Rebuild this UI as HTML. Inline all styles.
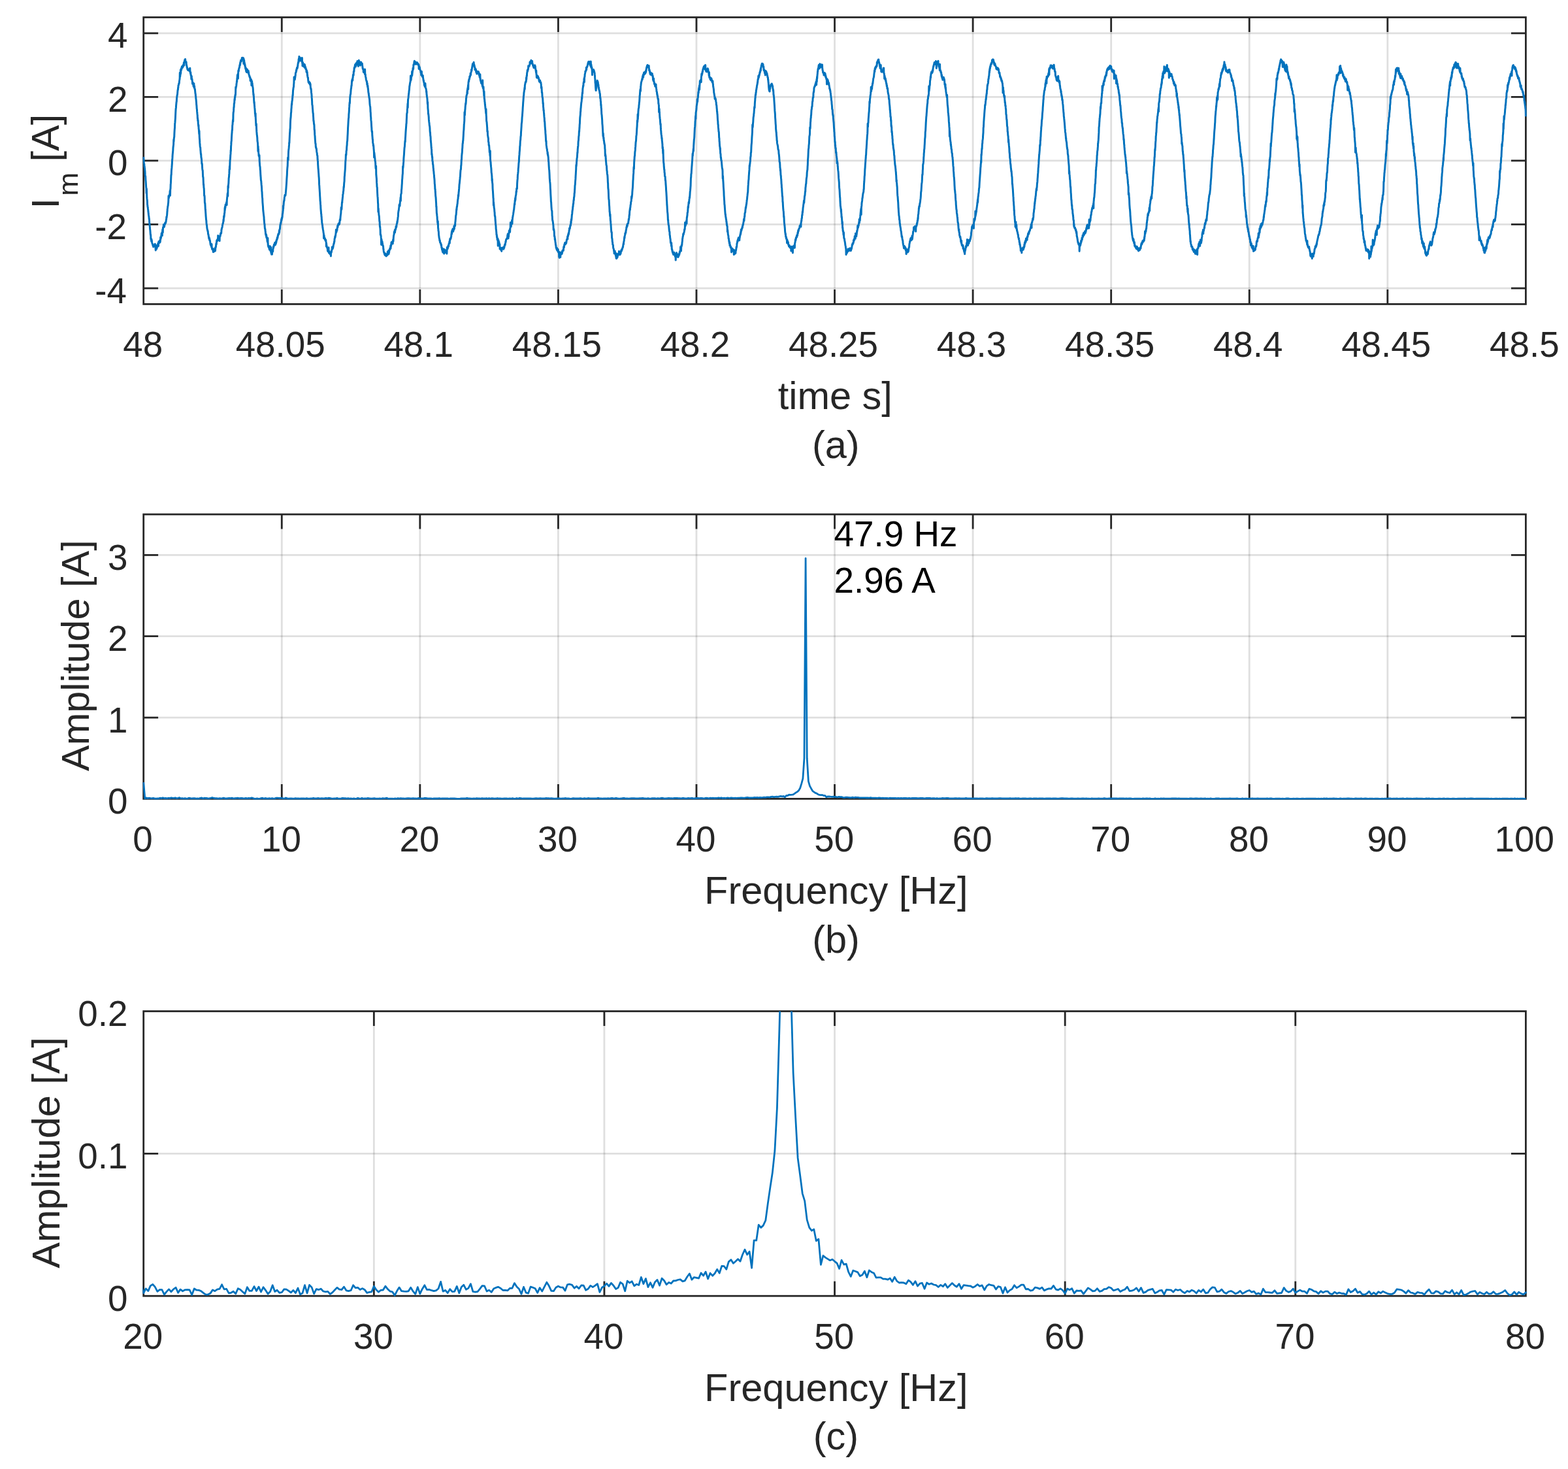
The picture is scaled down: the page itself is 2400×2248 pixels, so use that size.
<!DOCTYPE html>
<html lang="en"><head><meta charset="utf-8"><title>Motor current: time signal and spectrum</title>
<style>html,body{margin:0;padding:0;background:#fff}svg{display:block}text{font-family:"Liberation Sans",sans-serif}</style></head>
<body>
<svg width="2400" height="2248" viewBox="0 0 2400 2248">
<rect width="2400" height="2248" fill="#fff"/>
<defs>
<clipPath id="clip-a"><rect x="218.31" y="26.50" width="2118.48" height="440.29"/></clipPath>
<clipPath id="clip-b"><rect x="218.31" y="787.10" width="2118.48" height="436.69"/></clipPath>
<clipPath id="clip-c"><rect x="218.31" y="1547.50" width="2118.48" height="437.09"/></clipPath>
</defs>
<g id="axes-a">
<path d="M431.27 26.50V465.40M642.84 26.50V465.40M854.41 26.50V465.40M1065.98 26.50V465.40M1277.55 26.50V465.40M1489.12 26.50V465.40M1700.69 26.50V465.40M1912.26 26.50V465.40M2123.83 26.50V465.40" stroke="#262626" stroke-opacity="0.15" stroke-width="2.78" fill="none"/>
<path d="M219.70 441.02H2335.40M219.70 343.48H2335.40M219.70 245.95H2335.40M219.70 148.42H2335.40M219.70 50.88H2335.40" stroke="#262626" stroke-opacity="0.15" stroke-width="2.78" fill="none"/>
<path d="M431.27 465.40v-22.40M431.27 26.50v22.40M642.84 465.40v-22.40M642.84 26.50v22.40M854.41 465.40v-22.40M854.41 26.50v22.40M1065.98 465.40v-22.40M1065.98 26.50v22.40M1277.55 465.40v-22.40M1277.55 26.50v22.40M1489.12 465.40v-22.40M1489.12 26.50v22.40M1700.69 465.40v-22.40M1700.69 26.50v22.40M1912.26 465.40v-22.40M1912.26 26.50v22.40M2123.83 465.40v-22.40M2123.83 26.50v22.40M219.70 441.02h22.40M2335.40 441.02h-22.40M219.70 343.48h22.40M2335.40 343.48h-22.40M219.70 245.95h22.40M2335.40 245.95h-22.40M219.70 148.42h22.40M2335.40 148.42h-22.40M219.70 50.88h22.40M2335.40 50.88h-22.40" stroke="#262626" stroke-width="2.78" fill="none"/>
<rect x="219.70" y="26.50" width="2115.70" height="438.90" stroke="#262626" stroke-width="2.78" fill="none"/>
<polyline clip-path="url(#clip-a)" points="219.7,240.1 219.9,243.0 220.1,246.5 220.3,248.7 220.5,250.0 220.8,251.4 221.0,255.5 221.2,254.5 221.4,257.2 221.6,258.1 221.8,261.1 222.0,262.3 222.2,267.4 222.5,270.1 222.7,270.0 222.9,275.3 223.1,277.1 223.3,279.9 223.5,283.6 223.7,286.8 223.9,287.9 224.1,295.7 224.4,288.8 224.6,296.1 224.8,301.6 225.0,304.4 225.2,306.1 225.4,307.4 225.6,313.3 225.8,314.1 226.0,316.6 226.3,317.7 226.5,320.0 226.7,321.0 226.9,323.9 227.1,324.9 227.3,327.3 227.5,329.0 227.7,330.2 228.0,332.2 228.2,335.5 228.4,334.5 228.6,338.8 228.8,342.5 229.0,341.9 229.2,346.5 229.4,347.5 229.6,350.6 229.9,352.8 230.1,355.4 230.3,358.6 230.5,359.9 230.7,359.4 230.9,365.9 231.1,364.6 231.3,365.4 231.5,368.2 231.8,369.5 232.0,366.2 232.2,370.1 232.4,368.0 232.6,370.7 232.8,372.1 233.0,372.5 233.2,373.1 233.5,373.1 233.7,374.6 233.9,375.5 234.1,375.9 234.3,374.9 234.5,375.7 234.7,377.8 234.9,377.3 235.1,376.0 235.4,376.9 235.6,376.5 235.8,377.0 236.0,376.1 236.2,375.3 236.4,374.8 236.6,376.2 236.8,374.0 237.0,376.8 237.3,373.3 237.5,376.1 237.7,376.8 237.9,378.1 238.1,381.0 238.3,383.0 238.5,377.5 238.7,375.4 239.0,379.2 239.2,375.4 239.4,378.0 239.6,376.9 239.8,380.8 240.0,377.7 240.2,378.1 240.4,376.7 240.6,377.2 240.9,378.2 241.1,375.3 241.3,374.9 241.5,374.3 241.7,373.1 241.9,372.3 242.1,372.9 242.3,373.9 242.5,376.5 242.8,369.8 243.0,370.3 243.2,370.8 243.4,371.3 243.6,370.8 243.8,370.8 244.0,371.1 244.2,371.5 244.5,368.0 244.7,369.9 244.9,370.4 245.1,370.5 245.3,369.1 245.5,366.6 245.7,363.0 245.9,365.9 246.1,364.6 246.4,364.1 246.6,364.0 246.8,360.3 247.0,360.6 247.2,357.2 247.4,360.1 247.6,358.4 247.8,356.2 248.1,356.4 248.3,360.6 248.5,354.8 248.7,352.4 248.9,351.0 249.1,350.6 249.3,355.7 249.5,348.0 249.7,348.3 250.0,348.3 250.2,348.2 250.4,343.8 250.6,346.2 250.8,346.8 251.0,345.9 251.2,346.4 251.4,347.2 251.6,346.3 251.9,343.8 252.1,343.7 252.3,341.9 252.5,343.2 252.7,341.7 252.9,340.6 253.1,340.5 253.3,341.8 253.6,340.7 253.8,339.6 254.0,340.0 254.2,337.3 254.4,335.6 254.6,336.2 254.8,332.0 255.0,333.2 255.2,331.5 255.5,329.7 255.7,328.3 255.9,324.9 256.1,323.3 256.3,319.3 256.5,318.5 256.7,316.6 256.9,315.5 257.1,315.0 257.4,311.6 257.6,310.7 257.8,307.1 258.0,299.8 258.2,303.4 258.4,303.1 258.6,301.7 258.8,301.2 259.1,300.2 259.3,298.6 259.5,297.4 259.7,298.4 259.9,296.0 260.1,292.3 260.3,293.9 260.5,299.3 260.7,290.3 261.0,288.5 261.2,282.4 261.4,280.4 261.6,276.7 261.8,271.4 262.0,267.2 262.2,267.8 262.4,262.2 262.6,259.5 262.9,256.7 263.1,253.6 263.3,251.2 263.5,246.3 263.7,244.5 263.9,241.9 264.1,237.9 264.3,235.4 264.6,233.0 264.8,230.3 265.0,225.9 265.2,224.6 265.4,222.7 265.6,221.1 265.8,213.9 266.0,216.6 266.2,212.8 266.5,210.0 266.7,209.9 266.9,204.4 267.1,200.5 267.3,197.7 267.5,195.5 267.7,189.2 267.9,187.9 268.1,184.8 268.4,181.1 268.6,176.3 268.8,171.6 269.0,168.1 269.2,166.0 269.4,164.7 269.6,161.4 269.8,159.1 270.1,155.9 270.3,155.6 270.5,151.4 270.7,148.9 270.9,148.0 271.1,145.6 271.3,145.6 271.5,144.6 271.7,142.1 272.0,138.5 272.2,137.2 272.4,137.4 272.6,134.0 272.8,134.3 273.0,130.7 273.2,130.6 273.4,130.4 273.7,127.8 273.9,128.5 274.1,127.6 274.3,127.0 274.5,123.8 274.7,122.8 274.9,121.4 275.1,120.4 275.3,111.3 275.6,117.5 275.8,116.5 276.0,112.9 276.2,114.0 276.4,106.8 276.6,112.6 276.8,110.1 277.0,107.6 277.2,107.3 277.5,104.5 277.7,107.0 277.9,103.9 278.1,104.7 278.3,101.9 278.5,103.1 278.7,101.5 278.9,103.2 279.2,103.9 279.4,103.3 279.6,102.5 279.8,102.8 280.0,100.0 280.2,99.5 280.4,100.4 280.6,101.4 280.8,99.7 281.1,99.5 281.3,96.0 281.5,96.2 281.7,100.3 281.9,95.0 282.1,96.0 282.3,93.9 282.5,93.8 282.7,91.7 283.0,91.8 283.2,92.8 283.4,92.4 283.6,90.4 283.8,93.7 284.0,94.1 284.2,93.9 284.4,95.1 284.7,95.6 284.9,95.4 285.1,94.9 285.3,100.0 285.5,99.0 285.7,100.1 285.9,101.3 286.1,102.6 286.3,103.8 286.6,103.3 286.8,105.9 287.0,106.2 287.2,106.6 287.4,106.8 287.6,107.4 287.8,106.1 288.0,107.2 288.2,106.9 288.5,106.9 288.7,107.8 288.9,107.4 289.1,107.4 289.3,105.8 289.5,106.7 289.7,107.2 289.9,106.0 290.2,106.1 290.4,109.4 290.6,106.1 290.8,104.2 291.0,109.8 291.2,109.4 291.4,111.4 291.6,113.1 291.8,110.7 292.1,115.5 292.3,115.2 292.5,115.0 292.7,118.1 292.9,121.2 293.1,118.0 293.3,116.4 293.5,121.1 293.7,121.0 294.0,121.0 294.2,122.6 294.4,125.0 294.6,128.3 294.8,125.4 295.0,126.1 295.2,126.3 295.4,127.4 295.7,129.0 295.9,129.9 296.1,132.1 296.3,131.6 296.5,131.7 296.7,132.9 296.9,127.7 297.1,134.3 297.3,132.0 297.6,131.8 297.8,135.3 298.0,135.2 298.2,137.0 298.4,136.4 298.6,138.8 298.8,140.8 299.0,142.8 299.3,144.1 299.5,147.3 299.7,147.3 299.9,151.1 300.1,152.0 300.3,155.0 300.5,156.4 300.7,160.3 300.9,161.6 301.2,166.4 301.4,167.1 301.6,170.4 301.8,172.3 302.0,174.7 302.2,175.9 302.4,181.5 302.6,180.8 302.8,185.0 303.1,183.9 303.3,189.6 303.5,190.4 303.7,193.1 303.9,191.3 304.1,196.9 304.3,197.6 304.5,200.9 304.8,205.2 305.0,200.2 305.2,208.3 305.4,212.3 305.6,214.0 305.8,218.4 306.0,220.7 306.2,223.7 306.4,225.3 306.7,225.7 306.9,229.6 307.1,231.8 307.3,234.6 307.5,236.5 307.7,235.5 307.9,240.2 308.1,241.6 308.3,242.4 308.6,244.7 308.8,250.0 309.0,251.0 309.2,250.1 309.4,252.1 309.6,256.8 309.8,258.9 310.0,260.4 310.3,261.7 310.5,267.4 310.7,270.9 310.9,270.7 311.1,272.9 311.3,278.0 311.5,283.1 311.7,281.8 311.9,286.8 312.2,288.2 312.4,292.5 312.6,299.6 312.8,298.9 313.0,299.6 313.2,302.5 313.4,309.6 313.6,311.0 313.8,310.7 314.1,316.2 314.3,320.3 314.5,321.7 314.7,324.8 314.9,327.6 315.1,330.8 315.3,333.3 315.5,336.0 315.8,337.5 316.0,341.2 316.2,342.8 316.4,344.7 316.6,344.9 316.8,347.7 317.0,349.8 317.2,350.3 317.4,351.7 317.7,352.0 317.9,353.7 318.1,353.3 318.3,354.9 318.5,357.5 318.7,358.9 318.9,358.4 319.1,359.6 319.3,361.2 319.6,363.6 319.8,364.9 320.0,363.2 320.2,363.6 320.4,364.3 320.6,367.5 320.8,365.6 321.0,368.1 321.3,367.8 321.5,368.5 321.7,370.7 321.9,371.3 322.1,373.9 322.3,373.4 322.5,375.3 322.7,373.6 322.9,375.0 323.2,374.9 323.4,376.3 323.6,378.2 323.8,377.7 324.0,373.6 324.2,378.4 324.4,379.3 324.6,381.3 324.9,380.7 325.1,381.2 325.3,382.0 325.5,381.1 325.7,380.5 325.9,383.2 326.1,383.4 326.3,385.7 326.5,383.2 326.8,383.5 327.0,385.5 327.2,382.6 327.4,382.2 327.6,383.8 327.8,383.4 328.0,384.0 328.2,381.9 328.4,384.4 328.7,382.7 328.9,379.7 329.1,381.6 329.3,380.5 329.5,383.9 329.7,381.1 329.9,379.0 330.1,377.6 330.4,378.2 330.6,375.5 330.8,373.2 331.0,372.2 331.2,374.0 331.4,372.2 331.6,369.1 331.8,367.9 332.0,367.7 332.3,367.1 332.5,368.6 332.7,368.7 332.9,367.0 333.1,366.8 333.3,365.1 333.5,366.3 333.7,360.6 333.9,365.6 334.2,366.6 334.4,367.4 334.6,364.7 334.8,363.7 335.0,363.7 335.2,363.5 335.4,363.5 335.6,361.6 335.9,362.2 336.1,368.8 336.3,362.8 336.5,362.0 336.7,360.7 336.9,361.7 337.1,361.5 337.3,360.0 337.5,357.8 337.8,358.4 338.0,356.4 338.2,357.5 338.4,356.8 338.6,357.0 338.8,354.9 339.0,351.3 339.2,351.4 339.4,349.8 339.7,348.7 339.9,348.5 340.1,347.7 340.3,346.3 340.5,344.6 340.7,343.8 340.9,342.7 341.1,342.0 341.4,341.9 341.6,340.1 341.8,339.6 342.0,336.1 342.2,338.5 342.4,335.1 342.6,330.8 342.8,332.6 343.0,332.1 343.3,329.3 343.5,326.3 343.7,326.3 343.9,323.8 344.1,318.0 344.3,321.7 344.5,316.1 344.7,318.5 344.9,318.0 345.2,312.9 345.4,314.9 345.6,314.0 345.8,312.8 346.0,312.7 346.2,313.6 346.4,310.3 346.6,310.1 346.9,308.8 347.1,313.7 347.3,306.1 347.5,304.5 347.7,301.9 347.9,301.6 348.1,297.9 348.3,295.9 348.5,295.3 348.8,300.0 349.0,284.8 349.2,286.1 349.4,287.6 349.6,282.3 349.8,281.0 350.0,276.7 350.2,272.3 350.5,271.0 350.7,267.2 350.9,265.4 351.1,259.2 351.3,257.4 351.5,254.2 351.7,259.2 351.9,250.8 352.1,245.2 352.4,243.6 352.6,240.6 352.8,236.7 353.0,235.4 353.2,229.8 353.4,231.2 353.6,223.7 353.8,221.9 354.0,217.3 354.3,215.6 354.5,210.5 354.7,207.2 354.9,204.4 355.1,201.8 355.3,198.5 355.5,199.4 355.7,192.2 356.0,190.5 356.2,187.2 356.4,184.8 356.6,183.3 356.8,186.0 357.0,175.4 357.2,171.8 357.4,171.5 357.6,169.2 357.9,163.8 358.1,164.1 358.3,158.4 358.5,158.6 358.7,157.7 358.9,153.7 359.1,151.2 359.3,153.2 359.5,148.2 359.8,148.8 360.0,145.3 360.2,145.9 360.4,145.7 360.6,141.4 360.8,133.2 361.0,135.4 361.2,133.6 361.5,132.6 361.7,131.4 361.9,129.6 362.1,127.4 362.3,126.2 362.5,123.8 362.7,124.9 362.9,120.2 363.1,119.1 363.4,114.8 363.6,115.7 363.8,115.9 364.0,113.5 364.2,114.4 364.4,120.3 364.6,112.9 364.8,108.0 365.0,108.0 365.3,109.1 365.5,106.9 365.7,104.8 365.9,104.4 366.1,103.6 366.3,104.1 366.5,102.9 366.7,101.1 367.0,99.3 367.2,100.4 367.4,99.8 367.6,96.2 367.8,97.8 368.0,94.7 368.2,95.1 368.4,93.7 368.6,92.2 368.9,92.9 369.1,92.4 369.3,94.1 369.5,93.5 369.7,91.6 369.9,90.3 370.1,90.1 370.3,88.6 370.5,90.5 370.8,90.3 371.0,89.0 371.2,89.8 371.4,89.7 371.6,90.6 371.8,88.2 372.0,90.6 372.2,88.9 372.5,91.5 372.7,88.9 372.9,97.6 373.1,90.4 373.3,93.9 373.5,93.3 373.7,92.2 373.9,95.4 374.1,95.3 374.4,97.0 374.6,100.3 374.8,98.3 375.0,99.2 375.2,102.1 375.4,101.2 375.6,103.9 375.8,105.2 376.1,105.0 376.3,106.7 376.5,104.0 376.7,109.2 376.9,106.9 377.1,106.9 377.3,110.5 377.5,110.1 377.7,107.2 378.0,108.2 378.2,107.0 378.4,106.0 378.6,107.8 378.8,108.8 379.0,110.9 379.2,107.8 379.4,109.5 379.6,108.5 379.9,109.1 380.1,111.6 380.3,108.6 380.5,110.0 380.7,111.1 380.9,114.2 381.1,114.1 381.3,115.0 381.6,115.6 381.8,117.2 382.0,116.1 382.2,117.1 382.4,117.7 382.6,119.4 382.8,117.9 383.0,119.8 383.2,123.8 383.5,121.8 383.7,121.6 383.9,120.8 384.1,122.5 384.3,122.7 384.5,123.4 384.7,122.1 384.9,130.8 385.1,124.2 385.4,125.0 385.6,124.2 385.8,126.4 386.0,128.9 386.2,127.5 386.4,130.6 386.6,131.1 386.8,133.0 387.1,134.1 387.3,136.3 387.5,140.3 387.7,141.9 387.9,145.3 388.1,143.9 388.3,147.6 388.5,148.9 388.7,153.3 389.0,157.8 389.2,156.0 389.4,160.1 389.6,162.4 389.8,164.9 390.0,166.6 390.2,169.1 390.4,174.1 390.6,173.6 390.9,178.1 391.1,173.4 391.3,180.6 391.5,184.0 391.7,188.0 391.9,192.3 392.1,192.4 392.3,189.4 392.6,197.6 392.8,201.4 393.0,203.4 393.2,206.4 393.4,207.2 393.6,209.0 393.8,211.2 394.0,215.7 394.2,216.9 394.5,218.8 394.7,222.4 394.9,231.5 395.1,223.8 395.3,228.2 395.5,229.6 395.7,233.2 395.9,234.6 396.1,238.6 396.4,238.5 396.6,239.1 396.8,240.1 397.0,237.6 397.2,246.1 397.4,249.2 397.6,252.3 397.8,254.3 398.1,255.8 398.3,260.0 398.5,260.6 398.7,265.4 398.9,269.0 399.1,270.8 399.3,274.3 399.5,276.7 399.7,276.5 400.0,280.7 400.2,283.0 400.4,284.7 400.6,287.5 400.8,292.5 401.0,293.4 401.2,297.6 401.4,301.2 401.7,303.9 401.9,309.3 402.1,311.7 402.3,314.2 402.5,316.4 402.7,320.6 402.9,323.1 403.1,324.4 403.3,326.3 403.6,329.3 403.8,330.8 404.0,332.1 404.2,336.8 404.4,338.1 404.6,340.9 404.8,343.2 405.0,342.8 405.2,347.1 405.5,350.0 405.7,350.2 405.9,350.3 406.1,353.9 406.3,354.0 406.5,357.3 406.7,358.5 406.9,359.8 407.2,360.1 407.4,358.6 407.6,362.8 407.8,360.1 408.0,363.9 408.2,363.7 408.4,363.3 408.6,364.5 408.8,365.9 409.1,369.3 409.3,368.0 409.5,370.7 409.7,367.6 409.9,364.3 410.1,372.7 410.3,375.4 410.5,375.7 410.7,377.5 411.0,375.7 411.2,377.8 411.4,377.4 411.6,379.3 411.8,379.5 412.0,377.8 412.2,380.8 412.4,382.0 412.7,379.8 412.9,382.0 413.1,381.6 413.3,380.5 413.5,376.7 413.7,381.5 413.9,383.9 414.1,382.0 414.3,382.8 414.6,378.2 414.8,386.0 415.0,387.3 415.2,386.7 415.4,386.0 415.6,389.3 415.8,386.7 416.0,389.3 416.2,388.5 416.5,389.3 416.7,384.2 416.9,386.0 417.1,385.0 417.3,385.2 417.5,382.2 417.7,384.9 417.9,381.4 418.2,377.8 418.4,379.8 418.6,378.4 418.8,376.7 419.0,377.7 419.2,376.0 419.4,374.3 419.6,374.6 419.8,373.9 420.1,374.4 420.3,373.3 420.5,373.2 420.7,371.3 420.9,371.9 421.1,372.7 421.3,375.0 421.5,371.1 421.7,370.8 422.0,372.4 422.2,373.3 422.4,371.9 422.6,369.1 422.8,371.0 423.0,369.8 423.2,368.4 423.4,366.6 423.7,367.4 423.9,366.8 424.1,366.6 424.3,363.3 424.5,363.2 424.7,363.7 424.9,364.3 425.1,362.7 425.3,360.2 425.6,360.9 425.8,358.3 426.0,358.5 426.2,358.2 426.4,357.5 426.6,357.3 426.8,358.4 427.0,357.1 427.3,353.1 427.5,356.2 427.7,354.2 427.9,351.2 428.1,351.3 428.3,350.7 428.5,350.0 428.7,346.5 428.9,344.7 429.2,343.0 429.4,343.4 429.6,341.0 429.8,342.3 430.0,339.9 430.2,340.0 430.4,338.1 430.6,336.5 430.8,335.3 431.1,337.0 431.3,333.5 431.5,334.7 431.7,334.4 431.9,332.2 432.1,332.4 432.3,329.2 432.5,327.2 432.8,326.0 433.0,323.3 433.2,322.2 433.4,314.9 433.6,319.3 433.8,315.4 434.0,314.3 434.2,311.7 434.4,309.3 434.7,307.1 434.9,307.6 435.1,306.0 435.3,303.3 435.5,301.3 435.7,300.6 435.9,299.3 436.1,298.3 436.3,298.7 436.6,298.9 436.8,299.4 437.0,298.4 437.2,296.7 437.4,294.3 437.6,292.3 437.8,290.2 438.0,287.5 438.3,283.5 438.5,280.6 438.7,277.0 438.9,273.3 439.1,270.7 439.3,267.6 439.5,262.3 439.7,259.0 439.9,256.5 440.2,253.6 440.4,247.4 440.6,241.2 440.8,244.5 441.0,241.2 441.2,244.7 441.4,235.8 441.6,231.1 441.8,229.4 442.1,226.9 442.3,224.2 442.5,221.9 442.7,217.9 442.9,218.8 443.1,213.2 443.3,209.2 443.5,204.7 443.8,201.6 444.0,197.4 444.2,196.7 444.4,189.1 444.6,184.1 444.8,181.7 445.0,180.3 445.2,177.6 445.4,173.1 445.7,171.6 445.9,166.7 446.1,165.5 446.3,161.3 446.5,158.6 446.7,160.5 446.9,155.7 447.1,154.9 447.3,153.8 447.6,151.0 447.8,148.6 448.0,145.2 448.2,146.2 448.4,141.1 448.6,137.8 448.8,137.2 449.0,135.0 449.3,133.5 449.5,132.8 449.7,128.9 449.9,127.3 450.1,117.9 450.3,121.7 450.5,122.6 450.7,121.9 450.9,119.5 451.2,122.1 451.4,121.0 451.6,119.2 451.8,118.5 452.0,115.9 452.2,115.9 452.4,112.2 452.6,111.2 452.9,110.8 453.1,110.8 453.3,108.5 453.5,107.3 453.7,108.6 453.9,106.2 454.1,105.2 454.3,105.3 454.5,103.3 454.8,103.2 455.0,104.9 455.2,103.1 455.4,103.3 455.6,100.6 455.8,101.2 456.0,97.9 456.2,97.3 456.4,95.4 456.7,95.4 456.9,95.7 457.1,90.7 457.3,91.9 457.5,89.3 457.7,93.6 457.9,86.5 458.1,87.3 458.4,88.9 458.6,87.6 458.8,91.1 459.0,88.5 459.2,90.1 459.4,90.2 459.6,90.3 459.8,90.2 460.0,88.8 460.3,93.1 460.5,91.0 460.7,92.1 460.9,90.1 461.1,92.2 461.3,91.5 461.5,92.8 461.7,91.9 461.9,92.0 462.2,94.2 462.4,88.6 462.6,96.7 462.8,95.4 463.0,100.9 463.2,97.8 463.4,96.5 463.6,95.4 463.9,101.2 464.1,101.2 464.3,100.6 464.5,100.5 464.7,100.9 464.9,101.1 465.1,100.2 465.3,101.6 465.5,102.4 465.8,102.2 466.0,98.2 466.2,103.4 466.4,100.9 466.6,99.2 466.8,100.7 467.0,102.9 467.2,102.6 467.4,102.4 467.7,102.7 467.9,105.9 468.1,104.7 468.3,105.9 468.5,105.6 468.7,105.9 468.9,108.5 469.1,110.4 469.4,108.9 469.6,108.0 469.8,110.2 470.0,111.7 470.2,110.2 470.4,115.4 470.6,114.4 470.8,117.5 471.0,118.0 471.3,119.3 471.5,118.9 471.7,123.0 471.9,123.6 472.1,125.8 472.3,124.2 472.5,125.9 472.7,125.4 472.9,127.4 473.2,126.8 473.4,125.3 473.6,126.9 473.8,126.1 474.0,126.4 474.2,127.7 474.4,129.6 474.6,127.1 474.9,128.8 475.1,128.7 475.3,133.3 475.5,134.1 475.7,136.1 475.9,136.2 476.1,135.7 476.3,138.3 476.5,141.2 476.8,143.5 477.0,145.4 477.2,149.4 477.4,151.4 477.6,154.6 477.8,160.2 478.0,160.8 478.2,161.4 478.5,166.1 478.7,168.2 478.9,171.1 479.1,173.3 479.3,173.6 479.5,177.4 479.7,180.5 479.9,185.1 480.1,184.4 480.4,188.2 480.6,190.4 480.8,189.8 481.0,192.6 481.2,198.6 481.4,198.3 481.6,201.9 481.8,206.4 482.0,207.6 482.3,213.3 482.5,215.5 482.7,218.3 482.9,220.2 483.1,219.8 483.3,224.2 483.5,225.4 483.7,226.5 484.0,226.3 484.2,228.1 484.4,227.8 484.6,230.8 484.8,232.7 485.0,233.2 485.2,234.2 485.4,237.1 485.6,237.7 485.9,238.2 486.1,243.5 486.3,245.4 486.5,246.6 486.7,251.9 486.9,255.1 487.1,258.5 487.3,259.9 487.5,263.0 487.8,267.0 488.0,270.1 488.2,272.1 488.4,276.1 488.6,282.4 488.8,284.4 489.0,288.0 489.2,291.0 489.5,295.7 489.7,299.7 489.9,302.8 490.1,307.5 490.3,308.5 490.5,312.2 490.7,314.0 490.9,318.8 491.1,321.0 491.4,324.5 491.6,327.3 491.8,327.7 492.0,331.3 492.2,332.5 492.4,336.4 492.6,336.9 492.8,341.0 493.0,341.6 493.3,343.6 493.5,344.2 493.7,346.5 493.9,348.6 494.1,348.9 494.3,351.0 494.5,351.8 494.7,352.8 495.0,355.1 495.2,356.6 495.4,357.2 495.6,364.8 495.8,359.7 496.0,359.9 496.2,361.2 496.4,363.5 496.6,365.3 496.9,364.5 497.1,365.3 497.3,364.5 497.5,366.8 497.7,367.1 497.9,366.4 498.1,368.3 498.3,368.4 498.5,366.8 498.8,367.7 499.0,369.5 499.2,370.8 499.4,377.3 499.6,372.6 499.8,374.4 500.0,375.5 500.2,377.6 500.5,378.1 500.7,379.3 500.9,379.6 501.1,379.1 501.3,381.0 501.5,383.9 501.7,383.6 501.9,384.8 502.1,384.3 502.4,383.1 502.6,383.6 502.8,385.1 503.0,378.7 503.2,385.8 503.4,386.8 503.6,387.1 503.8,386.8 504.1,384.5 504.3,388.1 504.5,385.4 504.7,385.6 504.9,387.7 505.1,387.9 505.3,388.8 505.5,388.3 505.7,387.6 506.0,388.4 506.2,387.1 506.4,392.0 506.6,387.4 506.8,386.9 507.0,386.6 507.2,385.3 507.4,386.0 507.6,383.1 507.9,382.2 508.1,382.5 508.3,378.1 508.5,381.0 508.7,380.3 508.9,378.4 509.1,380.7 509.3,379.0 509.6,379.6 509.8,378.7 510.0,377.4 510.2,376.4 510.4,374.8 510.6,374.3 510.8,372.9 511.0,372.7 511.2,372.8 511.5,369.8 511.7,370.4 511.9,369.2 512.1,365.3 512.3,365.0 512.5,364.5 512.7,362.8 512.9,361.6 513.1,363.2 513.4,360.6 513.6,360.7 513.8,358.0 514.0,357.8 514.2,354.6 514.4,351.4 514.6,355.7 514.8,354.1 515.1,354.9 515.3,352.7 515.5,351.4 515.7,350.9 515.9,352.6 516.1,349.9 516.3,348.1 516.5,347.4 516.7,345.5 517.0,347.6 517.2,344.7 517.4,345.4 517.6,343.9 517.8,343.2 518.0,342.4 518.2,343.5 518.4,342.3 518.6,343.7 518.9,343.8 519.1,341.2 519.3,341.5 519.5,342.9 519.7,341.3 519.9,339.5 520.1,336.8 520.3,336.3 520.6,335.3 520.8,336.9 521.0,333.4 521.2,331.1 521.4,329.4 521.6,327.6 521.8,326.6 522.0,322.5 522.2,317.5 522.5,321.1 522.7,320.4 522.9,320.2 523.1,316.2 523.3,312.2 523.5,309.3 523.7,310.6 523.9,307.0 524.1,305.6 524.4,302.6 524.6,300.9 524.8,297.3 525.0,297.2 525.2,296.2 525.4,293.2 525.6,292.9 525.8,291.0 526.1,285.7 526.3,286.9 526.5,283.8 526.7,280.4 526.9,278.8 527.1,277.1 527.3,270.3 527.5,269.3 527.7,265.8 528.0,262.4 528.2,259.8 528.4,256.7 528.6,252.1 528.8,246.5 529.0,245.5 529.2,242.5 529.4,236.4 529.7,237.8 529.9,236.5 530.1,231.6 530.3,230.3 530.5,230.0 530.7,225.3 530.9,223.4 531.1,222.0 531.3,216.8 531.6,216.2 531.8,212.8 532.0,208.3 532.2,205.1 532.4,200.2 532.6,195.5 532.8,192.5 533.0,188.8 533.2,185.4 533.5,180.9 533.7,180.7 533.9,174.8 534.1,173.1 534.3,170.3 534.5,165.8 534.7,163.4 534.9,159.6 535.2,156.5 535.4,158.2 535.6,153.3 535.8,148.7 536.0,147.8 536.2,145.0 536.4,144.5 536.6,144.3 536.8,141.9 537.1,137.8 537.3,135.6 537.5,135.6 537.7,133.3 537.9,130.9 538.1,131.6 538.3,128.5 538.5,124.8 538.7,123.0 539.0,124.5 539.2,121.2 539.4,123.0 539.6,122.3 539.8,122.9 540.0,118.2 540.2,118.7 540.4,114.4 540.7,115.5 540.9,114.2 541.1,115.1 541.3,109.6 541.5,110.3 541.7,108.5 541.9,109.5 542.1,104.6 542.3,103.5 542.6,104.5 542.8,102.8 543.0,101.8 543.2,100.6 543.4,101.1 543.6,98.7 543.8,100.6 544.0,100.6 544.2,100.0 544.5,101.9 544.7,99.5 544.9,96.9 545.1,97.4 545.3,98.3 545.5,96.6 545.7,99.2 545.9,97.0 546.2,95.9 546.4,95.5 546.6,97.1 546.8,94.8 547.0,93.4 547.2,95.8 547.4,94.1 547.6,96.6 547.8,96.8 548.1,93.6 548.3,101.4 548.5,93.9 548.7,94.8 548.9,94.5 549.1,93.2 549.3,92.3 549.5,94.9 549.7,97.0 550.0,94.1 550.2,95.5 550.4,95.9 550.6,97.0 550.8,94.9 551.0,97.8 551.2,97.5 551.4,100.2 551.7,98.6 551.9,98.6 552.1,97.7 552.3,97.1 552.5,98.1 552.7,95.0 552.9,98.2 553.1,97.4 553.3,96.6 553.6,98.6 553.8,96.8 554.0,97.3 554.2,99.1 554.4,97.3 554.6,100.4 554.8,101.1 555.0,103.6 555.3,105.4 555.5,105.1 555.7,105.5 555.9,106.5 556.1,105.9 556.3,110.3 556.5,109.4 556.7,110.7 556.9,107.3 557.2,109.8 557.4,109.9 557.6,110.8 557.8,108.7 558.0,110.6 558.2,110.4 558.4,113.7 558.6,106.0 558.8,112.8 559.1,113.7 559.3,114.1 559.5,116.9 559.7,118.1 559.9,118.2 560.1,119.6 560.3,121.5 560.5,122.1 560.8,123.8 561.0,123.3 561.2,124.0 561.4,126.0 561.6,124.7 561.8,129.5 562.0,128.8 562.2,127.4 562.4,130.8 562.7,133.3 562.9,130.9 563.1,133.2 563.3,136.6 563.5,135.8 563.7,139.5 563.9,141.6 564.1,141.8 564.3,143.8 564.6,146.1 564.8,146.8 565.0,149.1 565.2,149.5 565.4,151.4 565.6,152.4 565.8,155.9 566.0,159.1 566.3,161.5 566.5,162.7 566.7,163.2 566.9,166.7 567.1,171.3 567.3,172.5 567.5,178.2 567.7,179.0 567.9,183.9 568.2,185.9 568.4,189.2 568.6,193.3 568.8,195.5 569.0,199.8 569.2,201.3 569.4,202.3 569.6,201.1 569.8,207.2 570.1,210.1 570.3,213.5 570.5,213.2 570.7,218.3 570.9,219.2 571.1,219.7 571.3,223.2 571.5,221.7 571.8,223.9 572.0,227.6 572.2,229.3 572.4,232.0 572.6,240.9 572.8,233.5 573.0,234.9 573.2,236.9 573.4,238.6 573.7,241.2 573.9,242.0 574.1,246.2 574.3,246.7 574.5,247.5 574.7,250.2 574.9,255.0 575.1,257.6 575.3,258.3 575.6,254.1 575.8,267.3 576.0,269.0 576.2,271.3 576.4,273.5 576.6,279.4 576.8,281.3 577.0,286.2 577.3,286.8 577.5,292.6 577.7,296.8 577.9,300.4 578.1,302.0 578.3,305.5 578.5,310.6 578.7,312.0 578.9,324.3 579.2,318.9 579.4,322.3 579.6,325.1 579.8,326.8 580.0,329.5 580.2,330.0 580.4,331.9 580.6,335.4 580.8,338.7 581.1,338.9 581.3,344.8 581.5,347.3 581.7,346.7 581.9,349.4 582.1,351.4 582.3,359.4 582.5,358.4 582.8,359.5 583.0,360.0 583.2,363.2 583.4,364.6 583.6,374.5 583.8,367.6 584.0,366.3 584.2,367.5 584.4,370.1 584.7,370.6 584.9,370.5 585.1,369.8 585.3,372.5 585.5,372.3 585.7,375.7 585.9,375.9 586.1,375.4 586.4,376.3 586.6,377.7 586.8,381.3 587.0,381.0 587.2,383.9 587.4,385.4 587.6,385.4 587.8,386.7 588.0,386.4 588.3,387.2 588.5,389.2 588.7,388.8 588.9,388.8 589.1,390.3 589.3,389.9 589.5,387.8 589.7,391.0 589.9,388.2 590.2,389.4 590.4,390.4 590.6,390.1 590.8,390.6 591.0,390.0 591.2,392.0 591.4,391.7 591.6,391.5 591.9,388.7 592.1,389.4 592.3,391.1 592.5,389.9 592.7,389.8 592.9,388.5 593.1,387.9 593.3,385.2 593.5,389.9 593.8,386.4 594.0,387.1 594.2,388.4 594.4,387.8 594.6,383.4 594.8,387.3 595.0,385.9 595.2,388.5 595.4,384.6 595.7,385.8 595.9,382.8 596.1,383.2 596.3,381.5 596.5,381.5 596.7,380.3 596.9,381.0 597.1,381.5 597.4,379.1 597.6,378.4 597.8,376.1 598.0,380.2 598.2,377.3 598.4,374.9 598.6,376.7 598.8,374.7 599.0,371.1 599.3,371.2 599.5,373.3 599.7,370.1 599.9,370.0 600.1,370.2 600.3,370.5 600.5,370.5 600.7,371.7 600.9,371.2 601.2,372.9 601.4,369.7 601.6,366.8 601.8,368.2 602.0,369.1 602.2,365.0 602.4,362.4 602.6,360.5 602.9,359.3 603.1,358.9 603.3,355.1 603.5,356.7 603.7,354.3 603.9,354.8 604.1,355.3 604.3,351.8 604.5,355.9 604.8,353.6 605.0,351.6 605.2,352.1 605.4,350.3 605.6,350.7 605.8,350.5 606.0,346.6 606.2,348.5 606.4,347.5 606.7,347.6 606.9,346.2 607.1,343.5 607.3,342.6 607.5,342.1 607.7,341.8 607.9,339.1 608.1,340.7 608.4,337.9 608.6,336.4 608.8,335.6 609.0,332.8 609.2,332.0 609.4,330.3 609.6,325.4 609.8,324.8 610.0,322.5 610.3,322.2 610.5,319.5 610.7,318.2 610.9,316.2 611.1,313.4 611.3,315.1 611.5,313.2 611.7,312.3 612.0,315.1 612.2,311.4 612.4,308.4 612.6,306.4 612.8,306.5 613.0,303.2 613.2,301.7 613.4,307.5 613.6,298.7 613.9,296.7 614.1,296.3 614.3,295.9 614.5,290.6 614.7,289.7 614.9,287.0 615.1,283.4 615.3,281.0 615.5,275.9 615.8,273.1 616.0,269.4 616.2,267.0 616.4,265.6 616.6,254.7 616.8,257.5 617.0,256.0 617.2,253.8 617.5,249.9 617.7,247.4 617.9,242.4 618.1,240.0 618.3,237.9 618.5,235.3 618.7,231.7 618.9,228.5 619.1,225.9 619.4,224.5 619.6,221.1 619.8,218.0 620.0,215.4 620.2,217.2 620.4,211.9 620.6,209.0 620.8,205.4 621.0,201.9 621.3,197.9 621.5,195.1 621.7,192.8 621.9,189.3 622.1,189.0 622.3,183.6 622.5,179.2 622.7,174.5 623.0,172.8 623.2,172.6 623.4,167.0 623.6,165.2 623.8,162.3 624.0,158.6 624.2,164.7 624.4,155.6 624.6,152.1 624.9,150.5 625.1,148.9 625.3,146.7 625.5,144.9 625.7,143.6 625.9,141.8 626.1,139.1 626.3,138.2 626.5,136.5 626.8,131.6 627.0,131.6 627.2,129.8 627.4,128.6 627.6,127.2 627.8,126.1 628.0,125.0 628.2,125.1 628.5,116.1 628.7,123.1 628.9,120.2 629.1,122.7 629.3,120.8 629.5,117.4 629.7,117.8 629.9,117.4 630.1,115.3 630.4,116.0 630.6,109.6 630.8,115.5 631.0,112.4 631.2,111.6 631.4,109.1 631.6,107.5 631.8,108.3 632.0,104.2 632.3,105.5 632.5,105.9 632.7,105.0 632.9,99.1 633.1,99.8 633.3,99.3 633.5,98.4 633.7,98.0 634.0,94.5 634.2,95.8 634.4,93.3 634.6,95.5 634.8,98.1 635.0,94.5 635.2,96.1 635.4,96.2 635.6,94.4 635.9,96.9 636.1,95.5 636.3,97.1 636.5,98.2 636.7,96.8 636.9,98.0 637.1,95.8 637.3,95.9 637.6,96.8 637.8,96.0 638.0,95.9 638.2,96.9 638.4,95.5 638.6,96.9 638.8,96.1 639.0,98.2 639.2,97.2 639.5,97.1 639.7,98.8 639.9,98.7 640.1,99.2 640.3,98.2 640.5,100.4 640.7,99.5 640.9,98.8 641.1,105.5 641.4,103.5 641.6,102.1 641.8,101.5 642.0,103.6 642.2,102.6 642.4,103.7 642.6,104.6 642.8,106.0 643.1,107.0 643.3,107.4 643.5,107.9 643.7,108.3 643.9,109.3 644.1,111.1 644.3,111.5 644.5,111.9 644.7,115.0 645.0,114.6 645.2,115.2 645.4,109.2 645.6,115.2 645.8,115.4 646.0,116.3 646.2,114.6 646.4,115.2 646.6,117.7 646.9,116.2 647.1,118.1 647.3,115.6 647.5,119.1 647.7,120.2 647.9,121.0 648.1,122.7 648.3,123.9 648.6,123.3 648.8,126.1 649.0,126.5 649.2,127.1 649.4,130.4 649.6,128.0 649.8,129.8 650.0,130.0 650.2,132.6 650.5,131.1 650.7,131.9 650.9,127.4 651.1,130.6 651.3,133.2 651.5,134.8 651.7,135.1 651.9,135.2 652.1,136.1 652.4,137.9 652.6,141.2 652.8,139.6 653.0,144.3 653.2,145.2 653.4,147.6 653.6,148.6 653.8,149.4 654.1,153.0 654.3,157.7 654.5,159.5 654.7,156.2 654.9,165.3 655.1,167.5 655.3,169.6 655.5,174.6 655.7,173.9 656.0,176.8 656.2,178.9 656.4,182.9 656.6,184.9 656.8,186.9 657.0,188.1 657.2,190.5 657.4,192.6 657.6,192.9 657.9,195.7 658.1,200.5 658.3,202.9 658.5,202.6 658.7,207.6 658.9,208.1 659.1,210.4 659.3,215.5 659.6,217.7 659.8,219.7 660.0,223.2 660.2,225.8 660.4,227.5 660.6,228.6 660.8,236.6 661.0,234.9 661.2,237.6 661.5,241.1 661.7,240.0 661.9,246.6 662.1,246.6 662.3,247.2 662.5,251.5 662.7,251.2 662.9,252.5 663.2,257.0 663.4,257.8 663.6,261.5 663.8,261.7 664.0,264.3 664.2,266.4 664.4,267.5 664.6,271.1 664.8,272.7 665.1,276.2 665.3,281.2 665.5,282.3 665.7,284.8 665.9,289.8 666.1,289.3 666.3,293.5 666.5,295.8 666.7,300.0 667.0,301.7 667.2,304.4 667.4,308.1 667.6,310.8 667.8,316.6 668.0,315.8 668.2,321.8 668.4,326.1 668.7,327.6 668.9,330.2 669.1,331.3 669.3,335.6 669.5,336.7 669.7,340.6 669.9,339.2 670.1,343.4 670.3,338.5 670.6,349.5 670.8,349.5 671.0,353.3 671.2,353.4 671.4,355.1 671.6,359.6 671.8,360.8 672.0,362.5 672.2,364.4 672.5,365.0 672.7,366.5 672.9,368.3 673.1,367.5 673.3,367.8 673.5,370.8 673.7,370.7 673.9,370.8 674.2,371.8 674.4,373.1 674.6,372.1 674.8,372.9 675.0,373.9 675.2,375.8 675.4,374.1 675.6,375.3 675.8,378.7 676.1,379.4 676.3,378.7 676.5,381.9 676.7,381.3 676.9,382.5 677.1,383.9 677.3,383.8 677.5,385.6 677.7,384.5 678.0,386.2 678.2,381.1 678.4,381.8 678.6,381.9 678.8,382.7 679.0,381.6 679.2,381.1 679.4,381.2 679.7,388.3 679.9,383.3 680.1,381.7 680.3,383.0 680.5,384.0 680.7,384.3 680.9,382.9 681.1,382.6 681.3,385.9 681.6,382.7 681.8,383.5 682.0,386.0 682.2,386.5 682.4,386.2 682.6,385.0 682.8,386.5 683.0,387.2 683.2,385.2 683.5,387.6 683.7,384.5 683.9,388.2 684.1,383.0 684.3,378.6 684.5,381.3 684.7,380.3 684.9,380.3 685.2,380.8 685.4,379.5 685.6,378.8 685.8,376.7 686.0,375.8 686.2,376.6 686.4,377.4 686.6,376.7 686.8,375.3 687.1,372.7 687.3,373.0 687.5,372.6 687.7,372.4 687.9,369.5 688.1,369.2 688.3,372.3 688.5,368.0 688.8,365.6 689.0,367.3 689.2,364.9 689.4,365.1 689.6,366.1 689.8,364.5 690.0,364.9 690.2,364.6 690.4,362.6 690.7,361.9 690.9,358.6 691.1,357.7 691.3,355.7 691.5,354.3 691.7,357.9 691.9,353.1 692.1,354.9 692.3,352.1 692.6,353.0 692.8,351.7 693.0,350.2 693.2,353.8 693.4,351.7 693.6,352.1 693.8,354.2 694.0,351.1 694.3,351.5 694.5,351.7 694.7,351.4 694.9,346.1 695.1,349.6 695.3,350.3 695.5,348.3 695.7,346.5 695.9,345.4 696.2,343.8 696.4,343.6 696.6,345.7 696.8,340.0 697.0,339.3 697.2,336.9 697.4,334.6 697.6,331.3 697.8,329.7 698.1,328.7 698.3,326.3 698.5,324.1 698.7,320.0 698.9,321.3 699.1,318.2 699.3,316.2 699.5,316.6 699.8,313.8 700.0,312.3 700.2,311.6 700.4,308.9 700.6,306.8 700.8,305.0 701.0,304.9 701.2,302.7 701.4,298.4 701.7,300.5 701.9,297.1 702.1,294.3 702.3,293.1 702.5,290.3 702.7,288.4 702.9,285.2 703.1,282.0 703.3,281.1 703.6,278.0 703.8,275.8 704.0,273.9 704.2,271.2 704.4,270.4 704.6,266.1 704.8,262.9 705.0,260.7 705.3,258.9 705.5,259.0 705.7,253.4 705.9,253.2 706.1,249.5 706.3,244.3 706.5,244.6 706.7,239.2 706.9,236.8 707.2,234.3 707.4,232.2 707.6,227.9 707.8,226.3 708.0,221.9 708.2,219.0 708.4,219.4 708.6,215.5 708.8,215.7 709.1,210.5 709.3,207.4 709.5,202.9 709.7,200.0 709.9,198.6 710.1,194.1 710.3,189.6 710.5,188.4 710.8,184.9 711.0,171.8 711.2,176.0 711.4,176.4 711.6,173.1 711.8,168.2 712.0,167.4 712.2,163.7 712.4,161.6 712.7,158.2 712.9,159.7 713.1,157.4 713.3,154.5 713.5,150.2 713.7,150.1 713.9,146.8 714.1,146.6 714.4,145.0 714.6,144.6 714.8,143.2 715.0,140.8 715.2,138.4 715.4,143.3 715.6,136.0 715.8,135.1 716.0,134.0 716.3,133.1 716.5,130.2 716.7,136.6 716.9,128.0 717.1,125.3 717.3,124.6 717.5,122.9 717.7,124.7 717.9,121.2 718.2,121.6 718.4,121.0 718.6,120.3 718.8,117.1 719.0,116.9 719.2,118.0 719.4,117.7 719.6,115.7 719.9,115.5 720.1,112.2 720.3,115.1 720.5,114.8 720.7,112.2 720.9,111.2 721.1,110.5 721.3,109.0 721.5,106.7 721.8,108.7 722.0,108.0 722.2,105.6 722.4,104.9 722.6,103.0 722.8,103.2 723.0,100.3 723.2,100.6 723.4,97.8 723.7,98.2 723.9,99.0 724.1,97.9 724.3,98.5 724.5,98.6 724.7,96.3 724.9,96.0 725.1,95.3 725.4,98.3 725.6,99.3 725.8,101.1 726.0,99.5 726.2,101.1 726.4,103.0 726.6,102.3 726.8,103.2 727.0,106.8 727.3,104.4 727.5,105.7 727.7,106.9 727.9,107.5 728.1,105.5 728.3,106.3 728.5,106.5 728.7,110.5 728.9,110.4 729.2,108.9 729.4,111.8 729.6,111.5 729.8,113.0 730.0,109.0 730.2,110.1 730.4,110.9 730.6,111.3 730.9,112.1 731.1,112.1 731.3,110.8 731.5,112.2 731.7,109.8 731.9,111.6 732.1,112.0 732.3,109.5 732.5,111.3 732.8,110.8 733.0,112.3 733.2,115.0 733.4,112.3 733.6,115.2 733.8,113.1 734.0,117.0 734.2,118.2 734.4,116.7 734.7,117.6 734.9,113.7 735.1,121.5 735.3,120.0 735.5,123.7 735.7,123.3 735.9,124.3 736.1,124.3 736.4,127.2 736.6,125.4 736.8,124.5 737.0,124.8 737.2,128.2 737.4,128.2 737.6,127.9 737.8,128.9 738.0,128.5 738.3,131.8 738.5,129.4 738.7,122.7 738.9,132.0 739.1,134.3 739.3,133.7 739.5,135.4 739.7,135.2 740.0,132.8 740.2,137.8 740.4,140.7 740.6,140.2 740.8,146.5 741.0,139.8 741.2,147.2 741.4,151.6 741.6,151.1 741.9,155.6 742.1,156.2 742.3,159.5 742.5,161.1 742.7,162.4 742.9,164.7 743.1,166.9 743.3,165.9 743.5,170.4 743.8,173.7 744.0,166.9 744.2,176.2 744.4,178.3 744.6,184.5 744.8,186.1 745.0,186.5 745.2,189.1 745.5,193.0 745.7,195.3 745.9,201.5 746.1,201.0 746.3,200.5 746.5,206.9 746.7,207.7 746.9,208.8 747.1,210.6 747.4,211.4 747.6,217.4 747.8,217.1 748.0,218.0 748.2,222.4 748.4,222.6 748.6,222.2 748.8,224.7 749.0,227.5 749.3,233.1 749.5,232.3 749.7,233.9 749.9,236.9 750.1,238.8 750.3,230.8 750.5,243.6 750.7,246.8 751.0,247.7 751.2,250.8 751.4,253.2 751.6,255.4 751.8,256.9 752.0,259.9 752.2,264.0 752.4,265.0 752.6,266.6 752.9,270.0 753.1,276.7 753.3,273.7 753.5,278.7 753.7,280.3 753.9,281.7 754.1,288.5 754.3,291.1 754.5,293.5 754.8,298.8 755.0,303.0 755.2,303.7 755.4,314.3 755.6,309.3 755.8,312.5 756.0,314.5 756.2,317.9 756.5,319.0 756.7,320.8 756.9,324.0 757.1,325.0 757.3,330.0 757.5,330.9 757.7,330.4 757.9,332.3 758.1,336.5 758.4,339.5 758.6,343.5 758.8,344.2 759.0,346.3 759.2,351.3 759.4,351.2 759.6,353.5 759.8,355.6 760.0,359.3 760.3,359.1 760.5,363.2 760.7,361.2 760.9,364.1 761.1,366.7 761.3,364.6 761.5,365.5 761.7,368.1 762.0,365.1 762.2,376.2 762.4,367.9 762.6,367.2 762.8,371.4 763.0,367.8 763.2,369.4 763.4,369.7 763.6,371.4 763.9,370.3 764.1,372.8 764.3,373.5 764.5,373.8 764.7,375.8 764.9,373.6 765.1,381.1 765.3,378.6 765.6,379.1 765.8,379.7 766.0,379.5 766.2,380.1 766.4,381.9 766.6,382.3 766.8,382.0 767.0,381.2 767.2,381.4 767.5,382.8 767.7,384.4 767.9,379.3 768.1,380.4 768.3,380.8 768.5,380.3 768.7,381.0 768.9,381.2 769.1,380.2 769.4,379.8 769.6,380.1 769.8,381.0 770.0,379.6 770.2,378.5 770.4,379.7 770.6,379.0 770.8,381.2 771.1,378.8 771.3,378.4 771.5,379.3 771.7,379.5 771.9,376.6 772.1,377.6 772.3,375.5 772.5,375.9 772.7,374.0 773.0,374.4 773.2,375.0 773.4,372.5 773.6,372.0 773.8,370.1 774.0,370.6 774.2,369.8 774.4,367.7 774.6,366.7 774.9,366.6 775.1,365.8 775.3,366.0 775.5,365.3 775.7,364.9 775.9,365.2 776.1,365.4 776.3,365.1 776.6,362.3 776.8,360.0 777.0,364.9 777.2,358.0 777.4,364.0 777.6,363.2 777.8,364.4 778.0,364.8 778.2,361.2 778.5,362.4 778.7,358.9 778.9,357.7 779.1,355.1 779.3,353.1 779.5,353.5 779.7,353.6 779.9,353.5 780.1,352.4 780.4,350.8 780.6,355.2 780.8,349.6 781.0,349.1 781.2,347.7 781.4,340.6 781.6,347.0 781.8,347.2 782.1,346.2 782.3,346.9 782.5,343.9 782.7,341.3 782.9,341.9 783.1,340.6 783.3,341.2 783.5,337.3 783.7,338.9 784.0,342.5 784.2,335.8 784.4,335.9 784.6,332.5 784.8,332.5 785.0,331.1 785.2,329.4 785.4,328.6 785.6,327.5 785.9,325.0 786.1,324.4 786.3,322.2 786.5,321.4 786.7,320.6 786.9,318.1 787.1,316.3 787.3,314.1 787.6,311.3 787.8,313.1 788.0,309.5 788.2,306.3 788.4,308.0 788.6,303.2 788.8,306.4 789.0,304.5 789.2,300.7 789.5,299.4 789.7,298.2 789.9,297.7 790.1,292.9 790.3,294.2 790.5,293.5 790.7,288.8 790.9,288.2 791.2,287.1 791.4,288.9 791.6,281.2 791.8,277.8 792.0,275.3 792.2,273.9 792.4,268.6 792.6,266.7 792.8,265.4 793.1,262.4 793.3,257.8 793.5,256.9 793.7,253.9 793.9,250.6 794.1,248.6 794.3,247.9 794.5,242.6 794.7,239.3 795.0,236.4 795.2,232.5 795.4,231.0 795.6,227.6 795.8,223.8 796.0,223.2 796.2,218.2 796.4,215.5 796.7,214.0 796.9,210.0 797.1,208.4 797.3,207.6 797.5,202.2 797.7,200.1 797.9,196.8 798.1,194.0 798.3,189.5 798.6,187.5 798.8,186.0 799.0,181.8 799.2,178.7 799.4,177.6 799.6,174.4 799.8,171.4 800.0,168.8 800.2,164.8 800.5,161.1 800.7,157.1 800.9,155.0 801.1,152.3 801.3,149.3 801.5,146.4 801.7,145.9 801.9,142.3 802.2,140.6 802.4,139.1 802.6,137.6 802.8,135.9 803.0,134.0 803.2,136.4 803.4,130.2 803.6,129.7 803.8,128.4 804.1,127.1 804.3,125.7 804.5,126.3 804.7,124.8 804.9,125.6 805.1,125.4 805.3,124.0 805.5,118.9 805.7,121.8 806.0,117.9 806.2,115.5 806.4,116.4 806.6,112.6 806.8,110.9 807.0,110.6 807.2,107.6 807.4,108.4 807.7,108.8 807.9,106.2 808.1,106.4 808.3,106.5 808.5,105.6 808.7,100.7 808.9,103.3 809.1,102.1 809.3,102.2 809.6,100.8 809.8,100.7 810.0,100.5 810.2,100.9 810.4,100.7 810.6,99.4 810.8,97.7 811.0,95.1 811.2,95.9 811.5,94.6 811.7,95.7 811.9,96.0 812.1,97.0 812.3,95.1 812.5,97.3 812.7,94.8 812.9,92.3 813.2,93.7 813.4,92.7 813.6,94.5 813.8,95.7 814.0,94.9 814.2,95.1 814.4,93.7 814.6,93.3 814.8,97.1 815.1,97.3 815.3,97.7 815.5,98.7 815.7,100.5 815.9,99.6 816.1,99.9 816.3,100.4 816.5,102.7 816.8,101.7 817.0,103.8 817.2,100.8 817.4,103.0 817.6,102.1 817.8,102.2 818.0,102.3 818.2,102.8 818.4,103.7 818.7,99.8 818.9,101.9 819.1,102.5 819.3,101.2 819.5,104.7 819.7,105.1 819.9,107.1 820.1,107.2 820.3,109.5 820.6,111.2 820.8,108.0 821.0,113.9 821.2,113.9 821.4,118.6 821.6,116.9 821.8,117.6 822.0,117.5 822.3,119.2 822.5,115.7 822.7,117.3 822.9,116.3 823.1,116.5 823.3,117.9 823.5,116.8 823.7,118.9 823.9,118.5 824.2,118.6 824.4,119.2 824.6,120.1 824.8,121.3 825.0,123.2 825.2,122.4 825.4,124.9 825.6,124.6 825.8,124.9 826.1,124.6 826.3,125.3 826.5,125.8 826.7,123.1 826.9,125.3 827.1,126.1 827.3,126.5 827.5,127.1 827.8,126.0 828.0,128.1 828.2,128.5 828.4,134.8 828.6,132.1 828.8,132.8 829.0,133.5 829.2,137.8 829.4,141.9 829.7,141.3 829.9,144.7 830.1,148.2 830.3,149.0 830.5,149.3 830.7,151.4 830.9,154.4 831.1,159.0 831.3,157.3 831.6,164.1 831.8,165.2 832.0,169.1 832.2,168.2 832.4,171.4 832.6,173.1 832.8,176.4 833.0,178.9 833.3,181.2 833.5,186.2 833.7,185.5 833.9,188.4 834.1,192.8 834.3,195.3 834.5,198.0 834.7,199.5 834.9,203.9 835.2,207.4 835.4,211.0 835.6,215.1 835.8,216.9 836.0,215.6 836.2,221.4 836.4,223.2 836.6,224.2 836.8,226.2 837.1,227.7 837.3,228.5 837.5,230.2 837.7,231.5 837.9,232.0 838.1,235.7 838.3,233.4 838.5,237.7 838.8,236.8 839.0,239.5 839.2,240.2 839.4,243.7 839.6,247.4 839.8,247.9 840.0,251.9 840.2,255.1 840.4,258.4 840.7,260.5 840.9,263.9 841.1,267.8 841.3,273.1 841.5,275.1 841.7,277.9 841.9,279.5 842.1,281.8 842.4,289.2 842.6,291.4 842.8,296.7 843.0,300.2 843.2,303.5 843.4,308.8 843.6,309.2 843.8,312.8 844.0,316.6 844.3,320.4 844.5,321.5 844.7,322.8 844.9,322.9 845.1,330.4 845.3,330.8 845.5,335.1 845.7,337.7 845.9,337.3 846.2,339.3 846.4,340.6 846.6,342.7 846.8,343.5 847.0,346.0 847.2,351.8 847.4,349.9 847.6,350.3 847.9,351.6 848.1,353.4 848.3,355.4 848.5,361.8 848.7,360.9 848.9,361.9 849.1,363.0 849.3,366.9 849.5,365.1 849.8,368.0 850.0,370.5 850.2,371.0 850.4,373.0 850.6,375.0 850.8,374.8 851.0,377.2 851.2,379.4 851.4,379.5 851.7,379.6 851.9,381.4 852.1,379.3 852.3,382.5 852.5,379.5 852.7,380.9 852.9,383.3 853.1,382.3 853.4,381.3 853.6,383.1 853.8,384.6 854.0,383.4 854.2,381.6 854.4,386.0 854.6,384.0 854.8,385.1 855.0,385.6 855.3,386.4 855.5,386.7 855.7,393.1 855.9,386.4 856.1,394.4 856.3,385.8 856.5,389.3 856.7,387.1 856.9,387.8 857.2,386.7 857.4,387.8 857.6,387.1 857.8,393.8 858.0,387.5 858.2,388.3 858.4,386.3 858.6,389.6 858.9,387.3 859.1,387.9 859.3,387.9 859.5,388.4 859.7,386.8 859.9,388.7 860.1,388.1 860.3,385.3 860.5,387.5 860.8,383.6 861.0,385.2 861.2,384.2 861.4,383.9 861.6,383.0 861.8,383.2 862.0,382.6 862.2,381.5 862.4,383.3 862.7,378.4 862.9,377.4 863.1,377.7 863.3,377.5 863.5,378.5 863.7,375.0 863.9,374.0 864.1,374.8 864.4,372.8 864.6,371.8 864.8,372.8 865.0,371.3 865.2,371.9 865.4,374.1 865.6,372.4 865.8,372.3 866.0,371.1 866.3,372.6 866.5,371.8 866.7,372.0 866.9,370.2 867.1,369.3 867.3,367.3 867.5,366.5 867.7,366.4 868.0,365.5 868.2,365.0 868.4,364.3 868.6,362.1 868.8,366.1 869.0,362.7 869.2,361.4 869.4,359.6 869.6,361.3 869.9,358.6 870.1,357.0 870.3,357.5 870.5,358.3 870.7,355.6 870.9,355.6 871.1,352.4 871.3,353.2 871.5,349.2 871.8,350.2 872.0,350.5 872.2,349.4 872.4,349.3 872.6,346.9 872.8,344.9 873.0,346.1 873.2,343.8 873.5,345.0 873.7,342.4 873.9,338.8 874.1,341.6 874.3,337.0 874.5,335.4 874.7,337.2 874.9,334.8 875.1,332.5 875.4,328.4 875.6,328.2 875.8,326.2 876.0,323.4 876.2,322.4 876.4,320.6 876.6,319.6 876.8,316.2 877.0,316.7 877.3,312.1 877.5,312.6 877.7,311.2 877.9,307.6 878.1,305.8 878.3,306.6 878.5,302.1 878.7,302.1 879.0,299.6 879.2,295.7 879.4,295.4 879.6,291.6 879.8,289.7 880.0,284.0 880.2,283.1 880.4,281.0 880.6,277.5 880.9,273.9 881.1,269.4 881.3,266.4 881.5,262.2 881.7,260.2 881.9,252.5 882.1,254.3 882.3,252.1 882.5,248.8 882.8,245.4 883.0,242.7 883.2,241.6 883.4,240.5 883.6,236.9 883.8,233.1 884.0,233.9 884.2,229.2 884.5,225.7 884.7,224.6 884.9,222.9 885.1,217.3 885.3,215.5 885.5,215.0 885.7,210.6 885.9,208.0 886.1,208.0 886.4,200.5 886.6,201.7 886.8,197.7 887.0,195.5 887.2,190.8 887.4,189.2 887.6,184.5 887.8,180.1 888.0,178.1 888.3,175.7 888.5,170.7 888.7,170.9 888.9,166.1 889.1,165.1 889.3,162.2 889.5,160.2 889.7,157.9 890.0,156.0 890.2,154.7 890.4,152.3 890.6,148.9 890.8,151.3 891.0,146.4 891.2,143.7 891.4,141.5 891.6,143.1 891.9,136.4 892.1,134.6 892.3,133.8 892.5,131.3 892.7,131.4 892.9,131.6 893.1,126.7 893.3,127.1 893.6,124.8 893.8,123.7 894.0,120.3 894.2,121.3 894.4,125.6 894.6,118.1 894.8,117.8 895.0,117.1 895.2,113.6 895.5,112.7 895.7,111.4 895.9,109.2 896.1,110.2 896.3,109.4 896.5,109.0 896.7,107.9 896.9,107.7 897.1,107.5 897.4,103.3 897.6,107.1 897.8,103.9 898.0,102.9 898.2,102.6 898.4,103.3 898.6,101.8 898.8,101.5 899.1,101.6 899.3,99.7 899.5,99.4 899.7,98.9 899.9,96.7 900.1,98.1 900.3,95.6 900.5,96.2 900.7,94.5 901.0,94.6 901.2,94.2 901.4,95.6 901.6,95.5 901.8,95.8 902.0,94.9 902.2,94.6 902.4,94.5 902.6,96.7 902.9,96.5 903.1,98.9 903.3,100.1 903.5,99.0 903.7,99.3 903.9,100.9 904.1,101.6 904.3,94.0 904.6,101.6 904.8,103.2 905.0,99.0 905.2,102.1 905.4,103.3 905.6,102.9 905.8,105.3 906.0,103.3 906.2,107.7 906.5,114.8 906.7,107.2 906.9,108.5 907.1,106.4 907.3,110.3 907.5,109.7 907.7,108.8 907.9,108.6 908.1,108.2 908.4,108.9 908.6,106.6 908.8,109.6 909.0,108.8 909.2,107.9 909.4,109.4 909.6,109.7 909.8,110.6 910.1,111.9 910.3,114.2 910.5,115.8 910.7,119.9 910.9,121.1 911.1,127.2 911.3,126.8 911.5,130.8 911.7,134.3 912.0,137.6 912.2,138.5 912.4,135.8 912.6,135.4 912.8,132.8 913.0,131.8 913.2,127.4 913.4,127.6 913.6,125.1 913.9,126.3 914.1,124.6 914.3,123.2 914.5,124.7 914.7,125.3 914.9,124.6 915.1,126.6 915.3,126.1 915.6,131.5 915.8,129.2 916.0,130.6 916.2,134.3 916.4,135.2 916.6,133.9 916.8,137.3 917.0,137.9 917.2,137.6 917.5,139.7 917.7,139.9 917.9,142.7 918.1,142.6 918.3,143.2 918.5,145.7 918.7,150.4 918.9,149.1 919.2,152.0 919.4,155.4 919.6,155.2 919.8,161.5 920.0,159.8 920.2,165.4 920.4,165.5 920.6,170.2 920.8,174.6 921.1,176.0 921.3,178.8 921.5,181.7 921.7,184.2 921.9,189.6 922.1,191.0 922.3,193.7 922.5,197.7 922.7,201.1 923.0,208.4 923.2,203.9 923.4,206.0 923.6,209.8 923.8,212.1 924.0,210.6 924.2,215.2 924.4,214.6 924.7,217.1 924.9,219.7 925.1,219.1 925.3,221.3 925.5,221.4 925.7,222.5 925.9,227.7 926.1,228.8 926.3,238.5 926.6,235.8 926.8,238.7 927.0,238.3 927.2,243.0 927.4,244.9 927.6,247.5 927.8,249.6 928.0,252.4 928.2,252.9 928.5,254.3 928.7,258.1 928.9,261.2 929.1,261.5 929.3,265.4 929.5,266.8 929.7,267.2 929.9,268.8 930.2,274.1 930.4,279.2 930.6,280.5 930.8,287.7 931.0,289.6 931.2,290.7 931.4,295.2 931.6,301.3 931.8,305.0 932.1,305.5 932.3,309.9 932.5,313.8 932.7,315.8 932.9,319.9 933.1,324.4 933.3,323.9 933.5,328.2 933.7,331.0 934.0,328.1 934.2,334.1 934.4,337.6 934.6,338.3 934.8,341.7 935.0,342.7 935.2,346.9 935.4,349.9 935.7,354.0 935.9,355.5 936.1,355.8 936.3,355.4 936.5,362.6 936.7,364.5 936.9,364.9 937.1,366.7 937.3,369.9 937.6,370.7 937.8,374.3 938.0,374.3 938.2,374.5 938.4,375.1 938.6,378.6 938.8,380.0 939.0,380.3 939.2,380.6 939.5,382.1 939.7,384.3 939.9,383.5 940.1,388.0 940.3,385.3 940.5,386.2 940.7,384.2 940.9,384.6 941.2,384.2 941.4,385.6 941.6,387.0 941.8,387.5 942.0,389.2 942.2,390.2 942.4,391.0 942.6,392.1 942.8,391.4 943.1,395.2 943.3,387.8 943.5,395.7 943.7,393.4 943.9,394.8 944.1,395.3 944.3,393.5 944.5,393.9 944.8,393.9 945.0,390.8 945.2,393.4 945.4,389.1 945.6,389.1 945.8,389.0 946.0,389.3 946.2,390.4 946.4,388.1 946.7,388.7 946.9,388.0 947.1,388.8 947.3,389.7 947.5,384.4 947.7,388.2 947.9,387.5 948.1,389.3 948.3,388.4 948.6,387.3 948.8,389.8 949.0,389.0 949.2,389.7 949.4,386.6 949.6,387.2 949.8,387.4 950.0,388.2 950.3,385.8 950.5,383.8 950.7,384.7 950.9,384.4 951.1,382.6 951.3,384.4 951.5,382.5 951.7,381.4 951.9,382.6 952.2,382.2 952.4,380.4 952.6,380.3 952.8,379.9 953.0,378.7 953.2,378.0 953.4,378.5 953.6,377.4 953.8,375.3 954.1,373.6 954.3,372.3 954.5,373.8 954.7,370.4 954.9,369.5 955.1,369.1 955.3,367.0 955.5,365.1 955.8,362.5 956.0,364.3 956.2,361.0 956.4,360.7 956.6,359.7 956.8,357.2 957.0,356.7 957.2,358.0 957.4,356.3 957.7,354.8 957.9,355.8 958.1,352.3 958.3,352.4 958.5,351.2 958.7,350.0 958.9,347.4 959.1,348.5 959.3,348.0 959.6,344.6 959.8,346.3 960.0,345.7 960.2,346.0 960.4,342.6 960.6,343.1 960.8,342.4 961.0,342.1 961.3,341.8 961.5,341.8 961.7,341.0 961.9,338.6 962.1,337.9 962.3,335.0 962.5,336.4 962.7,334.5 962.9,333.4 963.2,328.7 963.4,329.7 963.6,325.4 963.8,322.6 964.0,322.5 964.2,319.6 964.4,321.2 964.6,317.5 964.8,317.5 965.1,314.0 965.3,312.9 965.5,312.5 965.7,309.2 965.9,308.6 966.1,308.4 966.3,307.0 966.5,301.1 966.8,304.1 967.0,300.1 967.2,302.0 967.4,299.0 967.6,298.1 967.8,294.1 968.0,291.7 968.2,289.3 968.4,287.5 968.7,282.3 968.9,276.5 969.1,274.3 969.3,269.5 969.5,267.0 969.7,264.9 969.9,258.7 970.1,255.4 970.4,258.5 970.6,249.8 970.8,246.0 971.0,244.3 971.2,240.5 971.4,238.6 971.6,238.6 971.8,233.7 972.0,231.8 972.3,229.7 972.5,225.8 972.7,224.4 972.9,220.7 973.1,217.7 973.3,216.4 973.5,215.9 973.7,212.5 973.9,208.1 974.2,206.7 974.4,204.5 974.6,200.8 974.8,197.2 975.0,194.6 975.2,191.4 975.4,184.5 975.6,187.4 975.9,185.0 976.1,175.0 976.3,182.4 976.5,177.9 976.7,176.9 976.9,171.5 977.1,169.1 977.3,166.7 977.5,165.5 977.8,164.8 978.0,160.9 978.2,160.0 978.4,156.7 978.6,156.1 978.8,153.4 979.0,149.8 979.2,145.8 979.4,145.4 979.7,140.3 979.9,137.3 980.1,139.6 980.3,136.0 980.5,139.5 980.7,132.2 980.9,131.0 981.1,129.0 981.4,126.5 981.6,125.4 981.8,125.1 982.0,124.4 982.2,123.4 982.4,122.6 982.6,121.4 982.8,121.4 983.0,120.1 983.3,121.5 983.5,118.3 983.7,116.4 983.9,117.5 984.1,118.6 984.3,114.6 984.5,115.9 984.7,118.2 984.9,114.3 985.2,112.7 985.4,112.4 985.6,111.0 985.8,111.4 986.0,111.7 986.2,113.9 986.4,112.6 986.6,111.0 986.9,110.2 987.1,112.0 987.3,111.4 987.5,109.9 987.7,112.4 987.9,112.2 988.1,109.7 988.3,108.6 988.5,108.8 988.8,110.2 989.0,106.7 989.2,107.4 989.4,104.2 989.6,104.3 989.8,103.1 990.0,102.1 990.2,102.9 990.4,100.9 990.7,100.1 990.9,100.9 991.1,99.6 991.3,101.9 991.5,100.1 991.7,101.0 991.9,102.8 992.1,102.1 992.4,103.0 992.6,103.5 992.8,103.4 993.0,102.9 993.2,100.6 993.4,105.3 993.6,107.9 993.8,106.9 994.0,106.6 994.3,107.9 994.5,109.1 994.7,111.1 994.9,112.3 995.1,111.9 995.3,113.8 995.5,114.0 995.7,111.7 996.0,114.0 996.2,110.9 996.4,114.5 996.6,112.3 996.8,114.0 997.0,112.3 997.2,113.6 997.4,112.4 997.6,112.9 997.9,113.6 998.1,113.0 998.3,112.6 998.5,115.8 998.7,115.0 998.9,116.8 999.1,117.9 999.3,116.2 999.5,122.3 999.8,121.5 1000.0,123.7 1000.2,122.9 1000.4,123.8 1000.6,120.1 1000.8,125.1 1001.0,124.3 1001.2,125.7 1001.5,128.5 1001.7,128.1 1001.9,127.3 1002.1,129.5 1002.3,129.7 1002.5,129.7 1002.7,132.2 1002.9,131.6 1003.1,130.5 1003.4,130.6 1003.6,132.7 1003.8,132.5 1004.0,128.9 1004.2,133.9 1004.4,133.9 1004.6,135.7 1004.8,136.9 1005.0,140.0 1005.3,140.9 1005.5,140.7 1005.7,144.3 1005.9,143.4 1006.1,145.8 1006.3,147.2 1006.5,146.7 1006.7,149.5 1007.0,150.9 1007.2,152.1 1007.4,152.7 1007.6,151.2 1007.8,158.5 1008.0,157.8 1008.2,160.0 1008.4,160.5 1008.6,171.8 1008.9,168.6 1009.1,166.4 1009.3,171.6 1009.5,172.8 1009.7,177.0 1009.9,179.4 1010.1,181.4 1010.3,182.6 1010.5,185.4 1010.8,189.8 1011.0,191.2 1011.2,189.6 1011.4,196.7 1011.6,199.0 1011.8,200.7 1012.0,204.3 1012.2,205.8 1012.5,207.3 1012.7,209.3 1012.9,212.1 1013.1,211.0 1013.3,215.5 1013.5,216.1 1013.7,219.1 1013.9,220.4 1014.1,227.1 1014.4,225.1 1014.6,230.7 1014.8,235.0 1015.0,229.1 1015.2,237.3 1015.4,242.4 1015.6,247.5 1015.8,249.5 1016.0,250.2 1016.3,256.1 1016.5,257.3 1016.7,259.9 1016.9,259.3 1017.1,264.2 1017.3,264.3 1017.5,268.4 1017.7,270.1 1018.0,269.6 1018.2,271.7 1018.4,276.3 1018.6,275.6 1018.8,278.0 1019.0,282.0 1019.2,283.9 1019.4,286.9 1019.6,291.0 1019.9,294.5 1020.1,298.1 1020.3,301.2 1020.5,306.1 1020.7,308.3 1020.9,313.7 1021.1,315.7 1021.3,319.7 1021.6,324.5 1021.8,325.8 1022.0,327.8 1022.2,331.4 1022.4,337.0 1022.6,336.2 1022.8,339.4 1023.0,341.5 1023.2,343.9 1023.5,344.9 1023.7,345.0 1023.9,347.7 1024.1,350.5 1024.3,352.6 1024.5,354.0 1024.7,354.4 1024.9,354.6 1025.1,359.7 1025.4,360.3 1025.6,362.6 1025.8,364.8 1026.0,365.2 1026.2,366.7 1026.4,370.6 1026.6,371.7 1026.8,370.5 1027.1,372.9 1027.3,374.0 1027.5,376.4 1027.7,371.5 1027.9,377.7 1028.1,375.8 1028.3,381.8 1028.5,381.5 1028.7,381.5 1029.0,384.7 1029.2,383.2 1029.4,384.4 1029.6,387.0 1029.8,386.7 1030.0,387.3 1030.2,386.9 1030.4,387.2 1030.6,389.5 1030.9,389.6 1031.1,386.7 1031.3,387.7 1031.5,387.4 1031.7,387.5 1031.9,386.2 1032.1,389.6 1032.3,387.3 1032.6,390.0 1032.8,388.8 1033.0,388.6 1033.2,392.4 1033.4,390.8 1033.6,391.9 1033.8,392.2 1034.0,392.0 1034.2,398.1 1034.5,393.1 1034.7,390.9 1034.9,390.2 1035.1,391.3 1035.3,391.7 1035.5,386.8 1035.7,387.7 1035.9,388.4 1036.1,390.0 1036.4,389.8 1036.6,389.3 1036.8,391.2 1037.0,388.9 1037.2,391.2 1037.4,391.5 1037.6,393.5 1037.8,393.5 1038.1,393.4 1038.3,392.0 1038.5,392.4 1038.7,392.1 1038.9,391.0 1039.1,390.5 1039.3,388.5 1039.5,389.8 1039.7,390.0 1040.0,388.1 1040.2,385.6 1040.4,387.2 1040.6,385.7 1040.8,385.4 1041.0,383.8 1041.2,383.2 1041.4,383.7 1041.6,377.7 1041.9,380.2 1042.1,379.3 1042.3,378.7 1042.5,384.1 1042.7,378.6 1042.9,377.8 1043.1,375.5 1043.3,376.9 1043.6,374.5 1043.8,375.1 1044.0,371.7 1044.2,370.3 1044.4,369.0 1044.6,365.1 1044.8,365.0 1045.0,363.2 1045.2,361.8 1045.5,361.3 1045.7,357.9 1045.9,359.3 1046.1,357.7 1046.3,358.8 1046.5,357.2 1046.7,356.3 1046.9,355.6 1047.2,355.2 1047.4,353.6 1047.6,351.1 1047.8,352.2 1048.0,351.3 1048.2,350.5 1048.4,346.1 1048.6,340.4 1048.8,346.1 1049.1,344.8 1049.3,345.3 1049.5,343.6 1049.7,342.3 1049.9,341.4 1050.1,341.7 1050.3,340.7 1050.5,338.3 1050.7,337.4 1051.0,342.3 1051.2,335.1 1051.4,332.2 1051.6,332.7 1051.8,329.9 1052.0,329.9 1052.2,325.4 1052.4,325.7 1052.7,324.0 1052.9,321.2 1053.1,316.3 1053.3,318.1 1053.5,317.3 1053.7,313.8 1053.9,312.6 1054.1,309.5 1054.3,311.5 1054.6,310.5 1054.8,307.6 1055.0,305.4 1055.2,304.0 1055.4,301.7 1055.6,303.0 1055.8,300.4 1056.0,297.4 1056.2,293.8 1056.5,291.4 1056.7,289.3 1056.9,286.6 1057.1,284.2 1057.3,277.3 1057.5,271.8 1057.7,271.6 1057.9,266.1 1058.2,266.0 1058.4,261.9 1058.6,259.0 1058.8,255.8 1059.0,253.5 1059.2,250.5 1059.4,247.5 1059.6,245.6 1059.8,242.2 1060.1,235.3 1060.3,238.7 1060.5,235.0 1060.7,234.2 1060.9,232.2 1061.1,230.1 1061.3,227.7 1061.5,231.1 1061.7,223.7 1062.0,218.7 1062.2,215.4 1062.4,212.7 1062.6,211.4 1062.8,209.3 1063.0,204.5 1063.2,200.3 1063.4,196.1 1063.7,193.9 1063.9,190.8 1064.1,185.4 1064.3,184.8 1064.5,179.8 1064.7,177.2 1064.9,181.9 1065.1,172.6 1065.3,171.2 1065.6,169.4 1065.8,168.4 1066.0,166.2 1066.2,162.2 1066.4,161.5 1066.6,159.2 1066.8,159.3 1067.0,157.1 1067.2,151.9 1067.5,156.0 1067.7,154.7 1067.9,150.9 1068.1,149.7 1068.3,149.2 1068.5,146.6 1068.7,143.9 1068.9,140.8 1069.2,142.2 1069.4,138.9 1069.6,135.7 1069.8,136.7 1070.0,133.7 1070.2,137.0 1070.4,131.1 1070.6,137.2 1070.8,132.6 1071.1,128.5 1071.3,123.8 1071.5,126.1 1071.7,125.2 1071.9,125.8 1072.1,125.8 1072.3,124.6 1072.5,123.1 1072.8,121.5 1073.0,121.4 1073.2,125.8 1073.4,117.5 1073.6,117.0 1073.8,113.6 1074.0,112.7 1074.2,115.4 1074.4,113.6 1074.7,113.5 1074.9,112.4 1075.1,109.5 1075.3,110.4 1075.5,109.7 1075.7,108.1 1075.9,106.1 1076.1,106.6 1076.3,105.9 1076.6,103.8 1076.8,103.6 1077.0,103.1 1077.2,102.0 1077.4,103.8 1077.6,102.0 1077.8,102.8 1078.0,101.0 1078.3,101.5 1078.5,104.1 1078.7,101.9 1078.9,105.4 1079.1,103.2 1079.3,104.9 1079.5,106.6 1079.7,99.6 1079.9,106.9 1080.2,106.9 1080.4,108.1 1080.6,106.8 1080.8,109.3 1081.0,107.8 1081.2,107.7 1081.4,109.8 1081.6,107.1 1081.8,108.7 1082.1,109.9 1082.3,107.5 1082.5,106.8 1082.7,105.4 1082.9,106.9 1083.1,104.7 1083.3,104.9 1083.5,105.7 1083.8,106.0 1084.0,107.8 1084.2,109.7 1084.4,109.2 1084.6,109.9 1084.8,111.8 1085.0,113.5 1085.2,116.2 1085.4,110.4 1085.7,116.1 1085.9,118.9 1086.1,118.0 1086.3,117.9 1086.5,119.3 1086.7,118.6 1086.9,118.9 1087.1,121.7 1087.3,120.5 1087.6,119.8 1087.8,119.4 1088.0,119.0 1088.2,123.0 1088.4,121.1 1088.6,120.6 1088.8,120.3 1089.0,120.2 1089.3,123.6 1089.5,123.3 1089.7,124.5 1089.9,122.8 1090.1,125.8 1090.3,123.5 1090.5,124.4 1090.7,125.6 1090.9,123.9 1091.2,128.9 1091.4,128.5 1091.6,132.4 1091.8,132.6 1092.0,134.3 1092.2,134.9 1092.4,137.5 1092.6,139.3 1092.8,142.0 1093.1,143.2 1093.3,144.9 1093.5,145.4 1093.7,147.7 1093.9,147.4 1094.1,151.4 1094.3,148.8 1094.5,151.0 1094.8,150.0 1095.0,151.7 1095.2,151.4 1095.4,151.2 1095.6,154.3 1095.8,154.5 1096.0,156.0 1096.2,156.9 1096.4,160.6 1096.7,160.7 1096.9,162.8 1097.1,165.6 1097.3,167.3 1097.5,171.3 1097.7,170.5 1097.9,174.3 1098.1,175.4 1098.4,181.3 1098.6,184.3 1098.8,185.4 1099.0,190.3 1099.2,190.7 1099.4,194.4 1099.6,196.6 1099.8,198.5 1100.0,201.3 1100.3,201.9 1100.5,205.9 1100.7,210.9 1100.9,211.0 1101.1,216.5 1101.3,217.7 1101.5,222.0 1101.7,224.2 1101.9,224.4 1102.2,229.2 1102.4,226.7 1102.6,233.8 1102.8,235.6 1103.0,235.5 1103.2,240.3 1103.4,242.0 1103.6,241.5 1103.9,245.6 1104.1,245.7 1104.3,245.6 1104.5,248.5 1104.7,250.8 1104.9,252.8 1105.1,255.0 1105.3,256.7 1105.5,258.0 1105.8,259.0 1106.0,261.8 1106.2,273.2 1106.4,269.1 1106.6,270.4 1106.8,276.5 1107.0,278.3 1107.2,281.8 1107.4,286.5 1107.7,290.4 1107.9,292.8 1108.1,299.0 1108.3,302.0 1108.5,305.4 1108.7,308.0 1108.9,313.0 1109.1,313.3 1109.4,317.8 1109.6,320.5 1109.8,323.2 1110.0,325.9 1110.2,328.3 1110.4,327.7 1110.6,330.5 1110.8,332.3 1111.0,332.4 1111.3,335.7 1111.5,335.4 1111.7,337.4 1111.9,339.8 1112.1,339.4 1112.3,343.5 1112.5,342.5 1112.7,345.7 1112.9,345.7 1113.2,346.0 1113.4,354.6 1113.6,351.4 1113.8,352.5 1114.0,354.7 1114.2,357.6 1114.4,359.4 1114.6,359.9 1114.9,361.0 1115.1,365.2 1115.3,364.6 1115.5,365.4 1115.7,367.2 1115.9,369.8 1116.1,368.7 1116.3,372.4 1116.5,371.2 1116.8,371.0 1117.0,376.0 1117.2,374.0 1117.4,374.6 1117.6,375.2 1117.8,376.9 1118.0,377.0 1118.2,378.8 1118.4,377.6 1118.7,377.6 1118.9,379.4 1119.1,380.1 1119.3,379.9 1119.5,385.9 1119.7,379.8 1119.9,380.3 1120.1,380.4 1120.4,382.3 1120.6,384.3 1120.8,380.9 1121.0,380.4 1121.2,384.1 1121.4,383.6 1121.6,382.8 1121.8,382.2 1122.0,382.7 1122.3,382.0 1122.5,383.6 1122.7,383.0 1122.9,382.9 1123.1,383.9 1123.3,389.8 1123.5,382.9 1123.7,382.7 1124.0,384.5 1124.2,383.1 1124.4,385.8 1124.6,384.5 1124.8,388.4 1125.0,386.9 1125.2,385.1 1125.4,386.5 1125.6,385.7 1125.9,387.4 1126.1,383.3 1126.3,383.6 1126.5,383.4 1126.7,381.7 1126.9,380.6 1127.1,377.9 1127.3,377.8 1127.5,378.3 1127.8,375.4 1128.0,372.3 1128.2,371.9 1128.4,371.9 1128.6,369.6 1128.8,369.1 1129.0,367.7 1129.2,369.4 1129.5,368.0 1129.7,365.7 1129.9,366.5 1130.1,365.6 1130.3,363.7 1130.5,366.3 1130.7,365.6 1130.9,366.5 1131.1,366.6 1131.4,365.9 1131.6,367.4 1131.8,367.8 1132.0,363.3 1132.2,364.2 1132.4,361.8 1132.6,361.8 1132.8,360.6 1133.0,358.8 1133.3,357.7 1133.5,358.9 1133.7,355.3 1133.9,357.0 1134.1,355.0 1134.3,351.6 1134.5,353.7 1134.7,351.1 1135.0,352.6 1135.2,350.7 1135.4,350.6 1135.6,349.3 1135.8,350.0 1136.0,349.2 1136.2,347.0 1136.4,348.4 1136.6,346.8 1136.9,344.3 1137.1,344.9 1137.3,344.3 1137.5,343.7 1137.7,341.3 1137.9,340.9 1138.1,339.4 1138.3,338.8 1138.5,335.5 1138.8,337.0 1139.0,337.7 1139.2,334.0 1139.4,332.7 1139.6,331.0 1139.8,331.4 1140.0,326.6 1140.2,326.3 1140.5,324.8 1140.7,325.0 1140.9,321.3 1141.1,320.6 1141.3,317.7 1141.5,318.5 1141.7,318.2 1141.9,315.4 1142.1,315.2 1142.4,312.2 1142.6,312.4 1142.8,309.7 1143.0,308.2 1143.2,306.2 1143.4,305.0 1143.6,303.5 1143.8,300.8 1144.0,299.4 1144.3,296.5 1144.5,294.7 1144.7,294.4 1144.9,289.1 1145.1,284.5 1145.3,282.7 1145.5,279.2 1145.7,276.3 1146.0,274.3 1146.2,269.4 1146.4,267.0 1146.6,263.9 1146.8,261.8 1147.0,259.4 1147.2,253.0 1147.4,255.0 1147.6,252.4 1147.9,250.6 1148.1,248.1 1148.3,247.3 1148.5,244.7 1148.7,241.0 1148.9,239.5 1149.1,239.3 1149.3,233.6 1149.6,233.5 1149.8,229.1 1150.0,224.2 1150.2,221.2 1150.4,219.5 1150.6,216.8 1150.8,212.4 1151.0,208.8 1151.2,206.3 1151.5,201.9 1151.7,190.9 1151.9,195.4 1152.1,194.6 1152.3,193.5 1152.5,188.7 1152.7,187.3 1152.9,183.8 1153.1,180.3 1153.4,178.1 1153.6,177.3 1153.8,174.0 1154.0,173.9 1154.2,170.5 1154.4,167.8 1154.6,164.7 1154.8,163.3 1155.1,165.0 1155.3,159.2 1155.5,155.9 1155.7,154.3 1155.9,150.5 1156.1,149.8 1156.3,145.9 1156.5,144.5 1156.7,145.6 1157.0,141.4 1157.2,141.5 1157.4,138.1 1157.6,137.6 1157.8,136.8 1158.0,134.6 1158.2,134.6 1158.4,132.3 1158.6,131.0 1158.9,130.2 1159.1,128.3 1159.3,128.5 1159.5,125.4 1159.7,126.1 1159.9,122.9 1160.1,121.9 1160.3,120.6 1160.6,121.0 1160.8,116.2 1161.0,119.2 1161.2,118.2 1161.4,118.6 1161.6,115.4 1161.8,116.8 1162.0,114.3 1162.2,115.5 1162.5,113.2 1162.7,113.0 1162.9,110.7 1163.1,111.3 1163.3,111.1 1163.5,108.8 1163.7,109.8 1163.9,108.6 1164.1,105.8 1164.4,107.8 1164.6,103.9 1164.8,104.2 1165.0,103.8 1165.2,101.5 1165.4,100.1 1165.6,100.6 1165.8,99.4 1166.1,97.7 1166.3,97.2 1166.5,97.8 1166.7,98.4 1166.9,98.6 1167.1,98.5 1167.3,97.4 1167.5,98.1 1167.7,99.0 1168.0,98.6 1168.2,101.3 1168.4,102.3 1168.6,103.3 1168.8,101.9 1169.0,107.5 1169.2,106.1 1169.4,107.0 1169.6,108.4 1169.9,106.7 1170.1,108.7 1170.3,109.6 1170.5,111.8 1170.7,110.4 1170.9,111.4 1171.1,110.8 1171.3,115.0 1171.6,111.1 1171.8,109.7 1172.0,108.5 1172.2,109.1 1172.4,110.0 1172.6,112.5 1172.8,109.4 1173.0,109.8 1173.2,111.6 1173.5,112.4 1173.7,111.7 1173.9,113.9 1174.1,112.8 1174.3,115.5 1174.5,116.1 1174.7,115.9 1174.9,118.5 1175.2,118.0 1175.4,118.8 1175.6,122.3 1175.8,121.7 1176.0,125.4 1176.2,126.4 1176.4,129.2 1176.6,132.3 1176.8,134.6 1177.1,137.7 1177.3,138.1 1177.5,139.2 1177.7,137.1 1177.9,137.8 1178.1,140.0 1178.3,136.7 1178.5,136.3 1178.7,135.7 1179.0,133.6 1179.2,132.1 1179.4,132.6 1179.6,131.4 1179.8,130.1 1180.0,130.8 1180.2,129.0 1180.4,128.9 1180.7,129.3 1180.9,129.5 1181.1,128.3 1181.3,128.0 1181.5,128.9 1181.7,130.6 1181.9,129.4 1182.1,130.8 1182.3,131.2 1182.6,131.6 1182.8,135.0 1183.0,135.4 1183.2,137.3 1183.4,139.1 1183.6,137.5 1183.8,140.4 1184.0,145.2 1184.2,145.0 1184.5,148.4 1184.7,149.1 1184.9,153.0 1185.1,156.1 1185.3,158.9 1185.5,161.8 1185.7,165.5 1185.9,169.2 1186.2,172.5 1186.4,175.2 1186.6,180.3 1186.8,182.5 1187.0,186.1 1187.2,189.8 1187.4,191.7 1187.6,197.1 1187.8,199.0 1188.1,202.3 1188.3,203.5 1188.5,207.1 1188.7,209.0 1188.9,210.9 1189.1,215.3 1189.3,215.1 1189.5,218.4 1189.7,219.7 1190.0,221.2 1190.2,221.7 1190.4,223.2 1190.6,223.4 1190.8,226.3 1191.0,228.3 1191.2,229.6 1191.4,229.6 1191.7,230.0 1191.9,232.9 1192.1,235.6 1192.3,236.4 1192.5,238.3 1192.7,240.5 1192.9,243.5 1193.1,247.7 1193.3,247.9 1193.6,248.6 1193.8,251.9 1194.0,257.0 1194.2,257.0 1194.4,261.4 1194.6,259.6 1194.8,264.0 1195.0,268.0 1195.2,268.4 1195.5,272.7 1195.7,274.0 1195.9,277.4 1196.1,281.5 1196.3,282.5 1196.5,287.7 1196.7,287.8 1196.9,292.3 1197.2,296.6 1197.4,300.6 1197.6,299.9 1197.8,303.1 1198.0,309.1 1198.2,309.0 1198.4,313.6 1198.6,316.9 1198.8,319.6 1199.1,322.5 1199.3,323.4 1199.5,327.4 1199.7,332.2 1199.9,330.5 1200.1,334.5 1200.3,339.3 1200.5,341.1 1200.8,344.3 1201.0,345.8 1201.2,347.9 1201.4,350.4 1201.6,353.6 1201.8,355.9 1202.0,356.1 1202.2,358.8 1202.4,357.7 1202.7,362.3 1202.9,361.5 1203.1,363.1 1203.3,364.7 1203.5,362.9 1203.7,364.9 1203.9,366.6 1204.1,366.6 1204.3,365.9 1204.6,372.0 1204.8,366.8 1205.0,368.2 1205.2,369.9 1205.4,368.8 1205.6,368.9 1205.8,370.8 1206.0,371.8 1206.3,370.5 1206.5,371.5 1206.7,374.7 1206.9,374.4 1207.1,374.8 1207.3,375.5 1207.5,377.1 1207.7,374.9 1207.9,376.3 1208.2,376.7 1208.4,375.6 1208.6,378.2 1208.8,378.0 1209.0,377.9 1209.2,378.9 1209.4,378.7 1209.6,377.9 1209.8,378.9 1210.1,377.5 1210.3,379.8 1210.5,378.8 1210.7,380.6 1210.9,384.1 1211.1,379.9 1211.3,377.7 1211.5,378.5 1211.8,378.8 1212.0,377.2 1212.2,377.6 1212.4,378.3 1212.6,379.7 1212.8,380.4 1213.0,378.8 1213.2,379.0 1213.4,386.9 1213.7,378.8 1213.9,380.4 1214.1,376.9 1214.3,379.8 1214.5,379.1 1214.7,377.5 1214.9,379.5 1215.1,376.2 1215.3,375.7 1215.6,376.4 1215.8,376.6 1216.0,375.3 1216.2,376.0 1216.4,379.3 1216.6,372.1 1216.8,372.0 1217.0,371.1 1217.3,368.5 1217.5,366.4 1217.7,368.5 1217.9,366.8 1218.1,367.2 1218.3,363.7 1218.5,363.5 1218.7,364.7 1218.9,362.5 1219.2,362.3 1219.4,362.2 1219.6,360.2 1219.8,362.7 1220.0,359.8 1220.2,360.1 1220.4,360.5 1220.6,360.3 1220.8,357.3 1221.1,355.5 1221.3,357.0 1221.5,355.0 1221.7,352.6 1221.9,354.3 1222.1,353.1 1222.3,353.3 1222.5,351.3 1222.8,350.4 1223.0,349.9 1223.2,349.5 1223.4,349.8 1223.6,348.9 1223.8,348.0 1224.0,345.8 1224.2,346.7 1224.4,346.9 1224.7,344.9 1224.9,344.7 1225.1,345.8 1225.3,345.1 1225.5,343.0 1225.7,342.6 1225.9,347.1 1226.1,340.8 1226.4,339.9 1226.6,337.4 1226.8,338.2 1227.0,334.9 1227.2,333.9 1227.4,334.0 1227.6,330.1 1227.8,328.5 1228.0,329.3 1228.3,323.8 1228.5,325.4 1228.7,323.4 1228.9,320.9 1229.1,318.0 1229.3,316.7 1229.5,316.0 1229.7,313.0 1229.9,312.8 1230.2,310.3 1230.4,307.3 1230.6,308.7 1230.8,310.2 1231.0,306.1 1231.2,305.0 1231.4,301.8 1231.6,299.9 1231.9,299.5 1232.1,297.6 1232.3,294.7 1232.5,292.7 1232.7,293.4 1232.9,287.4 1233.1,286.4 1233.3,284.3 1233.5,281.9 1233.8,281.3 1234.0,278.2 1234.2,275.0 1234.4,273.0 1234.6,271.7 1234.8,270.5 1235.0,269.0 1235.2,264.1 1235.4,262.4 1235.7,260.6 1235.9,259.5 1236.1,254.7 1236.3,252.5 1236.5,245.4 1236.7,243.0 1236.9,240.3 1237.1,236.1 1237.4,229.2 1237.6,227.3 1237.8,227.0 1238.0,222.6 1238.2,221.1 1238.4,219.1 1238.6,214.5 1238.8,209.5 1239.0,207.9 1239.3,207.0 1239.5,204.7 1239.7,195.1 1239.9,197.2 1240.1,197.0 1240.3,194.5 1240.5,187.2 1240.7,186.1 1240.9,181.7 1241.2,180.4 1241.4,176.3 1241.6,176.1 1241.8,172.4 1242.0,168.9 1242.2,167.3 1242.4,167.1 1242.6,163.6 1242.9,163.6 1243.1,162.7 1243.3,158.7 1243.5,155.9 1243.7,154.7 1243.9,155.3 1244.1,151.0 1244.3,149.4 1244.5,148.8 1244.8,149.3 1245.0,143.3 1245.2,141.6 1245.4,140.2 1245.6,141.0 1245.8,139.2 1246.0,134.9 1246.2,134.0 1246.4,133.4 1246.7,133.4 1246.9,131.9 1247.1,132.4 1247.3,131.6 1247.5,131.8 1247.7,130.0 1247.9,130.4 1248.1,128.3 1248.4,128.1 1248.6,129.4 1248.8,125.8 1249.0,128.6 1249.2,126.0 1249.4,124.4 1249.6,130.0 1249.8,126.2 1250.0,121.2 1250.3,124.9 1250.5,117.7 1250.7,120.4 1250.9,116.9 1251.1,114.4 1251.3,113.0 1251.5,109.1 1251.7,109.6 1252.0,105.7 1252.2,105.0 1252.4,106.0 1252.6,104.3 1252.8,102.7 1253.0,101.3 1253.2,99.7 1253.4,100.7 1253.6,99.3 1253.9,102.1 1254.1,104.0 1254.3,104.8 1254.5,100.3 1254.7,101.6 1254.9,97.7 1255.1,101.4 1255.3,99.9 1255.5,102.3 1255.8,99.3 1256.0,103.0 1256.2,99.4 1256.4,101.4 1256.6,100.1 1256.8,99.0 1257.0,98.9 1257.2,101.0 1257.5,98.9 1257.7,99.2 1257.9,100.1 1258.1,100.2 1258.3,103.0 1258.5,98.9 1258.7,105.3 1258.9,105.1 1259.1,108.0 1259.4,108.0 1259.6,110.8 1259.8,110.6 1260.0,111.7 1260.2,112.0 1260.4,112.1 1260.6,112.7 1260.8,112.9 1261.0,115.1 1261.3,111.4 1261.5,113.3 1261.7,112.8 1261.9,113.4 1262.1,111.3 1262.3,113.8 1262.5,112.5 1262.7,112.2 1263.0,112.3 1263.2,113.6 1263.4,115.0 1263.6,117.9 1263.8,115.8 1264.0,116.7 1264.2,117.9 1264.4,118.6 1264.6,120.1 1264.9,121.3 1265.1,119.9 1265.3,120.0 1265.5,129.0 1265.7,120.8 1265.9,121.8 1266.1,121.2 1266.3,122.1 1266.5,121.4 1266.8,121.9 1267.0,122.4 1267.2,125.5 1267.4,123.5 1267.6,125.1 1267.8,127.1 1268.0,125.7 1268.2,129.0 1268.5,127.2 1268.7,127.2 1268.9,130.8 1269.1,130.2 1269.3,131.8 1269.5,132.6 1269.7,135.9 1269.9,134.7 1270.1,136.2 1270.4,136.6 1270.6,138.6 1270.8,138.5 1271.0,140.7 1271.2,141.6 1271.4,142.3 1271.6,145.3 1271.8,146.1 1272.0,148.8 1272.3,150.3 1272.5,153.5 1272.7,154.0 1272.9,155.6 1273.1,159.3 1273.3,160.5 1273.5,163.1 1273.7,167.0 1274.0,167.4 1274.2,168.1 1274.4,172.0 1274.6,175.3 1274.8,174.7 1275.0,177.5 1275.2,176.5 1275.4,180.9 1275.6,183.1 1275.9,186.3 1276.1,188.0 1276.3,191.8 1276.5,195.3 1276.7,197.5 1276.9,201.7 1277.1,202.5 1277.3,208.6 1277.6,210.5 1277.8,214.2 1278.0,217.8 1278.2,216.9 1278.4,223.6 1278.6,221.7 1278.8,227.0 1279.0,227.1 1279.2,226.4 1279.5,233.2 1279.7,234.1 1279.9,232.7 1280.1,235.7 1280.3,238.2 1280.5,239.3 1280.7,242.0 1280.9,242.4 1281.1,249.9 1281.4,246.4 1281.6,247.7 1281.8,248.4 1282.0,249.5 1282.2,254.5 1282.4,255.6 1282.6,258.6 1282.8,260.9 1283.1,262.9 1283.3,265.7 1283.5,269.6 1283.7,272.9 1283.9,274.6 1284.1,277.0 1284.3,279.2 1284.5,284.8 1284.7,287.9 1285.0,290.5 1285.2,293.9 1285.4,298.3 1285.6,301.6 1285.8,302.6 1286.0,308.2 1286.2,311.3 1286.4,315.5 1286.6,315.8 1286.9,319.2 1287.1,319.1 1287.3,323.9 1287.5,320.8 1287.7,326.4 1287.9,327.4 1288.1,332.7 1288.3,331.3 1288.6,335.0 1288.8,337.3 1289.0,342.5 1289.2,342.1 1289.4,339.5 1289.6,348.9 1289.8,347.8 1290.0,350.4 1290.2,353.6 1290.5,354.5 1290.7,353.5 1290.9,357.3 1291.1,359.7 1291.3,358.7 1291.5,355.7 1291.7,363.1 1291.9,364.6 1292.1,365.2 1292.4,365.1 1292.6,366.2 1292.8,368.7 1293.0,369.1 1293.2,369.9 1293.4,371.7 1293.6,372.5 1293.8,374.6 1294.1,376.1 1294.3,376.7 1294.5,379.4 1294.7,379.3 1294.9,381.4 1295.1,389.8 1295.3,384.4 1295.5,385.2 1295.7,385.5 1296.0,385.7 1296.2,386.3 1296.4,387.2 1296.6,384.5 1296.8,384.9 1297.0,385.6 1297.2,384.2 1297.4,384.6 1297.6,384.9 1297.9,384.1 1298.1,381.0 1298.3,382.7 1298.5,382.6 1298.7,384.1 1298.9,383.0 1299.1,381.0 1299.3,383.0 1299.6,382.2 1299.8,381.9 1300.0,382.4 1300.2,381.2 1300.4,382.6 1300.6,382.3 1300.8,383.5 1301.0,379.8 1301.2,382.4 1301.5,382.7 1301.7,381.3 1301.9,383.5 1302.1,383.0 1302.3,383.8 1302.5,382.7 1302.7,382.7 1302.9,381.1 1303.1,381.1 1303.4,380.8 1303.6,379.4 1303.8,378.2 1304.0,377.5 1304.2,374.8 1304.4,374.2 1304.6,373.9 1304.8,374.8 1305.1,372.3 1305.3,373.9 1305.5,372.0 1305.7,371.8 1305.9,372.1 1306.1,371.9 1306.3,371.1 1306.5,367.4 1306.7,369.4 1307.0,368.7 1307.2,366.7 1307.4,366.6 1307.6,365.3 1307.8,367.3 1308.0,366.8 1308.2,361.5 1308.4,365.1 1308.7,365.2 1308.9,364.4 1309.1,363.1 1309.3,365.1 1309.5,357.2 1309.7,362.5 1309.9,361.1 1310.1,360.9 1310.3,361.1 1310.6,360.7 1310.8,361.6 1311.0,356.9 1311.2,358.8 1311.4,356.6 1311.6,353.4 1311.8,354.8 1312.0,352.6 1312.2,352.6 1312.5,350.5 1312.7,345.6 1312.9,349.7 1313.1,346.7 1313.3,347.6 1313.5,348.0 1313.7,346.0 1313.9,344.3 1314.2,345.5 1314.4,342.6 1314.6,341.9 1314.8,339.6 1315.0,341.8 1315.2,335.5 1315.4,341.0 1315.6,338.5 1315.8,336.7 1316.1,335.1 1316.3,337.5 1316.5,332.6 1316.7,331.5 1316.9,329.5 1317.1,326.8 1317.3,324.8 1317.5,323.0 1317.7,320.9 1318.0,319.1 1318.2,328.5 1318.4,317.9 1318.6,315.9 1318.8,314.7 1319.0,311.0 1319.2,309.5 1319.4,308.6 1319.7,306.4 1319.9,303.2 1320.1,303.3 1320.3,301.8 1320.5,299.1 1320.7,298.4 1320.9,296.2 1321.1,296.2 1321.3,294.4 1321.6,294.2 1321.8,292.8 1322.0,289.5 1322.2,290.0 1322.4,283.8 1322.6,280.1 1322.8,278.0 1323.0,275.0 1323.2,270.2 1323.5,268.0 1323.7,263.4 1323.9,258.7 1324.1,257.0 1324.3,253.4 1324.5,250.7 1324.7,247.8 1324.9,244.6 1325.2,241.7 1325.4,237.5 1325.6,237.3 1325.8,232.7 1326.0,228.5 1326.2,227.0 1326.4,223.0 1326.6,220.5 1326.8,216.1 1327.1,212.5 1327.3,208.7 1327.5,206.6 1327.7,204.9 1327.9,200.6 1328.1,189.3 1328.3,193.1 1328.5,194.0 1328.7,188.3 1329.0,188.0 1329.2,182.5 1329.4,180.2 1329.6,177.6 1329.8,174.5 1330.0,172.3 1330.2,170.7 1330.4,166.7 1330.7,162.8 1330.9,155.4 1331.1,158.4 1331.3,157.0 1331.5,151.7 1331.7,151.1 1331.9,149.1 1332.1,146.9 1332.3,145.7 1332.6,143.7 1332.8,140.8 1333.0,140.4 1333.2,133.3 1333.4,137.9 1333.6,139.7 1333.8,137.3 1334.0,135.2 1334.3,133.3 1334.5,136.3 1334.7,135.0 1334.9,131.6 1335.1,131.1 1335.3,130.5 1335.5,127.6 1335.7,127.6 1335.9,128.0 1336.2,124.3 1336.4,123.0 1336.6,121.3 1336.8,119.8 1337.0,119.4 1337.2,118.6 1337.4,117.7 1337.6,117.4 1337.8,114.7 1338.1,111.8 1338.3,110.8 1338.5,107.9 1338.7,109.0 1338.9,109.6 1339.1,105.5 1339.3,104.2 1339.5,105.9 1339.8,105.7 1340.0,103.2 1340.2,102.2 1340.4,103.9 1340.6,102.7 1340.8,102.8 1341.0,102.9 1341.2,102.5 1341.4,100.3 1341.7,100.2 1341.9,99.8 1342.1,101.1 1342.3,95.4 1342.5,97.6 1342.7,95.9 1342.9,96.2 1343.1,93.8 1343.3,95.3 1343.6,93.1 1343.8,93.0 1344.0,91.6 1344.2,93.8 1344.4,93.4 1344.6,93.1 1344.8,90.9 1345.0,95.4 1345.3,94.1 1345.5,96.0 1345.7,95.9 1345.9,96.5 1346.1,98.1 1346.3,99.0 1346.5,99.9 1346.7,101.8 1346.9,102.2 1347.2,104.6 1347.4,103.8 1347.6,104.8 1347.8,104.8 1348.0,104.2 1348.2,99.4 1348.4,105.6 1348.6,105.4 1348.8,109.8 1349.1,107.1 1349.3,108.1 1349.5,108.6 1349.7,110.2 1349.9,108.4 1350.1,107.9 1350.3,108.1 1350.5,109.5 1350.8,108.8 1351.0,108.6 1351.2,107.7 1351.4,108.4 1351.6,109.6 1351.8,109.7 1352.0,104.4 1352.2,109.7 1352.4,110.8 1352.7,103.9 1352.9,112.0 1353.1,112.9 1353.3,112.4 1353.5,114.4 1353.7,120.5 1353.9,118.2 1354.1,116.0 1354.3,117.9 1354.6,118.9 1354.8,119.2 1355.0,120.4 1355.2,122.3 1355.4,120.2 1355.6,123.9 1355.8,123.2 1356.0,123.1 1356.3,126.7 1356.5,126.8 1356.7,128.6 1356.9,127.5 1357.1,130.1 1357.3,132.1 1357.5,130.5 1357.7,132.2 1357.9,135.4 1358.2,134.3 1358.4,136.6 1358.6,134.9 1358.8,137.2 1359.0,140.8 1359.2,141.5 1359.4,143.3 1359.6,143.4 1359.9,144.8 1360.1,145.5 1360.3,147.7 1360.5,151.0 1360.7,152.0 1360.9,151.3 1361.1,153.6 1361.3,157.3 1361.5,159.6 1361.8,162.0 1362.0,164.3 1362.2,168.6 1362.4,168.1 1362.6,172.2 1362.8,173.7 1363.0,178.9 1363.2,178.1 1363.4,179.2 1363.7,185.5 1363.9,183.7 1364.1,193.1 1364.3,191.2 1364.5,194.7 1364.7,194.2 1364.9,202.5 1365.1,200.3 1365.4,203.9 1365.6,207.2 1365.8,207.9 1366.0,212.4 1366.2,212.8 1366.4,217.9 1366.6,219.3 1366.8,221.9 1367.0,220.8 1367.3,226.1 1367.5,227.4 1367.7,227.3 1367.9,229.8 1368.1,229.7 1368.3,232.2 1368.5,235.9 1368.7,238.1 1368.9,238.1 1369.2,244.3 1369.4,245.7 1369.6,247.5 1369.8,250.8 1370.0,252.2 1370.2,254.0 1370.4,253.8 1370.6,256.6 1370.9,259.5 1371.1,261.7 1371.3,263.3 1371.5,266.8 1371.7,268.7 1371.9,272.9 1372.1,278.0 1372.3,275.4 1372.5,278.9 1372.8,281.8 1373.0,285.0 1373.2,286.2 1373.4,291.5 1373.6,296.5 1373.8,299.4 1374.0,300.6 1374.2,303.2 1374.4,306.5 1374.7,309.5 1374.9,313.3 1375.1,318.2 1375.3,320.5 1375.5,324.7 1375.7,325.9 1375.9,329.6 1376.1,330.4 1376.4,332.8 1376.6,336.8 1376.8,335.8 1377.0,337.6 1377.2,341.9 1377.4,342.1 1377.6,343.2 1377.8,346.0 1378.0,346.3 1378.3,348.5 1378.5,348.9 1378.7,351.3 1378.9,353.0 1379.1,353.4 1379.3,354.3 1379.5,356.0 1379.7,357.8 1379.9,359.3 1380.2,362.5 1380.4,361.4 1380.6,361.7 1380.8,363.0 1381.0,364.7 1381.2,366.1 1381.4,367.4 1381.6,367.3 1381.9,369.2 1382.1,372.5 1382.3,372.6 1382.5,374.5 1382.7,375.1 1382.9,376.0 1383.1,377.0 1383.3,378.3 1383.5,379.9 1383.8,377.1 1384.0,376.1 1384.2,378.4 1384.4,376.8 1384.6,377.8 1384.8,377.1 1385.0,378.5 1385.2,378.1 1385.5,378.4 1385.7,381.4 1385.9,378.9 1386.1,379.9 1386.3,383.2 1386.5,380.4 1386.7,381.9 1386.9,382.3 1387.1,388.8 1387.4,384.1 1387.6,385.2 1387.8,384.9 1388.0,385.1 1388.2,382.4 1388.4,383.0 1388.6,381.7 1388.8,385.9 1389.0,385.0 1389.3,384.7 1389.5,385.9 1389.7,385.8 1389.9,382.0 1390.1,382.4 1390.3,384.7 1390.5,384.1 1390.7,382.2 1391.0,380.0 1391.2,378.5 1391.4,378.3 1391.6,378.4 1391.8,374.9 1392.0,373.1 1392.2,372.4 1392.4,371.7 1392.6,369.3 1392.9,368.9 1393.1,369.2 1393.3,367.0 1393.5,368.0 1393.7,365.0 1393.9,365.2 1394.1,366.7 1394.3,365.1 1394.5,363.9 1394.8,367.7 1395.0,365.4 1395.2,363.5 1395.4,367.1 1395.6,365.4 1395.8,366.4 1396.0,360.8 1396.2,366.2 1396.5,364.6 1396.7,362.5 1396.9,360.8 1397.1,359.5 1397.3,358.2 1397.5,356.0 1397.7,355.1 1397.9,353.7 1398.1,354.4 1398.4,352.4 1398.6,347.8 1398.8,348.2 1399.0,349.5 1399.2,349.3 1399.4,348.7 1399.6,350.0 1399.8,347.1 1400.0,349.5 1400.3,348.9 1400.5,346.2 1400.7,350.9 1400.9,347.9 1401.1,350.1 1401.3,348.6 1401.5,347.7 1401.7,354.2 1402.0,346.7 1402.2,347.2 1402.4,345.8 1402.6,346.5 1402.8,344.9 1403.0,345.5 1403.2,342.5 1403.4,344.0 1403.6,341.0 1403.9,341.4 1404.1,340.2 1404.3,337.3 1404.5,337.0 1404.7,337.8 1404.9,333.2 1405.1,335.2 1405.3,329.6 1405.5,328.3 1405.8,327.5 1406.0,323.9 1406.2,322.6 1406.4,318.3 1406.6,319.7 1406.8,315.7 1407.0,315.3 1407.2,316.5 1407.5,315.7 1407.7,312.1 1407.9,312.5 1408.1,310.7 1408.3,309.6 1408.5,309.0 1408.7,306.2 1408.9,304.9 1409.1,303.5 1409.4,300.0 1409.6,295.3 1409.8,293.1 1410.0,292.6 1410.2,289.6 1410.4,286.4 1410.6,282.5 1410.8,280.8 1411.1,278.9 1411.3,276.0 1411.5,271.4 1411.7,267.0 1411.9,267.9 1412.1,266.8 1412.3,260.6 1412.5,258.7 1412.7,251.8 1413.0,251.2 1413.2,249.6 1413.4,248.2 1413.6,245.9 1413.8,240.6 1414.0,238.9 1414.2,234.3 1414.4,233.1 1414.6,229.1 1414.9,227.5 1415.1,223.3 1415.3,220.5 1415.5,216.3 1415.7,212.5 1415.9,211.1 1416.1,208.7 1416.3,201.9 1416.6,200.2 1416.8,196.2 1417.0,192.5 1417.2,187.9 1417.4,184.9 1417.6,182.0 1417.8,178.7 1418.0,177.5 1418.2,174.3 1418.5,170.7 1418.7,167.7 1418.9,165.1 1419.1,162.3 1419.3,160.3 1419.5,158.6 1419.7,158.0 1419.9,153.2 1420.1,151.7 1420.4,151.6 1420.6,148.4 1420.8,147.0 1421.0,146.0 1421.2,146.8 1421.4,144.6 1421.6,142.4 1421.8,131.9 1422.1,139.4 1422.3,137.0 1422.5,136.1 1422.7,133.4 1422.9,130.4 1423.1,131.1 1423.3,130.0 1423.5,124.0 1423.7,122.9 1424.0,121.9 1424.2,118.4 1424.4,116.8 1424.6,119.0 1424.8,115.4 1425.0,112.7 1425.2,113.6 1425.4,112.3 1425.6,110.2 1425.9,111.2 1426.1,112.0 1426.3,111.1 1426.5,111.6 1426.7,109.2 1426.9,111.5 1427.1,107.8 1427.3,110.3 1427.6,107.6 1427.8,108.5 1428.0,106.2 1428.2,103.7 1428.4,102.7 1428.6,101.5 1428.8,102.1 1429.0,100.9 1429.2,99.8 1429.5,98.5 1429.7,98.9 1429.9,96.5 1430.1,96.8 1430.3,95.4 1430.5,95.9 1430.7,95.5 1430.9,97.1 1431.1,96.7 1431.4,97.8 1431.6,96.8 1431.8,96.9 1432.0,96.0 1432.2,98.6 1432.4,93.4 1432.6,97.3 1432.8,95.6 1433.1,95.8 1433.3,104.4 1433.5,96.9 1433.7,94.6 1433.9,98.8 1434.1,94.8 1434.3,96.6 1434.5,95.9 1434.7,95.1 1435.0,97.5 1435.2,95.3 1435.4,96.5 1435.6,97.1 1435.8,95.9 1436.0,93.3 1436.2,97.8 1436.4,98.4 1436.7,100.0 1436.9,101.8 1437.1,101.5 1437.3,100.8 1437.5,103.1 1437.7,102.9 1437.9,104.9 1438.1,102.2 1438.3,107.6 1438.6,98.2 1438.8,105.7 1439.0,106.3 1439.2,108.3 1439.4,108.7 1439.6,108.1 1439.8,108.3 1440.0,110.6 1440.2,111.4 1440.5,110.5 1440.7,111.1 1440.9,114.2 1441.1,115.6 1441.3,116.9 1441.5,114.4 1441.7,117.8 1441.9,119.3 1442.2,118.7 1442.4,117.6 1442.6,119.1 1442.8,122.2 1443.0,120.5 1443.2,120.6 1443.4,120.2 1443.6,120.8 1443.8,119.5 1444.1,120.1 1444.3,118.3 1444.5,118.8 1444.7,121.0 1444.9,121.9 1445.1,121.3 1445.3,121.0 1445.5,122.3 1445.7,124.3 1446.0,129.6 1446.2,127.8 1446.4,129.8 1446.6,130.9 1446.8,133.6 1447.0,128.7 1447.2,136.0 1447.4,133.5 1447.7,137.4 1447.9,139.9 1448.1,141.2 1448.3,142.7 1448.5,143.7 1448.7,145.8 1448.9,146.7 1449.1,147.0 1449.3,148.8 1449.6,145.2 1449.8,151.7 1450.0,155.0 1450.2,158.5 1450.4,161.6 1450.6,162.7 1450.8,164.5 1451.0,166.6 1451.2,172.5 1451.5,173.4 1451.7,176.6 1451.9,177.8 1452.1,180.4 1452.3,185.4 1452.5,187.5 1452.7,189.3 1452.9,193.4 1453.2,196.7 1453.4,208.7 1453.6,200.4 1453.8,203.9 1454.0,207.1 1454.2,210.3 1454.4,213.6 1454.6,214.6 1454.8,216.8 1455.1,217.4 1455.3,222.0 1455.5,220.6 1455.7,223.9 1455.9,224.2 1456.1,228.2 1456.3,228.1 1456.5,228.4 1456.7,231.1 1457.0,234.3 1457.2,234.3 1457.4,234.8 1457.6,238.6 1457.8,240.4 1458.0,240.4 1458.2,244.0 1458.4,244.7 1458.7,249.7 1458.9,253.4 1459.1,255.2 1459.3,255.6 1459.5,261.4 1459.7,263.4 1459.9,266.1 1460.1,270.5 1460.3,271.1 1460.6,275.2 1460.8,277.9 1461.0,283.4 1461.2,286.5 1461.4,290.6 1461.6,290.6 1461.8,293.5 1462.0,295.4 1462.3,297.5 1462.5,302.4 1462.7,305.2 1462.9,307.1 1463.1,308.5 1463.3,313.9 1463.5,314.8 1463.7,318.3 1463.9,320.7 1464.2,321.4 1464.4,325.2 1464.6,327.2 1464.8,326.9 1465.0,329.3 1465.2,331.4 1465.4,333.1 1465.6,334.3 1465.8,337.4 1466.1,340.8 1466.3,340.7 1466.5,341.6 1466.7,343.8 1466.9,346.2 1467.1,349.2 1467.3,350.6 1467.5,353.0 1467.8,350.4 1468.0,355.4 1468.2,355.7 1468.4,355.8 1468.6,360.0 1468.8,360.3 1469.0,360.6 1469.2,362.1 1469.4,363.2 1469.7,363.3 1469.9,362.2 1470.1,363.9 1470.3,365.8 1470.5,366.9 1470.7,369.9 1470.9,368.1 1471.1,369.3 1471.3,371.9 1471.6,368.0 1471.8,372.5 1472.0,373.7 1472.2,374.9 1472.4,375.2 1472.6,376.0 1472.8,374.9 1473.0,375.5 1473.3,376.0 1473.5,377.0 1473.7,377.7 1473.9,375.3 1474.1,380.4 1474.3,377.4 1474.5,379.0 1474.7,379.9 1474.9,381.3 1475.2,381.7 1475.4,383.6 1475.6,384.5 1475.8,383.7 1476.0,386.0 1476.2,383.5 1476.4,383.4 1476.6,388.8 1476.8,386.5 1477.1,384.0 1477.3,383.6 1477.5,383.0 1477.7,381.9 1477.9,380.5 1478.1,379.3 1478.3,377.1 1478.5,378.1 1478.8,376.1 1479.0,378.1 1479.2,375.6 1479.4,376.3 1479.6,372.8 1479.8,371.5 1480.0,373.4 1480.2,375.3 1480.4,366.6 1480.7,373.3 1480.9,372.9 1481.1,371.6 1481.3,371.5 1481.5,375.6 1481.7,370.7 1481.9,372.8 1482.1,372.7 1482.3,370.2 1482.6,367.4 1482.8,372.8 1483.0,372.2 1483.2,370.2 1483.4,368.7 1483.6,367.8 1483.8,369.5 1484.0,369.5 1484.3,366.8 1484.5,368.8 1484.7,366.1 1484.9,367.0 1485.1,366.2 1485.3,365.9 1485.5,364.2 1485.7,363.8 1485.9,362.6 1486.2,360.4 1486.4,359.2 1486.6,356.3 1486.8,354.8 1487.0,353.5 1487.2,351.9 1487.4,350.6 1487.6,347.0 1487.9,348.0 1488.1,347.9 1488.3,346.8 1488.5,345.1 1488.7,345.7 1488.9,345.3 1489.1,345.1 1489.3,344.4 1489.5,343.9 1489.8,343.5 1490.0,345.6 1490.2,344.5 1490.4,349.5 1490.6,341.0 1490.8,339.8 1491.0,334.9 1491.2,338.9 1491.4,336.6 1491.7,336.9 1491.9,335.9 1492.1,336.6 1492.3,334.7 1492.5,333.6 1492.7,331.0 1492.9,323.3 1493.1,330.8 1493.4,328.8 1493.6,327.7 1493.8,327.7 1494.0,323.4 1494.2,324.9 1494.4,324.3 1494.6,321.5 1494.8,319.8 1495.0,318.3 1495.3,316.6 1495.5,314.2 1495.7,314.1 1495.9,310.1 1496.1,311.2 1496.3,307.3 1496.5,305.2 1496.7,309.6 1496.9,304.2 1497.2,300.2 1497.4,300.3 1497.6,297.3 1497.8,295.9 1498.0,295.1 1498.2,293.2 1498.4,289.8 1498.6,288.1 1498.9,286.9 1499.1,282.6 1499.3,279.1 1499.5,276.4 1499.7,273.3 1499.9,270.6 1500.1,267.4 1500.3,265.1 1500.5,262.6 1500.8,256.5 1501.0,255.5 1501.2,251.4 1501.4,250.4 1501.6,245.5 1501.8,249.2 1502.0,236.2 1502.2,238.0 1502.4,235.0 1502.7,230.0 1502.9,227.0 1503.1,228.2 1503.3,222.9 1503.5,219.7 1503.7,219.7 1503.9,215.1 1504.1,214.0 1504.4,211.9 1504.6,208.2 1504.8,205.2 1505.0,203.0 1505.2,195.3 1505.4,194.9 1505.6,191.7 1505.8,186.4 1506.0,184.0 1506.3,179.0 1506.5,177.6 1506.7,173.9 1506.9,171.4 1507.1,168.7 1507.3,166.8 1507.5,164.6 1507.7,160.6 1507.9,161.5 1508.2,159.7 1508.4,157.8 1508.6,155.1 1508.8,153.7 1509.0,151.5 1509.2,152.4 1509.4,148.8 1509.6,147.4 1509.9,145.6 1510.1,143.1 1510.3,143.6 1510.5,139.1 1510.7,137.3 1510.9,137.3 1511.1,134.0 1511.3,130.5 1511.5,131.3 1511.8,128.9 1512.0,128.6 1512.2,128.0 1512.4,126.9 1512.6,125.0 1512.8,121.6 1513.0,120.6 1513.2,120.8 1513.5,117.1 1513.7,116.7 1513.9,115.6 1514.1,112.5 1514.3,109.2 1514.5,111.3 1514.7,106.2 1514.9,108.2 1515.1,104.0 1515.4,105.1 1515.6,102.1 1515.8,101.2 1516.0,100.6 1516.2,101.9 1516.4,98.9 1516.6,98.4 1516.8,99.1 1517.0,97.9 1517.3,96.4 1517.5,98.0 1517.7,96.5 1517.9,97.7 1518.1,95.4 1518.3,94.6 1518.5,91.9 1518.7,93.1 1519.0,93.0 1519.2,91.3 1519.4,93.6 1519.6,90.9 1519.8,92.6 1520.0,92.7 1520.2,90.9 1520.4,92.3 1520.6,91.6 1520.9,95.5 1521.1,94.2 1521.3,95.8 1521.5,96.2 1521.7,98.7 1521.9,96.0 1522.1,97.3 1522.3,99.1 1522.5,99.9 1522.8,99.7 1523.0,97.5 1523.2,99.6 1523.4,100.3 1523.6,99.9 1523.8,101.0 1524.0,101.3 1524.2,101.4 1524.5,102.5 1524.7,102.5 1524.9,105.4 1525.1,104.4 1525.3,105.2 1525.5,104.9 1525.7,105.3 1525.9,106.1 1526.1,105.7 1526.4,104.2 1526.6,105.8 1526.8,106.5 1527.0,104.3 1527.2,103.8 1527.4,105.4 1527.6,105.1 1527.8,106.6 1528.0,106.4 1528.3,105.5 1528.5,106.6 1528.7,108.1 1528.9,109.4 1529.1,111.9 1529.3,110.5 1529.5,111.3 1529.7,111.5 1530.0,111.3 1530.2,114.1 1530.4,114.4 1530.6,117.7 1530.8,115.9 1531.0,117.1 1531.2,117.2 1531.4,118.6 1531.6,119.3 1531.9,118.6 1532.1,121.5 1532.3,120.4 1532.5,120.3 1532.7,122.9 1532.9,123.8 1533.1,122.5 1533.3,123.4 1533.5,123.5 1533.8,124.3 1534.0,127.0 1534.2,126.9 1534.4,127.3 1534.6,130.5 1534.8,131.9 1535.0,142.1 1535.2,133.7 1535.5,133.9 1535.7,139.2 1535.9,138.3 1536.1,139.6 1536.3,142.7 1536.5,144.0 1536.7,146.4 1536.9,147.7 1537.1,148.2 1537.4,149.2 1537.6,146.7 1537.8,151.9 1538.0,154.2 1538.2,157.4 1538.4,156.1 1538.6,158.2 1538.8,162.2 1539.1,161.3 1539.3,164.7 1539.5,167.1 1539.7,167.2 1539.9,174.5 1540.1,175.8 1540.3,175.6 1540.5,179.3 1540.7,182.9 1541.0,182.8 1541.2,186.7 1541.4,191.3 1541.6,193.2 1541.8,193.8 1542.0,195.1 1542.2,201.6 1542.4,201.2 1542.6,204.0 1542.9,207.8 1543.1,208.2 1543.3,212.2 1543.5,217.7 1543.7,213.4 1543.9,217.1 1544.1,219.3 1544.3,222.2 1544.6,225.1 1544.8,227.1 1545.0,232.3 1545.2,234.1 1545.4,235.4 1545.6,239.8 1545.8,242.0 1546.0,242.5 1546.2,244.3 1546.5,248.9 1546.7,251.1 1546.9,251.6 1547.1,254.0 1547.3,257.2 1547.5,257.9 1547.7,260.0 1547.9,262.6 1548.1,261.4 1548.4,265.3 1548.6,268.0 1548.8,270.0 1549.0,270.2 1549.2,274.8 1549.4,281.9 1549.6,280.9 1549.8,284.0 1550.1,287.7 1550.3,289.7 1550.5,292.9 1550.7,296.4 1550.9,300.2 1551.1,301.9 1551.3,308.0 1551.5,308.6 1551.7,313.0 1552.0,316.1 1552.2,322.6 1552.4,321.2 1552.6,328.2 1552.8,330.0 1553.0,330.8 1553.2,334.6 1553.4,336.5 1553.6,340.5 1553.9,340.1 1554.1,347.2 1554.3,341.8 1554.5,344.2 1554.7,344.8 1554.9,339.4 1555.1,347.9 1555.3,348.9 1555.6,346.6 1555.8,344.0 1556.0,349.1 1556.2,351.2 1556.4,350.3 1556.6,353.5 1556.8,352.9 1557.0,353.8 1557.2,355.2 1557.5,355.4 1557.7,357.5 1557.9,357.7 1558.1,359.2 1558.3,358.9 1558.5,360.9 1558.7,363.4 1558.9,363.3 1559.1,364.1 1559.4,366.2 1559.6,364.8 1559.8,367.0 1560.0,367.6 1560.2,370.5 1560.4,371.1 1560.6,370.5 1560.8,374.3 1561.1,373.2 1561.3,374.6 1561.5,376.4 1561.7,376.8 1561.9,379.1 1562.1,378.6 1562.3,383.8 1562.5,382.1 1562.7,379.7 1563.0,382.6 1563.2,384.6 1563.4,381.4 1563.6,383.6 1563.8,386.9 1564.0,383.0 1564.2,381.8 1564.4,382.3 1564.7,380.5 1564.9,382.3 1565.1,381.1 1565.3,382.5 1565.5,380.8 1565.7,378.9 1565.9,379.8 1566.1,379.9 1566.3,382.1 1566.6,379.9 1566.8,380.6 1567.0,377.9 1567.2,379.2 1567.4,377.4 1567.6,378.4 1567.8,374.3 1568.0,377.1 1568.2,374.7 1568.5,370.9 1568.7,372.7 1568.9,373.1 1569.1,370.5 1569.3,369.1 1569.5,368.5 1569.7,371.0 1569.9,367.9 1570.2,370.1 1570.4,365.0 1570.6,366.9 1570.8,367.4 1571.0,365.9 1571.2,366.0 1571.4,367.7 1571.6,364.1 1571.8,365.8 1572.1,367.1 1572.3,362.8 1572.5,361.9 1572.7,361.4 1572.9,361.4 1573.1,362.3 1573.3,359.5 1573.5,357.8 1573.7,358.4 1574.0,356.9 1574.2,359.0 1574.4,356.1 1574.6,355.4 1574.8,357.5 1575.0,357.0 1575.2,355.4 1575.4,354.1 1575.7,353.3 1575.9,353.9 1576.1,353.3 1576.3,353.0 1576.5,352.2 1576.7,350.9 1576.9,350.2 1577.1,350.0 1577.3,348.7 1577.6,348.7 1577.8,346.3 1578.0,347.0 1578.2,343.6 1578.4,344.6 1578.6,343.4 1578.8,343.8 1579.0,348.8 1579.2,340.8 1579.5,340.2 1579.7,340.2 1579.9,340.2 1580.1,338.2 1580.3,337.4 1580.5,336.3 1580.7,334.7 1580.9,335.6 1581.2,336.5 1581.4,333.2 1581.6,333.7 1581.8,331.4 1582.0,326.8 1582.2,325.4 1582.4,324.7 1582.6,322.6 1582.8,320.0 1583.1,319.9 1583.3,315.4 1583.5,314.5 1583.7,310.2 1583.9,311.9 1584.1,307.8 1584.3,308.0 1584.5,304.2 1584.7,304.8 1585.0,300.9 1585.2,300.3 1585.4,298.8 1585.6,296.2 1585.8,293.8 1586.0,292.3 1586.2,289.4 1586.4,288.7 1586.7,291.1 1586.9,286.8 1587.1,286.9 1587.3,283.0 1587.5,279.8 1587.7,279.9 1587.9,277.4 1588.1,273.4 1588.3,271.3 1588.6,266.4 1588.8,264.9 1589.0,261.6 1589.2,257.0 1589.4,256.4 1589.6,252.5 1589.8,250.4 1590.0,245.7 1590.3,241.6 1590.5,238.1 1590.7,236.8 1590.9,234.7 1591.1,232.1 1591.3,230.1 1591.5,225.8 1591.7,221.8 1591.9,223.7 1592.2,221.0 1592.4,214.3 1592.6,215.1 1592.8,210.1 1593.0,209.0 1593.2,203.6 1593.4,200.5 1593.6,198.2 1593.8,194.4 1594.1,192.5 1594.3,189.1 1594.5,185.0 1594.7,183.3 1594.9,182.7 1595.1,180.2 1595.3,176.8 1595.5,173.9 1595.8,170.7 1596.0,168.6 1596.2,164.2 1596.4,162.0 1596.6,158.7 1596.8,156.1 1597.0,152.6 1597.2,152.1 1597.4,146.5 1597.7,145.8 1597.9,143.7 1598.1,141.8 1598.3,139.8 1598.5,138.8 1598.7,138.1 1598.9,137.4 1599.1,137.9 1599.3,134.5 1599.6,133.9 1599.8,132.7 1600.0,128.3 1600.2,132.0 1600.4,128.4 1600.6,125.6 1600.8,124.5 1601.0,122.8 1601.3,124.5 1601.5,123.0 1601.7,120.1 1601.9,127.6 1602.1,117.3 1602.3,118.5 1602.5,120.7 1602.7,117.5 1602.9,118.0 1603.2,117.4 1603.4,118.1 1603.6,117.0 1603.8,117.2 1604.0,115.8 1604.2,117.1 1604.4,116.4 1604.6,113.2 1604.8,112.4 1605.1,112.7 1605.3,110.7 1605.5,110.5 1605.7,105.9 1605.9,114.4 1606.1,104.6 1606.3,106.9 1606.5,104.9 1606.8,105.2 1607.0,104.9 1607.2,102.9 1607.4,102.6 1607.6,103.5 1607.8,103.8 1608.0,100.0 1608.2,100.4 1608.4,101.6 1608.7,101.9 1608.9,101.1 1609.1,101.4 1609.3,100.1 1609.5,102.8 1609.7,101.8 1609.9,103.1 1610.1,100.9 1610.3,100.6 1610.6,103.1 1610.8,102.6 1611.0,101.9 1611.2,104.1 1611.4,104.9 1611.6,102.6 1611.8,103.1 1612.0,103.8 1612.3,101.6 1612.5,102.9 1612.7,105.1 1612.9,102.5 1613.1,99.2 1613.3,101.0 1613.5,103.7 1613.7,104.5 1613.9,104.6 1614.2,105.8 1614.4,108.9 1614.6,108.4 1614.8,110.2 1615.0,109.5 1615.2,109.6 1615.4,114.9 1615.6,115.8 1615.9,116.7 1616.1,117.4 1616.3,118.4 1616.5,118.2 1616.7,117.7 1616.9,121.0 1617.1,121.8 1617.3,122.7 1617.5,119.6 1617.8,119.7 1618.0,123.4 1618.2,123.9 1618.4,122.1 1618.6,121.2 1618.8,121.5 1619.0,122.5 1619.2,122.0 1619.4,122.3 1619.7,116.3 1619.9,120.3 1620.1,122.6 1620.3,124.0 1620.5,123.5 1620.7,125.2 1620.9,123.9 1621.1,123.2 1621.4,126.7 1621.6,124.7 1621.8,124.5 1622.0,127.6 1622.2,130.5 1622.4,131.5 1622.6,132.2 1622.8,134.6 1623.0,136.0 1623.3,136.3 1623.5,137.6 1623.7,138.1 1623.9,141.6 1624.1,139.4 1624.3,141.7 1624.5,143.2 1624.7,146.4 1624.9,144.9 1625.2,148.6 1625.4,147.3 1625.6,149.4 1625.8,153.0 1626.0,153.7 1626.2,152.4 1626.4,155.0 1626.6,158.2 1626.9,159.8 1627.1,162.0 1627.3,165.4 1627.5,167.1 1627.7,170.1 1627.9,172.3 1628.1,173.8 1628.3,178.1 1628.5,178.7 1628.8,182.0 1629.0,183.7 1629.2,186.0 1629.4,187.9 1629.6,190.9 1629.8,193.1 1630.0,196.4 1630.2,197.8 1630.4,201.7 1630.7,203.1 1630.9,204.0 1631.1,207.1 1631.3,208.5 1631.5,212.2 1631.7,211.1 1631.9,215.1 1632.1,215.5 1632.4,217.5 1632.6,217.9 1632.8,220.9 1633.0,223.2 1633.2,225.8 1633.4,225.7 1633.6,228.4 1633.8,228.1 1634.0,229.0 1634.3,235.3 1634.5,236.4 1634.7,236.9 1634.9,238.2 1635.1,241.9 1635.3,244.5 1635.5,247.0 1635.7,249.6 1635.9,251.1 1636.2,254.9 1636.4,265.8 1636.6,261.2 1636.8,262.8 1637.0,266.4 1637.2,268.3 1637.4,271.2 1637.6,274.2 1637.9,275.5 1638.1,279.8 1638.3,283.8 1638.5,286.6 1638.7,285.6 1638.9,289.6 1639.1,295.0 1639.3,296.5 1639.5,300.3 1639.8,306.1 1640.0,305.8 1640.2,309.9 1640.4,313.0 1640.6,315.0 1640.8,313.8 1641.0,319.8 1641.2,320.5 1641.5,320.2 1641.7,322.5 1641.9,327.0 1642.1,326.9 1642.3,329.3 1642.5,330.9 1642.7,331.8 1642.9,335.4 1643.1,337.1 1643.4,336.9 1643.6,342.5 1643.8,346.6 1644.0,342.8 1644.2,346.2 1644.4,346.7 1644.6,348.6 1644.8,347.8 1645.0,349.4 1645.3,348.3 1645.5,348.4 1645.7,349.9 1645.9,350.6 1646.1,350.2 1646.3,350.9 1646.5,353.1 1646.7,351.2 1647.0,353.0 1647.2,353.2 1647.4,356.7 1647.6,355.1 1647.8,354.8 1648.0,357.8 1648.2,361.6 1648.4,361.3 1648.6,362.9 1648.9,364.0 1649.1,365.9 1649.3,366.4 1649.5,368.8 1649.7,369.1 1649.9,371.1 1650.1,371.0 1650.3,370.7 1650.5,373.0 1650.8,372.1 1651.0,374.3 1651.2,374.0 1651.4,374.2 1651.6,372.7 1651.8,375.4 1652.0,373.3 1652.2,384.4 1652.5,375.3 1652.7,374.1 1652.9,374.4 1653.1,376.3 1653.3,376.3 1653.5,373.4 1653.7,375.5 1653.9,372.8 1654.1,373.4 1654.4,372.1 1654.6,368.5 1654.8,368.5 1655.0,368.4 1655.2,370.1 1655.4,367.2 1655.6,366.8 1655.8,366.3 1656.0,363.9 1656.3,367.0 1656.5,364.0 1656.7,363.6 1656.9,363.9 1657.1,360.2 1657.3,363.0 1657.5,360.6 1657.7,359.7 1658.0,361.7 1658.2,357.6 1658.4,359.1 1658.6,356.6 1658.8,356.2 1659.0,356.4 1659.2,356.7 1659.4,359.5 1659.6,356.5 1659.9,357.2 1660.1,355.1 1660.3,354.8 1660.5,353.9 1660.7,355.6 1660.9,355.3 1661.1,357.1 1661.3,355.2 1661.5,356.1 1661.8,352.8 1662.0,354.5 1662.2,352.5 1662.4,352.4 1662.6,351.1 1662.8,349.1 1663.0,349.4 1663.2,347.7 1663.5,348.5 1663.7,345.2 1663.9,347.4 1664.1,345.3 1664.3,344.1 1664.5,349.7 1664.7,348.1 1664.9,347.3 1665.1,345.7 1665.4,347.6 1665.6,346.5 1665.8,347.7 1666.0,345.9 1666.2,347.8 1666.4,345.1 1666.6,349.3 1666.8,347.7 1667.1,336.1 1667.3,344.3 1667.5,344.7 1667.7,339.9 1667.9,340.2 1668.1,339.0 1668.3,339.6 1668.5,337.1 1668.7,336.0 1669.0,337.3 1669.2,333.4 1669.4,333.1 1669.6,330.0 1669.8,328.7 1670.0,329.6 1670.2,328.2 1670.4,325.8 1670.6,324.0 1670.9,324.0 1671.1,322.5 1671.3,320.7 1671.5,320.0 1671.7,318.2 1671.9,318.5 1672.1,319.1 1672.3,319.3 1672.6,315.3 1672.8,315.7 1673.0,314.7 1673.2,313.5 1673.4,313.9 1673.6,311.2 1673.8,318.8 1674.0,308.5 1674.2,307.6 1674.5,302.8 1674.7,302.7 1674.9,301.6 1675.1,299.0 1675.3,295.9 1675.5,295.0 1675.7,291.5 1675.9,288.5 1676.1,281.9 1676.4,281.5 1676.6,280.5 1676.8,273.7 1677.0,272.2 1677.2,268.7 1677.4,259.9 1677.6,260.6 1677.8,255.9 1678.1,254.5 1678.3,250.9 1678.5,248.9 1678.7,245.7 1678.9,244.2 1679.1,237.5 1679.3,237.6 1679.5,233.3 1679.7,231.0 1680.0,229.8 1680.2,226.6 1680.4,224.4 1680.6,219.4 1680.8,219.1 1681.0,216.4 1681.2,214.7 1681.4,211.8 1681.6,207.7 1681.9,202.9 1682.1,194.5 1682.3,193.8 1682.5,191.7 1682.7,187.6 1682.9,185.5 1683.1,181.5 1683.3,180.0 1683.6,177.2 1683.8,175.8 1684.0,173.3 1684.2,168.9 1684.4,163.5 1684.6,166.9 1684.8,165.4 1685.0,161.2 1685.2,157.7 1685.5,157.7 1685.7,158.0 1685.9,151.4 1686.1,148.8 1686.3,149.1 1686.5,145.0 1686.7,142.4 1686.9,143.0 1687.1,131.6 1687.4,139.0 1687.6,134.7 1687.8,135.0 1688.0,133.5 1688.2,132.4 1688.4,130.2 1688.6,131.1 1688.8,127.3 1689.1,127.7 1689.3,129.9 1689.5,124.3 1689.7,125.1 1689.9,125.1 1690.1,123.3 1690.3,124.8 1690.5,121.5 1690.7,123.9 1691.0,121.5 1691.2,118.1 1691.4,117.6 1691.6,119.0 1691.8,119.2 1692.0,116.3 1692.2,116.9 1692.4,116.0 1692.7,114.8 1692.9,116.1 1693.1,113.0 1693.3,115.7 1693.5,110.4 1693.7,113.1 1693.9,111.0 1694.1,110.2 1694.3,107.6 1694.6,106.7 1694.8,106.5 1695.0,105.6 1695.2,105.1 1695.4,105.2 1695.6,107.0 1695.8,107.0 1696.0,106.7 1696.2,103.7 1696.5,103.7 1696.7,103.4 1696.9,103.0 1697.1,103.6 1697.3,104.6 1697.5,105.3 1697.7,105.8 1697.9,102.0 1698.2,102.3 1698.4,104.8 1698.6,103.2 1698.8,102.0 1699.0,100.4 1699.2,102.9 1699.4,101.9 1699.6,100.8 1699.8,104.5 1700.1,103.6 1700.3,103.1 1700.5,104.4 1700.7,101.5 1700.9,103.6 1701.1,105.1 1701.3,107.1 1701.5,105.4 1701.7,106.2 1702.0,108.0 1702.2,108.2 1702.4,109.7 1702.6,108.2 1702.8,107.1 1703.0,107.0 1703.2,107.6 1703.4,107.4 1703.7,109.4 1703.9,109.6 1704.1,108.0 1704.3,109.5 1704.5,111.7 1704.7,110.9 1704.9,111.2 1705.1,108.0 1705.3,120.6 1705.6,114.8 1705.8,114.3 1706.0,113.2 1706.2,115.5 1706.4,116.9 1706.6,115.9 1706.8,118.1 1707.0,116.5 1707.2,117.3 1707.5,116.0 1707.7,117.4 1707.9,116.5 1708.1,115.4 1708.3,119.0 1708.5,127.7 1708.7,119.6 1708.9,121.1 1709.2,121.7 1709.4,123.6 1709.6,123.2 1709.8,124.9 1710.0,128.8 1710.2,127.7 1710.4,128.4 1710.6,128.7 1710.8,132.1 1711.1,133.7 1711.3,132.6 1711.5,135.9 1711.7,136.3 1711.9,137.0 1712.1,137.9 1712.3,140.0 1712.5,142.7 1712.7,141.5 1713.0,144.7 1713.2,146.4 1713.4,145.0 1713.6,148.2 1713.8,152.4 1714.0,153.7 1714.2,155.5 1714.4,158.2 1714.7,161.9 1714.9,160.9 1715.1,163.4 1715.3,166.5 1715.5,169.7 1715.7,171.3 1715.9,173.1 1716.1,177.3 1716.3,178.6 1716.6,181.0 1716.8,181.5 1717.0,184.1 1717.2,188.0 1717.4,189.1 1717.6,188.1 1717.8,193.2 1718.0,193.7 1718.3,196.5 1718.5,196.1 1718.7,199.5 1718.9,201.8 1719.1,204.7 1719.3,205.7 1719.5,206.6 1719.7,209.1 1719.9,213.9 1720.2,212.8 1720.4,217.4 1720.6,220.7 1720.8,221.6 1721.0,224.9 1721.2,227.2 1721.4,229.5 1721.6,231.1 1721.8,233.8 1722.1,237.5 1722.3,236.9 1722.5,240.2 1722.7,240.1 1722.9,242.9 1723.1,244.8 1723.3,247.3 1723.5,248.1 1723.8,252.3 1724.0,255.4 1724.2,256.1 1724.4,265.2 1724.6,261.6 1724.8,263.0 1725.0,265.9 1725.2,265.9 1725.4,268.7 1725.7,271.5 1725.9,274.2 1726.1,274.6 1726.3,279.0 1726.5,281.0 1726.7,282.0 1726.9,284.6 1727.1,285.5 1727.3,297.7 1727.6,295.5 1727.8,295.3 1728.0,297.5 1728.2,302.3 1728.4,303.4 1728.6,306.4 1728.8,312.5 1729.0,315.5 1729.3,319.5 1729.5,320.3 1729.7,322.9 1729.9,325.7 1730.1,330.5 1730.3,332.4 1730.5,335.7 1730.7,338.3 1730.9,340.4 1731.2,343.1 1731.4,343.9 1731.6,345.6 1731.8,347.9 1732.0,351.1 1732.2,354.1 1732.4,355.5 1732.6,356.8 1732.8,359.7 1733.1,360.9 1733.3,362.7 1733.5,364.1 1733.7,364.3 1733.9,366.4 1734.1,364.4 1734.3,368.1 1734.5,366.3 1734.8,369.1 1735.0,366.1 1735.2,367.5 1735.4,370.2 1735.6,370.5 1735.8,372.2 1736.0,371.8 1736.2,372.2 1736.4,370.6 1736.7,376.3 1736.9,374.1 1737.1,377.2 1737.3,376.8 1737.5,376.6 1737.7,377.3 1737.9,377.6 1738.1,378.5 1738.3,378.3 1738.6,378.1 1738.8,376.9 1739.0,380.3 1739.2,379.3 1739.4,380.5 1739.6,380.4 1739.8,380.4 1740.0,378.3 1740.3,377.2 1740.5,378.3 1740.7,381.6 1740.9,380.2 1741.1,381.8 1741.3,380.1 1741.5,379.3 1741.7,380.3 1741.9,380.1 1742.2,381.5 1742.4,383.8 1742.6,384.0 1742.8,381.8 1743.0,381.1 1743.2,380.4 1743.4,382.4 1743.6,382.0 1743.9,381.8 1744.1,380.7 1744.3,381.8 1744.5,382.7 1744.7,379.6 1744.9,380.0 1745.1,379.5 1745.3,380.9 1745.5,378.7 1745.8,380.2 1746.0,379.9 1746.2,377.2 1746.4,376.8 1746.6,375.0 1746.8,373.4 1747.0,374.6 1747.2,371.9 1747.4,374.2 1747.7,371.9 1747.9,373.7 1748.1,371.4 1748.3,371.2 1748.5,370.5 1748.7,369.1 1748.9,371.5 1749.1,368.7 1749.4,369.6 1749.6,368.3 1749.8,367.9 1750.0,368.8 1750.2,368.8 1750.4,369.6 1750.6,367.4 1750.8,368.5 1751.0,366.6 1751.3,368.0 1751.5,363.5 1751.7,365.2 1751.9,361.3 1752.1,362.0 1752.3,359.7 1752.5,354.1 1752.7,357.7 1752.9,357.7 1753.2,355.4 1753.4,355.3 1753.6,354.4 1753.8,352.2 1754.0,353.9 1754.2,350.1 1754.4,350.0 1754.6,350.2 1754.9,346.0 1755.1,344.8 1755.3,340.5 1755.5,341.0 1755.7,338.3 1755.9,336.2 1756.1,336.9 1756.3,332.4 1756.5,332.8 1756.8,328.6 1757.0,327.2 1757.2,328.4 1757.4,329.6 1757.6,326.8 1757.8,326.2 1758.0,324.9 1758.2,325.4 1758.4,325.5 1758.7,323.1 1758.9,322.8 1759.1,318.1 1759.3,319.7 1759.5,318.1 1759.7,322.7 1759.9,315.7 1760.1,313.3 1760.4,311.5 1760.6,310.5 1760.8,308.8 1761.0,305.6 1761.2,305.3 1761.4,306.2 1761.6,304.0 1761.8,301.6 1762.0,302.4 1762.3,300.6 1762.5,299.9 1762.7,303.8 1762.9,298.2 1763.1,296.8 1763.3,296.1 1763.5,292.6 1763.7,291.8 1763.9,285.8 1764.2,284.9 1764.4,281.9 1764.6,277.3 1764.8,274.9 1765.0,271.3 1765.2,268.2 1765.4,265.8 1765.6,263.0 1765.9,259.8 1766.1,254.8 1766.3,254.2 1766.5,251.3 1766.7,248.7 1766.9,244.6 1767.1,240.2 1767.3,240.8 1767.5,235.9 1767.8,228.3 1768.0,230.5 1768.2,226.3 1768.4,225.0 1768.6,219.2 1768.8,216.7 1769.0,214.9 1769.2,208.7 1769.5,206.4 1769.7,202.8 1769.9,202.7 1770.1,198.0 1770.3,195.1 1770.5,190.6 1770.7,186.8 1770.9,188.1 1771.1,183.3 1771.4,181.3 1771.6,177.9 1771.8,177.3 1772.0,177.0 1772.2,174.0 1772.4,173.3 1772.6,171.3 1772.8,168.5 1773.0,167.3 1773.3,164.5 1773.5,170.7 1773.7,158.1 1773.9,157.3 1774.1,155.9 1774.3,156.2 1774.5,155.1 1774.7,151.5 1775.0,148.9 1775.2,144.1 1775.4,143.5 1775.6,144.0 1775.8,140.3 1776.0,138.6 1776.2,138.4 1776.4,135.5 1776.6,135.1 1776.9,134.8 1777.1,134.0 1777.3,131.4 1777.5,128.7 1777.7,130.2 1777.9,129.2 1778.1,125.2 1778.3,127.7 1778.5,120.9 1778.8,122.1 1779.0,119.3 1779.2,116.4 1779.4,119.0 1779.6,117.2 1779.8,112.1 1780.0,114.1 1780.2,119.2 1780.5,111.8 1780.7,110.1 1780.9,109.2 1781.1,110.3 1781.3,110.5 1781.5,110.1 1781.7,109.7 1781.9,101.7 1782.1,110.3 1782.4,108.5 1782.6,112.0 1782.8,110.4 1783.0,108.7 1783.2,108.8 1783.4,109.3 1783.6,109.9 1783.8,108.7 1784.0,107.0 1784.3,105.4 1784.5,105.1 1784.7,105.8 1784.9,104.3 1785.1,102.3 1785.3,101.7 1785.5,104.3 1785.7,103.2 1786.0,105.1 1786.2,104.1 1786.4,99.6 1786.6,108.9 1786.8,105.2 1787.0,106.0 1787.2,104.5 1787.4,108.3 1787.6,106.5 1787.9,107.0 1788.1,105.2 1788.3,109.2 1788.5,107.1 1788.7,106.4 1788.9,110.9 1789.1,108.4 1789.3,119.1 1789.5,109.9 1789.8,109.4 1790.0,111.8 1790.2,112.1 1790.4,113.7 1790.6,113.0 1790.8,112.3 1791.0,114.2 1791.2,114.4 1791.5,113.9 1791.7,113.5 1791.9,116.5 1792.1,114.5 1792.3,115.4 1792.5,113.9 1792.7,113.3 1792.9,114.2 1793.1,113.2 1793.4,116.2 1793.6,116.0 1793.8,117.3 1794.0,116.7 1794.2,117.5 1794.4,118.7 1794.6,120.9 1794.8,120.6 1795.1,122.0 1795.3,121.7 1795.5,123.6 1795.7,122.7 1795.9,124.5 1796.1,125.0 1796.3,126.1 1796.5,128.1 1796.7,125.6 1797.0,125.3 1797.2,127.3 1797.4,127.0 1797.6,129.4 1797.8,130.7 1798.0,129.0 1798.2,129.0 1798.4,130.9 1798.6,129.5 1798.9,130.0 1799.1,130.4 1799.3,130.3 1799.5,132.3 1799.7,135.0 1799.9,135.8 1800.1,136.7 1800.3,140.2 1800.6,139.0 1800.8,141.2 1801.0,147.4 1801.2,146.5 1801.4,142.8 1801.6,147.9 1801.8,149.3 1802.0,149.6 1802.2,151.8 1802.5,153.9 1802.7,154.4 1802.9,157.5 1803.1,156.7 1803.3,160.7 1803.5,159.8 1803.7,161.2 1803.9,165.4 1804.1,163.1 1804.4,168.6 1804.6,167.9 1804.8,171.9 1805.0,173.1 1805.2,176.6 1805.4,175.3 1805.6,179.6 1805.8,181.3 1806.1,185.2 1806.3,188.0 1806.5,191.1 1806.7,194.0 1806.9,195.3 1807.1,198.0 1807.3,200.4 1807.5,203.8 1807.7,204.5 1808.0,205.4 1808.2,208.7 1808.4,209.8 1808.6,212.4 1808.8,220.1 1809.0,217.4 1809.2,219.2 1809.4,220.7 1809.6,222.8 1809.9,223.4 1810.1,228.4 1810.3,231.9 1810.5,231.1 1810.7,235.0 1810.9,237.1 1811.1,236.4 1811.3,240.3 1811.6,244.0 1811.8,246.3 1812.0,250.1 1812.2,252.1 1812.4,257.1 1812.6,260.3 1812.8,263.2 1813.0,260.3 1813.2,266.8 1813.5,272.3 1813.7,272.9 1813.9,277.1 1814.1,278.2 1814.3,282.5 1814.5,283.6 1814.7,287.4 1814.9,290.3 1815.1,292.5 1815.4,294.8 1815.6,298.1 1815.8,304.0 1816.0,300.2 1816.2,305.1 1816.4,309.2 1816.6,312.1 1816.8,315.1 1817.1,314.7 1817.3,314.7 1817.5,320.4 1817.7,320.9 1817.9,324.7 1818.1,319.0 1818.3,325.6 1818.5,327.4 1818.7,327.9 1819.0,329.4 1819.2,332.0 1819.4,336.0 1819.6,339.0 1819.8,341.0 1820.0,344.2 1820.2,342.4 1820.4,347.4 1820.7,349.7 1820.9,352.3 1821.1,352.9 1821.3,358.8 1821.5,359.4 1821.7,363.0 1821.9,365.8 1822.1,370.1 1822.3,368.5 1822.6,372.2 1822.8,373.3 1823.0,373.7 1823.2,374.9 1823.4,374.6 1823.6,377.4 1823.8,377.0 1824.0,377.2 1824.2,377.8 1824.5,377.4 1824.7,378.8 1824.9,377.5 1825.1,380.3 1825.3,381.8 1825.5,380.7 1825.7,379.8 1825.9,382.4 1826.2,383.1 1826.4,383.1 1826.6,382.9 1826.8,383.5 1827.0,383.0 1827.2,385.5 1827.4,381.7 1827.6,382.9 1827.8,384.7 1828.1,382.2 1828.3,383.6 1828.5,382.7 1828.7,386.2 1828.9,383.1 1829.1,385.4 1829.3,388.2 1829.5,385.1 1829.7,386.6 1830.0,387.5 1830.2,386.5 1830.4,388.4 1830.6,385.0 1830.8,385.6 1831.0,385.2 1831.2,382.7 1831.4,384.0 1831.7,384.4 1831.9,384.4 1832.1,383.1 1832.3,381.5 1832.5,383.2 1832.7,389.8 1832.9,380.6 1833.1,381.1 1833.3,380.5 1833.6,379.8 1833.8,380.2 1834.0,377.6 1834.2,379.1 1834.4,376.4 1834.6,374.5 1834.8,373.1 1835.0,375.4 1835.2,372.4 1835.5,372.2 1835.7,373.2 1835.9,370.2 1836.1,373.5 1836.3,374.8 1836.5,373.5 1836.7,376.4 1836.9,372.3 1837.2,372.8 1837.4,367.1 1837.6,372.6 1837.8,372.1 1838.0,369.7 1838.2,371.9 1838.4,371.8 1838.6,371.7 1838.8,368.5 1839.1,368.8 1839.3,365.8 1839.5,363.5 1839.7,363.0 1839.9,361.9 1840.1,357.8 1840.3,358.2 1840.5,356.6 1840.7,355.0 1841.0,357.1 1841.2,356.2 1841.4,351.7 1841.6,354.5 1841.8,357.6 1842.0,353.6 1842.2,353.4 1842.4,353.4 1842.7,351.7 1842.9,350.3 1843.1,349.3 1843.3,347.6 1843.5,349.3 1843.7,348.0 1843.9,344.2 1844.1,344.7 1844.3,341.8 1844.6,342.2 1844.8,343.5 1845.0,340.6 1845.2,341.9 1845.4,339.8 1845.6,338.1 1845.8,336.5 1846.0,338.6 1846.3,336.9 1846.5,336.5 1846.7,334.8 1846.9,337.5 1847.1,333.4 1847.3,330.8 1847.5,328.8 1847.7,328.4 1847.9,324.6 1848.2,322.3 1848.4,321.5 1848.6,319.9 1848.8,318.1 1849.0,315.6 1849.2,312.3 1849.4,310.0 1849.6,310.4 1849.8,309.1 1850.1,307.0 1850.3,303.1 1850.5,302.3 1850.7,300.7 1850.9,299.2 1851.1,298.1 1851.3,297.6 1851.5,297.6 1851.8,295.8 1852.0,293.5 1852.2,291.4 1852.4,290.2 1852.6,287.9 1852.8,283.0 1853.0,282.3 1853.2,278.4 1853.4,275.8 1853.7,273.1 1853.9,270.5 1854.1,265.9 1854.3,263.0 1854.5,257.7 1854.7,256.9 1854.9,252.9 1855.1,248.5 1855.3,246.4 1855.6,242.8 1855.8,239.7 1856.0,240.2 1856.2,236.2 1856.4,234.5 1856.6,229.3 1856.8,228.6 1857.0,225.4 1857.3,221.4 1857.5,221.2 1857.7,218.0 1857.9,214.7 1858.1,212.5 1858.3,207.6 1858.5,204.9 1858.7,201.3 1858.9,199.1 1859.2,196.1 1859.4,192.6 1859.6,189.3 1859.8,187.5 1860.0,181.8 1860.2,178.2 1860.4,176.2 1860.6,174.1 1860.8,170.9 1861.1,168.4 1861.3,166.0 1861.5,162.2 1861.7,163.3 1861.9,159.9 1862.1,157.6 1862.3,156.5 1862.5,149.4 1862.8,154.5 1863.0,152.4 1863.2,149.3 1863.4,146.8 1863.6,147.7 1863.8,152.2 1864.0,143.0 1864.2,140.8 1864.4,140.1 1864.7,138.4 1864.9,136.5 1865.1,137.7 1865.3,135.2 1865.5,136.4 1865.7,135.8 1865.9,133.5 1866.1,133.4 1866.3,129.8 1866.6,127.9 1866.8,128.1 1867.0,132.3 1867.2,125.1 1867.4,123.7 1867.6,121.8 1867.8,120.3 1868.0,119.9 1868.3,119.1 1868.5,117.7 1868.7,115.0 1868.9,115.5 1869.1,112.3 1869.3,113.5 1869.5,110.9 1869.7,113.3 1869.9,112.2 1870.2,110.4 1870.4,109.9 1870.6,110.2 1870.8,107.1 1871.0,108.8 1871.2,107.9 1871.4,108.2 1871.6,104.9 1871.9,105.0 1872.1,104.7 1872.3,106.3 1872.5,103.0 1872.7,103.1 1872.9,101.2 1873.1,99.7 1873.3,100.8 1873.5,99.0 1873.8,97.6 1874.0,94.8 1874.2,98.5 1874.4,99.4 1874.6,99.3 1874.8,100.5 1875.0,98.5 1875.2,100.4 1875.4,102.9 1875.7,102.6 1875.9,105.2 1876.1,102.4 1876.3,107.5 1876.5,105.0 1876.7,108.8 1876.9,108.4 1877.1,107.7 1877.4,108.7 1877.6,109.6 1877.8,109.5 1878.0,109.3 1878.2,109.8 1878.4,109.0 1878.6,109.5 1878.8,110.1 1879.0,109.2 1879.3,111.1 1879.5,107.4 1879.7,111.1 1879.9,109.0 1880.1,108.4 1880.3,108.2 1880.5,108.2 1880.7,106.8 1880.9,109.4 1881.2,108.0 1881.4,107.7 1881.6,108.5 1881.8,106.5 1882.0,107.2 1882.2,110.1 1882.4,110.4 1882.6,110.9 1882.9,111.5 1883.1,111.7 1883.3,112.9 1883.5,112.9 1883.7,114.0 1883.9,114.4 1884.1,114.2 1884.3,117.7 1884.5,115.6 1884.8,118.9 1885.0,118.5 1885.2,119.8 1885.4,121.1 1885.6,123.8 1885.8,120.3 1886.0,123.7 1886.2,124.4 1886.4,122.8 1886.7,124.5 1886.9,123.0 1887.1,123.9 1887.3,125.7 1887.5,127.0 1887.7,127.3 1887.9,130.7 1888.1,129.9 1888.4,130.9 1888.6,132.6 1888.8,132.8 1889.0,135.8 1889.2,134.0 1889.4,134.7 1889.6,138.9 1889.8,138.6 1890.0,138.4 1890.3,141.4 1890.5,144.9 1890.7,146.7 1890.9,146.5 1891.1,147.2 1891.3,152.5 1891.5,153.1 1891.7,156.0 1891.9,157.6 1892.2,159.0 1892.4,161.5 1892.6,164.3 1892.8,162.9 1893.0,167.5 1893.2,169.4 1893.4,169.9 1893.6,173.4 1893.9,179.6 1894.1,177.4 1894.3,182.5 1894.5,183.4 1894.7,186.1 1894.9,189.6 1895.1,193.7 1895.3,196.5 1895.5,201.4 1895.8,202.4 1896.0,204.6 1896.2,206.5 1896.4,209.7 1896.6,212.6 1896.8,215.2 1897.0,216.2 1897.2,217.8 1897.5,218.2 1897.7,221.3 1897.9,223.6 1898.1,224.9 1898.3,227.2 1898.5,228.8 1898.7,233.1 1898.9,234.3 1899.1,239.7 1899.4,235.6 1899.6,238.0 1899.8,239.5 1900.0,239.9 1900.2,244.1 1900.4,243.1 1900.6,245.6 1900.8,248.5 1901.0,247.6 1901.3,252.8 1901.5,254.3 1901.7,255.3 1901.9,256.8 1902.1,259.9 1902.3,264.7 1902.5,265.4 1902.7,268.2 1903.0,268.3 1903.2,273.0 1903.4,277.9 1903.6,282.8 1903.8,284.8 1904.0,290.2 1904.2,300.0 1904.4,295.6 1904.6,299.9 1904.9,302.4 1905.1,306.2 1905.3,309.4 1905.5,309.8 1905.7,313.5 1905.9,317.0 1906.1,319.7 1906.3,320.7 1906.5,322.1 1906.8,323.6 1907.0,324.6 1907.2,332.2 1907.4,331.1 1907.6,329.3 1907.8,332.3 1908.0,334.8 1908.2,336.3 1908.5,341.6 1908.7,342.3 1908.9,344.2 1909.1,343.8 1909.3,347.9 1909.5,348.2 1909.7,347.3 1909.9,349.4 1910.1,351.7 1910.4,350.1 1910.6,354.7 1910.8,353.6 1911.0,355.4 1911.2,355.5 1911.4,357.4 1911.6,359.2 1911.8,359.2 1912.0,362.1 1912.3,361.1 1912.5,363.2 1912.7,362.8 1912.9,365.3 1913.1,366.5 1913.3,366.2 1913.5,366.2 1913.7,371.0 1914.0,369.4 1914.2,369.8 1914.4,373.0 1914.6,375.6 1914.8,372.1 1915.0,374.4 1915.2,374.8 1915.4,372.6 1915.6,376.3 1915.9,376.7 1916.1,378.9 1916.3,378.1 1916.5,378.8 1916.7,376.0 1916.9,377.2 1917.1,380.7 1917.3,377.6 1917.5,379.6 1917.8,381.2 1918.0,380.6 1918.2,376.4 1918.4,383.1 1918.6,384.4 1918.8,383.6 1919.0,382.6 1919.2,383.0 1919.5,383.4 1919.7,381.3 1919.9,383.6 1920.1,381.3 1920.3,382.7 1920.5,381.8 1920.7,382.9 1920.9,381.2 1921.1,381.6 1921.4,382.2 1921.6,379.6 1921.8,378.8 1922.0,377.0 1922.2,376.7 1922.4,377.3 1922.6,375.7 1922.8,376.8 1923.1,374.2 1923.3,370.4 1923.5,369.3 1923.7,369.4 1923.9,369.2 1924.1,368.3 1924.3,367.7 1924.5,369.5 1924.7,367.8 1925.0,364.7 1925.2,364.1 1925.4,364.5 1925.6,364.5 1925.8,361.4 1926.0,363.6 1926.2,356.9 1926.4,363.7 1926.6,360.5 1926.9,360.2 1927.1,359.1 1927.3,355.9 1927.5,356.3 1927.7,356.8 1927.9,349.8 1928.1,355.7 1928.3,351.7 1928.6,351.5 1928.8,350.9 1929.0,346.0 1929.2,347.2 1929.4,348.8 1929.6,348.9 1929.8,345.0 1930.0,347.2 1930.2,342.7 1930.5,347.4 1930.7,345.7 1930.9,346.4 1931.1,344.3 1931.3,344.8 1931.5,344.6 1931.7,341.4 1931.9,342.1 1932.1,344.2 1932.4,341.4 1932.6,341.5 1932.8,341.0 1933.0,339.5 1933.2,338.4 1933.4,336.9 1933.6,336.8 1933.8,336.9 1934.1,334.1 1934.3,331.2 1934.5,332.5 1934.7,328.9 1934.9,327.6 1935.1,327.2 1935.3,324.7 1935.5,324.2 1935.7,322.1 1936.0,321.2 1936.2,318.0 1936.4,315.5 1936.6,316.7 1936.8,313.4 1937.0,316.2 1937.2,313.7 1937.4,312.8 1937.6,308.5 1937.9,309.9 1938.1,306.8 1938.3,308.4 1938.5,303.9 1938.7,301.2 1938.9,299.6 1939.1,300.3 1939.3,294.5 1939.6,298.4 1939.8,288.5 1940.0,287.3 1940.2,287.3 1940.4,283.2 1940.6,279.4 1940.8,278.9 1941.0,274.6 1941.2,273.3 1941.5,270.1 1941.7,272.8 1941.9,266.3 1942.1,259.8 1942.3,260.7 1942.5,258.2 1942.7,257.1 1942.9,253.7 1943.1,251.6 1943.4,243.9 1943.6,247.7 1943.8,242.8 1944.0,240.3 1944.2,240.3 1944.4,236.7 1944.6,231.6 1944.8,228.5 1945.1,219.6 1945.3,224.3 1945.5,219.5 1945.7,218.0 1945.9,215.7 1946.1,212.7 1946.3,208.9 1946.5,206.8 1946.7,203.7 1947.0,202.8 1947.2,199.5 1947.4,197.7 1947.6,194.0 1947.8,191.0 1948.0,188.2 1948.2,184.0 1948.4,181.6 1948.7,178.6 1948.9,176.6 1949.1,172.9 1949.3,171.5 1949.5,168.1 1949.7,166.4 1949.9,163.9 1950.1,162.7 1950.3,162.0 1950.6,160.2 1950.8,154.1 1951.0,153.9 1951.2,151.9 1951.4,150.7 1951.6,149.1 1951.8,143.3 1952.0,146.0 1952.2,142.7 1952.5,140.5 1952.7,139.6 1952.9,137.5 1953.1,134.6 1953.3,132.0 1953.5,130.0 1953.7,126.4 1953.9,120.5 1954.2,123.2 1954.4,120.2 1954.6,119.3 1954.8,120.2 1955.0,120.9 1955.2,115.2 1955.4,114.5 1955.6,114.6 1955.8,111.4 1956.1,112.4 1956.3,110.9 1956.5,111.4 1956.7,109.0 1956.9,109.0 1957.1,108.1 1957.3,105.3 1957.5,105.3 1957.7,106.2 1958.0,102.5 1958.2,101.1 1958.4,102.0 1958.6,100.4 1958.8,98.8 1959.0,98.3 1959.2,97.1 1959.4,95.7 1959.7,96.5 1959.9,92.9 1960.1,95.6 1960.3,95.0 1960.5,91.7 1960.7,90.9 1960.9,93.4 1961.1,93.6 1961.3,94.7 1961.6,92.3 1961.8,93.8 1962.0,95.4 1962.2,94.4 1962.4,93.7 1962.6,95.0 1962.8,93.6 1963.0,95.2 1963.2,102.5 1963.5,97.0 1963.7,96.3 1963.9,95.5 1964.1,95.8 1964.3,95.4 1964.5,96.3 1964.7,95.7 1964.9,95.2 1965.2,97.1 1965.4,98.9 1965.6,103.3 1965.8,98.3 1966.0,100.6 1966.2,101.0 1966.4,102.9 1966.6,105.9 1966.8,105.3 1967.1,107.9 1967.3,107.0 1967.5,108.2 1967.7,107.2 1967.9,109.0 1968.1,108.5 1968.3,109.1 1968.5,108.9 1968.7,109.7 1969.0,99.0 1969.2,107.1 1969.4,107.7 1969.6,106.7 1969.8,101.4 1970.0,101.9 1970.2,107.5 1970.4,107.0 1970.7,109.6 1970.9,111.9 1971.1,112.0 1971.3,110.2 1971.5,114.3 1971.7,113.0 1971.9,115.7 1972.1,115.5 1972.3,117.4 1972.6,119.9 1972.8,119.2 1973.0,116.9 1973.2,120.1 1973.4,119.7 1973.6,121.2 1973.8,121.3 1974.0,121.1 1974.3,121.2 1974.5,123.8 1974.7,122.6 1974.9,123.4 1975.1,124.6 1975.3,126.2 1975.5,127.6 1975.7,126.1 1975.9,130.2 1976.2,127.7 1976.4,129.6 1976.6,132.3 1976.8,134.5 1977.0,134.3 1977.2,135.3 1977.4,134.9 1977.6,137.8 1977.8,138.1 1978.1,138.5 1978.3,139.5 1978.5,140.7 1978.7,142.9 1978.9,144.0 1979.1,144.1 1979.3,145.0 1979.5,145.2 1979.8,145.4 1980.0,148.0 1980.2,151.6 1980.4,152.0 1980.6,156.7 1980.8,159.5 1981.0,158.5 1981.2,171.0 1981.4,166.3 1981.7,168.4 1981.9,168.8 1982.1,173.6 1982.3,174.5 1982.5,178.5 1982.7,182.1 1982.9,182.9 1983.1,185.5 1983.3,189.6 1983.6,191.7 1983.8,194.1 1984.0,194.4 1984.2,197.4 1984.4,200.0 1984.6,202.2 1984.8,212.8 1985.0,206.9 1985.3,210.5 1985.5,213.7 1985.7,215.2 1985.9,209.3 1986.1,218.5 1986.3,219.6 1986.5,225.0 1986.7,225.6 1986.9,227.4 1987.2,231.7 1987.4,233.0 1987.6,236.6 1987.8,240.4 1988.0,240.7 1988.2,246.6 1988.4,246.9 1988.6,251.6 1988.8,255.2 1989.1,251.5 1989.3,260.5 1989.5,263.1 1989.7,264.0 1989.9,268.5 1990.1,266.6 1990.3,268.8 1990.5,269.8 1990.8,274.4 1991.0,278.0 1991.2,278.3 1991.4,280.3 1991.6,282.6 1991.8,286.7 1992.0,289.7 1992.2,293.0 1992.4,298.6 1992.7,298.4 1992.9,305.6 1993.1,307.7 1993.3,310.4 1993.5,316.2 1993.7,318.8 1993.9,314.3 1994.1,325.8 1994.3,327.2 1994.6,330.8 1994.8,333.2 1995.0,334.7 1995.2,337.7 1995.4,339.5 1995.6,339.8 1995.8,342.4 1996.0,344.0 1996.3,347.8 1996.5,348.3 1996.7,348.8 1996.9,351.0 1997.1,353.6 1997.3,356.4 1997.5,358.3 1997.7,358.8 1997.9,359.3 1998.2,362.5 1998.4,362.5 1998.6,365.5 1998.8,364.8 1999.0,368.1 1999.2,367.3 1999.4,369.2 1999.6,367.7 1999.8,368.4 2000.1,370.9 2000.3,371.5 2000.5,372.1 2000.7,374.3 2000.9,368.4 2001.1,375.3 2001.3,374.2 2001.5,374.2 2001.8,377.1 2002.0,377.5 2002.2,377.5 2002.4,378.8 2002.6,378.8 2002.8,377.7 2003.0,378.5 2003.2,379.0 2003.4,379.8 2003.7,377.6 2003.9,380.4 2004.1,380.1 2004.3,382.2 2004.5,382.6 2004.7,382.9 2004.9,384.7 2005.1,384.9 2005.4,386.7 2005.6,389.6 2005.8,391.7 2006.0,388.8 2006.2,391.4 2006.4,389.6 2006.6,391.7 2006.8,392.8 2007.0,391.3 2007.3,392.1 2007.5,391.5 2007.7,392.3 2007.9,390.1 2008.1,389.3 2008.3,395.7 2008.5,388.2 2008.7,390.9 2008.9,390.0 2009.2,392.3 2009.4,392.8 2009.6,388.3 2009.8,389.2 2010.0,389.5 2010.2,392.6 2010.4,390.0 2010.6,389.2 2010.9,388.9 2011.1,387.7 2011.3,388.0 2011.5,385.8 2011.7,385.7 2011.9,383.5 2012.1,381.4 2012.3,381.7 2012.5,380.2 2012.8,379.7 2013.0,378.5 2013.2,377.0 2013.4,377.4 2013.6,376.9 2013.8,378.7 2014.0,377.2 2014.2,375.5 2014.4,377.2 2014.7,376.2 2014.9,376.2 2015.1,372.8 2015.3,374.1 2015.5,373.6 2015.7,371.1 2015.9,369.5 2016.1,369.0 2016.4,367.2 2016.6,366.8 2016.8,365.8 2017.0,364.9 2017.2,363.9 2017.4,363.1 2017.6,361.3 2017.8,361.2 2018.0,360.3 2018.3,359.0 2018.5,359.0 2018.7,359.7 2018.9,358.1 2019.1,357.6 2019.3,357.7 2019.5,354.5 2019.7,355.2 2019.9,354.4 2020.2,353.3 2020.4,350.3 2020.6,350.9 2020.8,348.5 2021.0,348.9 2021.2,348.3 2021.4,346.2 2021.6,345.2 2021.9,344.7 2022.1,344.9 2022.3,343.0 2022.5,342.6 2022.7,340.1 2022.9,338.3 2023.1,335.3 2023.3,333.9 2023.5,333.3 2023.8,331.5 2024.0,330.9 2024.2,326.4 2024.4,326.3 2024.6,323.4 2024.8,324.4 2025.0,322.8 2025.2,320.5 2025.4,320.2 2025.7,318.8 2025.9,313.9 2026.1,315.8 2026.3,315.6 2026.5,313.6 2026.7,310.7 2026.9,314.0 2027.1,309.9 2027.4,307.7 2027.6,309.0 2027.8,307.1 2028.0,304.7 2028.2,302.9 2028.4,302.6 2028.6,296.4 2028.8,294.8 2029.0,294.0 2029.3,292.5 2029.5,286.9 2029.7,278.2 2029.9,275.5 2030.1,276.9 2030.3,276.5 2030.5,272.5 2030.7,271.9 2031.0,265.1 2031.2,264.1 2031.4,264.5 2031.6,261.4 2031.8,255.9 2032.0,253.4 2032.2,251.0 2032.4,250.5 2032.6,242.5 2032.9,241.5 2033.1,241.2 2033.3,236.5 2033.5,235.1 2033.7,231.9 2033.9,228.1 2034.1,226.2 2034.3,224.8 2034.5,221.0 2034.8,219.3 2035.0,214.9 2035.2,212.9 2035.4,209.1 2035.6,206.7 2035.8,202.3 2036.0,200.1 2036.2,196.8 2036.5,194.4 2036.7,190.7 2036.9,190.2 2037.1,182.3 2037.3,183.6 2037.5,180.3 2037.7,178.7 2037.9,176.5 2038.1,173.4 2038.4,172.5 2038.6,170.5 2038.8,169.7 2039.0,167.4 2039.2,165.9 2039.4,160.6 2039.6,162.6 2039.8,160.5 2040.0,157.3 2040.3,154.0 2040.5,155.8 2040.7,153.6 2040.9,149.6 2041.1,147.4 2041.3,147.5 2041.5,146.1 2041.7,143.3 2042.0,139.6 2042.2,138.8 2042.4,136.3 2042.6,135.8 2042.8,134.3 2043.0,132.3 2043.2,131.8 2043.4,130.1 2043.6,130.4 2043.9,129.0 2044.1,126.8 2044.3,126.8 2044.5,126.6 2044.7,124.2 2044.9,123.6 2045.1,123.7 2045.3,123.9 2045.5,121.4 2045.8,119.1 2046.0,114.8 2046.2,122.7 2046.4,121.3 2046.6,120.9 2046.8,120.6 2047.0,119.8 2047.2,116.7 2047.5,115.9 2047.7,114.5 2047.9,114.7 2048.1,115.5 2048.3,113.1 2048.5,114.5 2048.7,113.8 2048.9,114.3 2049.1,111.0 2049.4,110.8 2049.6,112.1 2049.8,111.5 2050.0,110.7 2050.2,110.0 2050.4,108.8 2050.6,101.8 2050.8,108.4 2051.0,110.2 2051.3,108.4 2051.5,109.8 2051.7,100.6 2051.9,112.0 2052.1,105.9 2052.3,105.3 2052.5,104.2 2052.7,105.4 2053.0,108.6 2053.2,107.2 2053.4,110.1 2053.6,108.8 2053.8,109.9 2054.0,109.0 2054.2,109.1 2054.4,111.3 2054.6,111.2 2054.9,111.1 2055.1,112.3 2055.3,112.9 2055.5,116.1 2055.7,114.5 2055.9,113.7 2056.1,114.9 2056.3,117.7 2056.6,116.9 2056.8,117.0 2057.0,119.1 2057.2,117.8 2057.4,120.0 2057.6,120.0 2057.8,120.2 2058.0,117.9 2058.2,121.3 2058.5,122.0 2058.7,120.8 2058.9,122.4 2059.1,121.8 2059.3,124.7 2059.5,121.7 2059.7,122.1 2059.9,123.7 2060.1,120.8 2060.4,122.8 2060.6,123.1 2060.8,124.8 2061.0,125.6 2061.2,125.0 2061.4,126.8 2061.6,125.2 2061.8,125.5 2062.1,128.1 2062.3,130.0 2062.5,131.9 2062.7,138.1 2062.9,130.4 2063.1,131.2 2063.3,132.6 2063.5,137.1 2063.7,134.9 2064.0,132.4 2064.2,135.9 2064.4,135.2 2064.6,137.2 2064.8,139.0 2065.0,137.0 2065.2,138.9 2065.4,140.0 2065.6,140.6 2065.9,142.1 2066.1,144.0 2066.3,141.7 2066.5,143.7 2066.7,145.5 2066.9,145.8 2067.1,146.7 2067.3,149.8 2067.6,150.3 2067.8,152.7 2068.0,153.0 2068.2,155.4 2068.4,153.8 2068.6,158.7 2068.8,159.4 2069.0,161.4 2069.2,164.4 2069.5,165.0 2069.7,168.3 2069.9,170.9 2070.1,172.7 2070.3,175.9 2070.5,176.0 2070.7,179.0 2070.9,181.0 2071.1,186.2 2071.4,186.6 2071.6,190.1 2071.8,191.4 2072.0,192.3 2072.2,195.8 2072.4,198.7 2072.6,199.5 2072.8,195.8 2073.1,203.5 2073.3,210.4 2073.5,210.4 2073.7,213.9 2073.9,217.1 2074.1,218.4 2074.3,222.2 2074.5,233.1 2074.7,225.9 2075.0,226.9 2075.2,226.0 2075.4,230.5 2075.6,232.4 2075.8,234.6 2076.0,234.0 2076.2,235.0 2076.4,235.8 2076.6,239.0 2076.9,239.8 2077.1,243.3 2077.3,242.4 2077.5,246.6 2077.7,250.4 2077.9,248.5 2078.1,252.2 2078.3,255.4 2078.6,258.5 2078.8,263.2 2079.0,263.9 2079.2,269.7 2079.4,269.6 2079.6,275.1 2079.8,281.0 2080.0,281.4 2080.2,283.7 2080.5,289.7 2080.7,291.5 2080.9,296.3 2081.1,300.0 2081.3,305.4 2081.5,303.9 2081.7,308.7 2081.9,310.6 2082.2,315.3 2082.4,317.9 2082.6,318.4 2082.8,322.9 2083.0,325.5 2083.2,328.8 2083.4,329.2 2083.6,333.1 2083.8,333.6 2084.1,335.0 2084.3,338.0 2084.5,329.2 2084.7,341.4 2084.9,343.0 2085.1,343.1 2085.3,347.6 2085.5,351.4 2085.7,352.9 2086.0,354.5 2086.2,354.0 2086.4,357.9 2086.6,360.3 2086.8,360.8 2087.0,361.9 2087.2,365.7 2087.4,364.3 2087.7,365.9 2087.9,367.1 2088.1,371.1 2088.3,368.8 2088.5,368.3 2088.7,371.2 2088.9,369.2 2089.1,373.0 2089.3,375.6 2089.6,375.1 2089.8,376.7 2090.0,377.3 2090.2,379.6 2090.4,378.8 2090.6,381.7 2090.8,381.5 2091.0,383.6 2091.2,383.4 2091.5,382.5 2091.7,383.7 2091.9,383.6 2092.1,383.3 2092.3,382.7 2092.5,382.0 2092.7,381.9 2092.9,381.6 2093.2,382.5 2093.4,383.4 2093.6,384.7 2093.8,383.4 2094.0,384.2 2094.2,385.8 2094.4,382.2 2094.6,386.8 2094.8,384.8 2095.1,385.1 2095.3,386.8 2095.5,384.2 2095.7,395.7 2095.9,389.6 2096.1,387.3 2096.3,391.0 2096.5,392.3 2096.7,392.3 2097.0,385.6 2097.2,391.6 2097.4,391.1 2097.6,393.1 2097.8,390.4 2098.0,387.5 2098.2,390.1 2098.4,388.4 2098.7,386.2 2098.9,377.1 2099.1,385.0 2099.3,383.9 2099.5,382.5 2099.7,378.7 2099.9,377.7 2100.1,380.2 2100.3,379.3 2100.6,377.4 2100.8,377.1 2101.0,374.3 2101.2,366.9 2101.4,372.0 2101.6,373.3 2101.8,374.0 2102.0,372.6 2102.2,374.8 2102.5,375.2 2102.7,373.2 2102.9,371.6 2103.1,374.0 2103.3,370.2 2103.5,369.4 2103.7,370.1 2103.9,368.2 2104.2,367.7 2104.4,366.0 2104.6,363.8 2104.8,364.2 2105.0,360.3 2105.2,358.8 2105.4,357.1 2105.6,359.0 2105.8,357.6 2106.1,353.5 2106.3,354.2 2106.5,353.7 2106.7,353.3 2106.9,353.5 2107.1,351.8 2107.3,359.4 2107.5,351.3 2107.8,349.5 2108.0,350.9 2108.2,347.6 2108.4,351.0 2108.6,344.9 2108.8,349.1 2109.0,346.5 2109.2,346.0 2109.4,347.0 2109.7,346.1 2109.9,347.0 2110.1,349.0 2110.3,346.4 2110.5,345.2 2110.7,347.0 2110.9,347.9 2111.1,346.0 2111.3,344.1 2111.6,343.0 2111.8,340.6 2112.0,339.5 2112.2,337.6 2112.4,338.4 2112.6,331.0 2112.8,331.2 2113.0,327.7 2113.3,326.7 2113.5,324.1 2113.7,321.6 2113.9,317.7 2114.1,315.9 2114.3,315.2 2114.5,311.9 2114.7,313.2 2114.9,310.5 2115.2,310.2 2115.4,306.7 2115.6,306.9 2115.8,304.5 2116.0,302.3 2116.2,305.4 2116.4,298.9 2116.6,299.5 2116.8,298.4 2117.1,298.1 2117.3,293.8 2117.5,293.4 2117.7,287.4 2117.9,278.1 2118.1,278.4 2118.3,277.3 2118.5,272.1 2118.8,268.6 2119.0,264.4 2119.2,264.1 2119.4,260.1 2119.6,260.1 2119.8,257.0 2120.0,253.6 2120.2,251.0 2120.4,250.2 2120.7,247.1 2120.9,243.6 2121.1,242.9 2121.3,235.2 2121.5,238.9 2121.7,233.9 2121.9,230.9 2122.1,230.2 2122.3,227.8 2122.6,215.5 2122.8,217.9 2123.0,219.4 2123.2,217.0 2123.4,212.8 2123.6,206.2 2123.8,206.2 2124.0,198.8 2124.3,199.1 2124.5,196.4 2124.7,191.7 2124.9,191.0 2125.1,187.9 2125.3,187.4 2125.5,185.7 2125.7,183.1 2125.9,180.0 2126.2,179.1 2126.4,178.6 2126.6,173.7 2126.8,172.3 2127.0,170.1 2127.2,168.0 2127.4,167.5 2127.6,160.3 2127.8,160.3 2128.1,156.7 2128.3,148.1 2128.5,151.6 2128.7,150.7 2128.9,149.1 2129.1,147.2 2129.3,145.1 2129.5,144.3 2129.8,144.6 2130.0,142.8 2130.2,142.2 2130.4,141.2 2130.6,141.2 2130.8,139.1 2131.0,139.7 2131.2,137.9 2131.4,137.9 2131.7,137.5 2131.9,136.7 2132.1,134.4 2132.3,132.2 2132.5,130.0 2132.7,130.2 2132.9,129.4 2133.1,128.3 2133.4,125.2 2133.6,129.7 2133.8,125.7 2134.0,123.5 2134.2,125.3 2134.4,122.8 2134.6,122.2 2134.8,121.3 2135.0,121.4 2135.3,117.7 2135.5,115.7 2135.7,118.0 2135.9,115.1 2136.1,113.3 2136.3,110.2 2136.5,106.2 2136.7,111.7 2136.9,109.5 2137.2,106.1 2137.4,107.6 2137.6,106.7 2137.8,104.3 2138.0,108.6 2138.2,108.3 2138.4,104.3 2138.6,104.2 2138.9,106.5 2139.1,104.0 2139.3,104.5 2139.5,104.3 2139.7,108.4 2139.9,105.3 2140.1,106.0 2140.3,105.2 2140.5,105.9 2140.8,104.2 2141.0,112.5 2141.2,109.7 2141.4,108.3 2141.6,113.6 2141.8,110.7 2142.0,110.9 2142.2,113.3 2142.4,113.4 2142.7,116.2 2142.9,114.9 2143.1,118.0 2143.3,115.2 2143.5,118.8 2143.7,119.6 2143.9,112.9 2144.1,117.2 2144.4,116.9 2144.6,116.6 2144.8,117.3 2145.0,118.5 2145.2,117.5 2145.4,117.6 2145.6,117.8 2145.8,116.5 2146.0,120.1 2146.3,119.5 2146.5,119.2 2146.7,120.7 2146.9,122.0 2147.1,121.6 2147.3,120.1 2147.5,122.1 2147.7,121.5 2147.9,123.6 2148.2,122.6 2148.4,124.4 2148.6,125.1 2148.8,124.5 2149.0,125.1 2149.2,124.1 2149.4,128.5 2149.6,126.6 2149.9,126.0 2150.1,130.3 2150.3,129.6 2150.5,130.5 2150.7,130.9 2150.9,130.6 2151.1,131.4 2151.3,132.0 2151.5,132.5 2151.8,135.4 2152.0,136.4 2152.2,137.5 2152.4,138.7 2152.6,138.2 2152.8,138.6 2153.0,136.7 2153.2,139.7 2153.4,140.8 2153.7,144.5 2153.9,142.3 2154.1,141.1 2154.3,140.5 2154.5,140.9 2154.7,141.5 2154.9,142.8 2155.1,144.5 2155.4,144.1 2155.6,145.9 2155.8,145.8 2156.0,148.5 2156.2,149.6 2156.4,154.3 2156.6,153.5 2156.8,158.2 2157.0,161.7 2157.3,164.1 2157.5,165.9 2157.7,166.3 2157.9,169.3 2158.1,173.8 2158.3,174.6 2158.5,177.0 2158.7,180.9 2159.0,182.4 2159.2,185.9 2159.4,186.6 2159.6,190.9 2159.8,190.9 2160.0,193.2 2160.2,195.3 2160.4,197.6 2160.6,197.4 2160.9,201.5 2161.1,203.1 2161.3,204.8 2161.5,207.0 2161.7,209.7 2161.9,213.6 2162.1,209.0 2162.3,218.4 2162.5,220.1 2162.8,221.5 2163.0,223.5 2163.2,219.3 2163.4,227.1 2163.6,226.5 2163.8,223.8 2164.0,232.5 2164.2,232.5 2164.5,238.5 2164.7,234.9 2164.9,237.6 2165.1,239.3 2165.3,243.5 2165.5,240.3 2165.7,245.6 2165.9,247.5 2166.1,248.1 2166.4,251.8 2166.6,254.7 2166.8,254.9 2167.0,259.0 2167.2,259.0 2167.4,262.0 2167.6,263.3 2167.8,268.8 2168.0,268.9 2168.3,273.3 2168.5,274.7 2168.7,281.4 2168.9,282.0 2169.1,287.0 2169.3,290.4 2169.5,295.7 2169.7,297.7 2170.0,300.9 2170.2,306.1 2170.4,309.8 2170.6,312.7 2170.8,313.3 2171.0,318.1 2171.2,320.3 2171.4,324.1 2171.6,327.1 2171.9,329.7 2172.1,333.0 2172.3,333.5 2172.5,337.2 2172.7,339.5 2172.9,343.8 2173.1,344.1 2173.3,347.5 2173.5,349.4 2173.8,349.5 2174.0,353.9 2174.2,354.4 2174.4,354.9 2174.6,355.7 2174.8,359.1 2175.0,359.4 2175.2,360.7 2175.5,363.6 2175.7,365.8 2175.9,366.6 2176.1,364.4 2176.3,365.9 2176.5,368.5 2176.7,372.2 2176.9,369.2 2177.1,370.2 2177.4,370.9 2177.6,369.2 2177.8,373.8 2178.0,373.7 2178.2,375.7 2178.4,376.4 2178.6,377.5 2178.8,377.3 2179.0,378.2 2179.3,372.2 2179.5,378.0 2179.7,379.7 2179.9,376.8 2180.1,381.0 2180.3,379.8 2180.5,378.3 2180.7,377.4 2181.0,380.9 2181.2,381.7 2181.4,383.9 2181.6,387.6 2181.8,384.6 2182.0,387.1 2182.2,388.7 2182.4,387.2 2182.6,390.2 2182.9,388.5 2183.1,390.6 2183.3,389.4 2183.5,391.3 2183.7,390.2 2183.9,390.5 2184.1,389.8 2184.3,388.3 2184.6,388.3 2184.8,387.5 2185.0,385.8 2185.2,387.1 2185.4,388.8 2185.6,386.3 2185.8,385.2 2186.0,383.3 2186.2,382.4 2186.5,381.6 2186.7,381.9 2186.9,379.8 2187.1,381.1 2187.3,376.6 2187.5,376.5 2187.7,375.3 2187.9,375.3 2188.1,373.9 2188.4,374.0 2188.6,371.9 2188.8,373.8 2189.0,370.8 2189.2,371.4 2189.4,369.8 2189.6,372.7 2189.8,373.2 2190.1,373.3 2190.3,373.9 2190.5,374.4 2190.7,375.7 2190.9,375.7 2191.1,374.9 2191.3,374.1 2191.5,374.6 2191.7,373.9 2192.0,371.9 2192.2,369.7 2192.4,369.7 2192.6,367.5 2192.8,365.8 2193.0,364.5 2193.2,364.4 2193.4,362.8 2193.6,363.1 2193.9,360.4 2194.1,358.0 2194.3,359.2 2194.5,355.8 2194.7,355.4 2194.9,357.3 2195.1,358.8 2195.3,358.2 2195.6,357.5 2195.8,356.3 2196.0,355.4 2196.2,355.1 2196.4,355.3 2196.6,351.2 2196.8,352.4 2197.0,351.5 2197.2,350.0 2197.5,349.4 2197.7,348.7 2197.9,347.8 2198.1,347.6 2198.3,342.6 2198.5,344.1 2198.7,343.8 2198.9,341.6 2199.1,341.3 2199.4,335.9 2199.6,336.7 2199.8,334.4 2200.0,333.1 2200.2,333.0 2200.4,331.6 2200.6,331.6 2200.8,329.1 2201.1,327.8 2201.3,325.0 2201.5,323.8 2201.7,319.4 2201.9,317.9 2202.1,317.0 2202.3,317.1 2202.5,312.7 2202.7,311.0 2203.0,310.7 2203.2,310.8 2203.4,307.6 2203.6,305.7 2203.8,308.1 2204.0,304.0 2204.2,305.6 2204.4,302.0 2204.6,298.6 2204.9,298.9 2205.1,296.6 2205.3,295.5 2205.5,292.8 2205.7,287.2 2205.9,285.3 2206.1,284.0 2206.3,280.7 2206.6,276.7 2206.8,270.7 2207.0,269.7 2207.2,265.4 2207.4,264.2 2207.6,262.4 2207.8,256.7 2208.0,255.8 2208.2,254.3 2208.5,252.0 2208.7,249.8 2208.9,247.5 2209.1,246.5 2209.3,241.2 2209.5,245.4 2209.7,237.2 2209.9,236.6 2210.2,233.5 2210.4,231.5 2210.6,227.9 2210.8,225.7 2211.0,223.5 2211.2,221.8 2211.4,219.4 2211.6,215.6 2211.8,211.9 2212.1,208.1 2212.3,205.1 2212.5,197.8 2212.7,195.7 2212.9,194.8 2213.1,190.4 2213.3,187.6 2213.5,182.8 2213.7,179.2 2214.0,179.2 2214.2,174.9 2214.4,173.7 2214.6,177.7 2214.8,167.6 2215.0,166.9 2215.2,164.5 2215.4,163.5 2215.7,162.1 2215.9,161.1 2216.1,157.2 2216.3,155.6 2216.5,153.9 2216.7,151.3 2216.9,149.3 2217.1,148.1 2217.3,145.3 2217.6,141.2 2217.8,140.7 2218.0,136.6 2218.2,137.7 2218.4,136.0 2218.6,132.4 2218.8,129.9 2219.0,129.9 2219.2,126.9 2219.5,125.1 2219.7,131.1 2219.9,124.2 2220.1,123.3 2220.3,124.5 2220.5,121.7 2220.7,120.6 2220.9,118.4 2221.2,120.7 2221.4,119.2 2221.6,118.4 2221.8,115.1 2222.0,118.1 2222.2,115.3 2222.4,110.4 2222.6,110.8 2222.8,111.9 2223.1,109.2 2223.3,107.0 2223.5,106.2 2223.7,106.2 2223.9,106.2 2224.1,103.7 2224.3,104.3 2224.5,103.1 2224.7,103.5 2225.0,104.5 2225.2,102.2 2225.4,104.3 2225.6,103.0 2225.8,99.0 2226.0,102.9 2226.2,102.4 2226.4,102.2 2226.7,100.4 2226.9,98.4 2227.1,97.1 2227.3,96.9 2227.5,98.3 2227.7,96.0 2227.9,97.0 2228.1,95.3 2228.3,98.9 2228.6,95.8 2228.8,98.4 2229.0,96.7 2229.2,103.9 2229.4,97.8 2229.6,99.7 2229.8,102.1 2230.0,101.5 2230.2,101.1 2230.5,101.1 2230.7,104.1 2230.9,103.0 2231.1,102.6 2231.3,102.1 2231.5,101.7 2231.7,97.4 2231.9,103.8 2232.2,101.7 2232.4,102.6 2232.6,101.5 2232.8,103.6 2233.0,102.7 2233.2,105.1 2233.4,104.4 2233.6,105.5 2233.8,105.9 2234.1,108.5 2234.3,108.4 2234.5,110.1 2234.7,110.0 2234.9,104.2 2235.1,107.6 2235.3,111.6 2235.5,111.3 2235.8,112.5 2236.0,111.7 2236.2,113.0 2236.4,112.7 2236.6,113.9 2236.8,112.0 2237.0,113.7 2237.2,117.8 2237.4,116.0 2237.7,116.9 2237.9,120.2 2238.1,119.2 2238.3,119.3 2238.5,120.2 2238.7,119.7 2238.9,122.5 2239.1,120.0 2239.3,120.4 2239.6,121.5 2239.8,122.9 2240.0,123.3 2240.2,124.7 2240.4,123.7 2240.6,125.4 2240.8,124.7 2241.0,128.5 2241.3,127.4 2241.5,130.8 2241.7,131.3 2241.9,133.2 2242.1,132.0 2242.3,133.3 2242.5,133.0 2242.7,132.4 2242.9,134.5 2243.2,134.4 2243.4,134.2 2243.6,135.9 2243.8,137.2 2244.0,137.0 2244.2,138.1 2244.4,139.2 2244.6,140.9 2244.8,144.6 2245.1,145.4 2245.3,146.8 2245.5,151.3 2245.7,152.9 2245.9,156.9 2246.1,158.9 2246.3,160.0 2246.5,164.7 2246.8,169.0 2247.0,170.3 2247.2,173.3 2247.4,175.1 2247.6,180.7 2247.8,182.9 2248.0,184.6 2248.2,188.9 2248.4,188.3 2248.7,194.4 2248.9,195.4 2249.1,198.5 2249.3,199.8 2249.5,200.4 2249.7,202.8 2249.9,204.7 2250.1,214.9 2250.3,212.5 2250.6,212.0 2250.8,216.8 2251.0,217.6 2251.2,219.8 2251.4,222.3 2251.6,223.3 2251.8,227.0 2252.0,226.1 2252.3,229.5 2252.5,230.7 2252.7,233.2 2252.9,234.9 2253.1,237.9 2253.3,237.4 2253.5,242.8 2253.7,243.1 2253.9,245.7 2254.2,248.1 2254.4,249.8 2254.6,253.4 2254.8,254.0 2255.0,249.6 2255.2,260.1 2255.4,262.0 2255.6,266.7 2255.8,270.3 2256.1,271.5 2256.3,273.8 2256.5,273.2 2256.7,279.0 2256.9,280.1 2257.1,282.8 2257.3,283.8 2257.5,288.6 2257.8,290.5 2258.0,294.1 2258.2,297.6 2258.4,300.5 2258.6,303.0 2258.8,303.3 2259.0,307.6 2259.2,311.2 2259.4,314.1 2259.7,317.8 2259.9,320.2 2260.1,323.1 2260.3,325.0 2260.5,327.2 2260.7,332.6 2260.9,332.7 2261.1,333.6 2261.4,338.6 2261.6,339.9 2261.8,341.6 2262.0,342.6 2262.2,345.2 2262.4,348.0 2262.6,349.0 2262.8,350.2 2263.0,352.6 2263.3,352.5 2263.5,355.7 2263.7,358.9 2263.9,360.0 2264.1,367.7 2264.3,361.8 2264.5,361.9 2264.7,363.2 2264.9,362.6 2265.2,364.4 2265.4,364.4 2265.6,367.8 2265.8,368.0 2266.0,367.2 2266.2,368.3 2266.4,368.2 2266.6,369.1 2266.9,370.7 2267.1,368.5 2267.3,369.7 2267.5,373.3 2267.7,372.7 2267.9,372.5 2268.1,372.2 2268.3,373.6 2268.5,375.6 2268.8,373.7 2269.0,375.5 2269.2,374.5 2269.4,376.2 2269.6,376.1 2269.8,377.0 2270.0,377.6 2270.2,380.0 2270.4,379.0 2270.7,380.8 2270.9,383.3 2271.1,383.1 2271.3,383.8 2271.5,383.6 2271.7,384.0 2271.9,386.6 2272.1,384.7 2272.4,385.8 2272.6,386.9 2272.8,384.5 2273.0,378.9 2273.2,378.8 2273.4,383.5 2273.6,382.7 2273.8,383.9 2274.0,381.1 2274.3,380.3 2274.5,381.0 2274.7,377.1 2274.9,378.5 2275.1,380.6 2275.3,379.2 2275.5,374.6 2275.7,374.9 2275.9,372.6 2276.2,374.1 2276.4,369.7 2276.6,368.4 2276.8,367.0 2277.0,371.8 2277.2,366.8 2277.4,366.4 2277.6,369.7 2277.9,366.5 2278.1,365.4 2278.3,363.2 2278.5,365.5 2278.7,364.0 2278.9,364.0 2279.1,363.2 2279.3,363.9 2279.5,362.2 2279.8,361.9 2280.0,364.5 2280.2,361.3 2280.4,363.2 2280.6,362.3 2280.8,360.2 2281.0,361.0 2281.2,359.9 2281.4,358.9 2281.7,358.3 2281.9,358.5 2282.1,357.8 2282.3,354.7 2282.5,353.6 2282.7,353.1 2282.9,352.9 2283.1,351.0 2283.4,351.3 2283.6,352.1 2283.8,349.3 2284.0,348.0 2284.2,346.7 2284.4,347.6 2284.6,346.5 2284.8,344.3 2285.0,347.4 2285.3,343.0 2285.5,341.0 2285.7,340.9 2285.9,338.5 2286.1,339.8 2286.3,337.7 2286.5,338.1 2286.7,336.2 2287.0,338.9 2287.2,338.8 2287.4,337.0 2287.6,338.8 2287.8,338.4 2288.0,337.0 2288.2,336.2 2288.4,337.3 2288.6,334.2 2288.9,333.4 2289.1,331.5 2289.3,329.5 2289.5,328.2 2289.7,324.8 2289.9,323.5 2290.1,322.3 2290.3,320.0 2290.5,316.8 2290.8,315.2 2291.0,312.8 2291.2,312.7 2291.4,310.7 2291.6,306.9 2291.8,307.7 2292.0,304.1 2292.2,303.5 2292.5,303.4 2292.7,302.9 2292.9,298.9 2293.1,298.9 2293.3,297.2 2293.5,296.7 2293.7,291.5 2293.9,290.8 2294.1,288.6 2294.4,285.6 2294.6,283.0 2294.8,280.2 2295.0,276.6 2295.2,274.4 2295.4,274.1 2295.6,261.8 2295.8,265.0 2296.0,262.8 2296.3,258.5 2296.5,259.4 2296.7,258.6 2296.9,251.0 2297.1,249.6 2297.3,249.3 2297.5,245.0 2297.7,241.0 2298.0,240.2 2298.2,235.3 2298.4,230.6 2298.6,228.7 2298.8,220.4 2299.0,224.5 2299.2,223.4 2299.4,219.6 2299.6,217.6 2299.9,215.7 2300.1,213.3 2300.3,206.7 2300.5,205.8 2300.7,204.0 2300.9,200.1 2301.1,189.1 2301.3,197.4 2301.5,191.2 2301.8,187.6 2302.0,178.1 2302.2,183.3 2302.4,182.1 2302.6,179.7 2302.8,176.6 2303.0,175.6 2303.2,174.4 2303.5,171.3 2303.7,168.0 2303.9,166.2 2304.1,165.1 2304.3,160.3 2304.5,161.1 2304.7,157.8 2304.9,156.9 2305.1,152.0 2305.4,150.8 2305.6,150.3 2305.8,147.2 2306.0,142.3 2306.2,141.8 2306.4,140.9 2306.6,138.7 2306.8,140.2 2307.0,138.2 2307.3,137.7 2307.5,130.2 2307.7,134.7 2307.9,132.7 2308.1,131.1 2308.3,130.1 2308.5,127.0 2308.7,129.5 2309.0,127.8 2309.2,126.0 2309.4,126.4 2309.6,124.7 2309.8,122.9 2310.0,123.3 2310.2,120.7 2310.4,118.8 2310.6,120.6 2310.9,121.0 2311.1,117.4 2311.3,118.0 2311.5,115.9 2311.7,116.0 2311.9,114.5 2312.1,113.0 2312.3,112.8 2312.6,113.6 2312.8,114.0 2313.0,114.9 2313.2,113.8 2313.4,111.4 2313.6,109.6 2313.8,109.6 2314.0,115.9 2314.2,108.7 2314.5,107.8 2314.7,106.8 2314.9,103.1 2315.1,105.2 2315.3,101.3 2315.5,102.4 2315.7,100.3 2315.9,100.5 2316.1,99.9 2316.4,99.6 2316.6,102.3 2316.8,102.8 2317.0,102.6 2317.2,103.3 2317.4,101.9 2317.6,103.0 2317.8,103.0 2318.1,102.7 2318.3,103.9 2318.5,102.2 2318.7,105.8 2318.9,103.5 2319.1,103.4 2319.3,105.1 2319.5,105.4 2319.7,104.0 2320.0,106.0 2320.2,108.7 2320.4,108.8 2320.6,107.0 2320.8,110.2 2321.0,108.6 2321.2,109.5 2321.4,112.3 2321.6,112.2 2321.9,114.6 2322.1,114.7 2322.3,115.6 2322.5,114.6 2322.7,117.2 2322.9,116.3 2323.1,116.6 2323.3,116.5 2323.6,120.0 2323.8,120.1 2324.0,119.7 2324.2,119.5 2324.4,119.7 2324.6,120.3 2324.8,118.9 2325.0,121.2 2325.2,122.1 2325.5,124.2 2325.7,123.6 2325.9,124.5 2326.1,125.4 2326.3,127.2 2326.5,127.2 2326.7,127.0 2326.9,130.5 2327.1,132.9 2327.4,130.3 2327.6,131.1 2327.8,132.9 2328.0,133.8 2328.2,130.7 2328.4,135.0 2328.6,136.4 2328.8,136.0 2329.1,135.3 2329.3,137.0 2329.5,137.2 2329.7,136.8 2329.9,138.2 2330.1,138.1 2330.3,138.9 2330.5,140.8 2330.7,140.2 2331.0,142.3 2331.2,140.6 2331.4,143.6 2331.6,143.7 2331.8,146.4 2332.0,145.9 2332.2,147.9 2332.4,145.9 2332.6,149.1 2332.9,149.7 2333.1,153.7 2333.3,154.6 2333.5,154.9 2333.7,157.9 2333.9,156.6 2334.1,160.2 2334.3,161.5 2334.6,163.3 2334.8,165.8 2335.0,166.5 2335.2,169.7 2335.4,178.2" fill="none" stroke="#0072bd" stroke-width="3.00" stroke-linejoin="round"/>
<g font-size="54.8" fill="#262626">
<text transform="translate(218.8 545.9) scale(1 1.027)" text-anchor="middle">48</text>
<text transform="translate(429.2 545.9) scale(1 1.027)" text-anchor="middle">48.05</text>
<text transform="translate(640.7 545.9) scale(1 1.027)" text-anchor="middle">48.1</text>
<text transform="translate(852.3 545.9) scale(1 1.027)" text-anchor="middle">48.15</text>
<text transform="translate(1063.9 545.9) scale(1 1.027)" text-anchor="middle">48.2</text>
<text transform="translate(1275.5 545.9) scale(1 1.027)" text-anchor="middle">48.25</text>
<text transform="translate(1487.0 545.9) scale(1 1.027)" text-anchor="middle">48.3</text>
<text transform="translate(1698.6 545.9) scale(1 1.027)" text-anchor="middle">48.35</text>
<text transform="translate(1910.2 545.9) scale(1 1.027)" text-anchor="middle">48.4</text>
<text transform="translate(2121.7 545.9) scale(1 1.027)" text-anchor="middle">48.45</text>
<text transform="translate(2333.3 545.9) scale(1 1.027)" text-anchor="middle">48.5</text>
<text transform="translate(193.9 463.5) scale(1 1.027)" text-anchor="end">-4</text>
<text transform="translate(193.9 366.0) scale(1 1.027)" text-anchor="end">-2</text>
<text transform="translate(195.5 268.4) scale(1 1.027)" text-anchor="end">0</text>
<text transform="translate(195.5 170.9) scale(1 1.027)" text-anchor="end">2</text>
<text transform="translate(195.5 73.4) scale(1 1.027)" text-anchor="end">4</text>
</g>
<g font-size="59.5" fill="#262626">
<text x="1278.3" y="625.9" text-anchor="middle">time s]</text>
<text x="1279.3" y="701.4" text-anchor="middle">(a)</text>
<text transform="translate(89.9 245.9) rotate(-90)" x="-73.5" y="0">I<tspan font-size="43.0" dx="3" dy="29.3">m</tspan><tspan dy="-29.3"> [A]</tspan></text>
</g>
</g>
<g id="axes-b">
<path d="M431.27 787.10V1222.40M642.84 787.10V1222.40M854.41 787.10V1222.40M1065.98 787.10V1222.40M1277.55 787.10V1222.40M1489.12 787.10V1222.40M1700.69 787.10V1222.40M1912.26 787.10V1222.40M2123.83 787.10V1222.40" stroke="#262626" stroke-opacity="0.15" stroke-width="2.78" fill="none"/>
<path d="M219.70 1098.03H2335.40M219.70 973.66H2335.40M219.70 849.29H2335.40" stroke="#262626" stroke-opacity="0.15" stroke-width="2.78" fill="none"/>
<path d="M431.27 1222.40v-22.40M431.27 787.10v22.40M642.84 1222.40v-22.40M642.84 787.10v22.40M854.41 1222.40v-22.40M854.41 787.10v22.40M1065.98 1222.40v-22.40M1065.98 787.10v22.40M1277.55 1222.40v-22.40M1277.55 787.10v22.40M1489.12 1222.40v-22.40M1489.12 787.10v22.40M1700.69 1222.40v-22.40M1700.69 787.10v22.40M1912.26 1222.40v-22.40M1912.26 787.10v22.40M2123.83 1222.40v-22.40M2123.83 787.10v22.40M219.70 1098.03h22.40M2335.40 1098.03h-22.40M219.70 973.66h22.40M2335.40 973.66h-22.40M219.70 849.29h22.40M2335.40 849.29h-22.40" stroke="#262626" stroke-width="2.78" fill="none"/>
<rect x="219.70" y="787.10" width="2115.70" height="435.30" stroke="#262626" stroke-width="2.78" fill="none"/>
<polyline clip-path="url(#clip-b)" points="219.7,1197.2 221.8,1221.9 223.9,1220.9 226.0,1221.8 228.2,1221.1 230.3,1221.5 232.4,1221.9 234.5,1221.2 236.6,1222.0 238.7,1222.1 240.9,1221.9 243.0,1222.0 245.1,1221.1 247.2,1221.8 249.3,1220.8 251.4,1221.7 253.6,1221.4 255.7,1221.9 257.8,1221.2 259.9,1221.6 262.0,1220.9 264.1,1221.2 266.2,1221.4 268.4,1220.9 270.5,1221.7 272.6,1221.3 274.7,1220.7 276.8,1221.9 278.9,1221.5 281.1,1222.1 283.2,1221.5 285.3,1222.2 287.4,1221.8 289.5,1221.2 291.6,1221.6 293.7,1222.0 295.9,1221.7 298.0,1221.6 300.1,1222.1 302.2,1221.9 304.3,1222.2 306.4,1221.3 308.6,1221.0 310.7,1222.1 312.8,1221.2 314.9,1221.5 317.0,1221.5 319.1,1222.1 321.3,1221.5 323.4,1221.0 325.5,1220.7 327.6,1221.5 329.7,1221.7 331.8,1221.7 333.9,1222.1 336.1,1221.6 338.2,1221.9 340.3,1221.7 342.4,1221.2 344.5,1221.8 346.6,1222.0 348.8,1221.7 350.9,1221.4 353.0,1221.7 355.1,1221.1 357.2,1222.0 359.3,1221.6 361.5,1221.5 363.6,1221.1 365.7,1221.6 367.8,1221.5 369.9,1221.3 372.0,1221.7 374.1,1221.9 376.3,1221.4 378.4,1221.8 380.5,1221.5 382.6,1221.6 384.7,1221.0 386.8,1221.2 389.0,1222.2 391.1,1222.3 393.2,1222.0 395.3,1222.2 397.4,1222.3 399.5,1221.6 401.7,1221.2 403.8,1222.3 405.9,1221.5 408.0,1221.8 410.1,1222.2 412.2,1221.7 414.3,1222.1 416.5,1221.5 418.6,1222.1 420.7,1221.8 422.8,1221.2 424.9,1221.1 427.0,1221.3 429.2,1221.5 431.3,1221.1 433.4,1221.9 435.5,1222.1 437.6,1221.0 439.7,1222.0 441.8,1222.2 444.0,1222.0 446.1,1221.8 448.2,1222.2 450.3,1222.2 452.4,1221.6 454.5,1222.0 456.7,1221.8 458.8,1222.2 460.9,1221.8 463.0,1222.0 465.1,1222.0 467.2,1222.1 469.4,1221.7 471.5,1222.1 473.6,1222.1 475.7,1222.0 477.8,1221.9 479.9,1221.4 482.0,1222.0 484.2,1221.9 486.3,1221.5 488.4,1221.7 490.5,1221.8 492.6,1221.7 494.7,1221.8 496.9,1221.7 499.0,1221.3 501.1,1221.8 503.2,1221.2 505.3,1221.5 507.4,1221.9 509.6,1222.1 511.7,1221.8 513.8,1222.0 515.9,1221.3 518.0,1222.2 520.1,1222.2 522.2,1221.9 524.4,1221.3 526.5,1221.7 528.6,1221.6 530.7,1222.2 532.8,1221.7 534.9,1222.1 537.1,1221.9 539.2,1222.3 541.3,1222.0 543.4,1222.2 545.5,1222.3 547.6,1221.4 549.7,1221.9 551.9,1222.2 554.0,1221.4 556.1,1222.2 558.2,1221.9 560.3,1222.0 562.4,1221.5 564.6,1221.6 566.7,1222.0 568.8,1222.2 570.9,1221.8 573.0,1221.7 575.1,1222.1 577.3,1222.2 579.4,1222.2 581.5,1221.9 583.6,1222.3 585.7,1221.6 587.8,1221.9 589.9,1221.7 592.1,1221.2 594.2,1222.3 596.3,1222.1 598.4,1222.1 600.5,1222.1 602.6,1222.4 604.8,1221.9 606.9,1222.3 609.0,1221.6 611.1,1222.2 613.2,1221.6 615.3,1221.9 617.5,1222.0 619.6,1222.1 621.7,1221.9 623.8,1221.7 625.9,1221.7 628.0,1221.9 630.1,1221.8 632.3,1221.6 634.4,1221.9 636.5,1221.8 638.6,1222.1 640.7,1221.4 642.8,1222.2 645.0,1221.8 647.1,1222.0 649.2,1221.5 651.3,1221.4 653.4,1221.6 655.5,1222.0 657.6,1221.9 659.8,1221.9 661.9,1222.3 664.0,1222.0 666.1,1221.8 668.2,1222.0 670.3,1221.8 672.5,1221.7 674.6,1222.1 676.7,1221.8 678.8,1222.0 680.9,1221.9 683.0,1221.8 685.2,1221.9 687.3,1222.3 689.4,1221.8 691.5,1221.9 693.6,1221.9 695.7,1222.0 697.8,1222.1 700.0,1222.3 702.1,1222.3 704.2,1222.2 706.3,1221.9 708.4,1222.0 710.5,1221.8 712.7,1221.8 714.8,1221.4 716.9,1221.8 719.0,1221.8 721.1,1222.2 723.2,1222.1 725.4,1222.0 727.5,1222.2 729.6,1221.7 731.7,1221.8 733.8,1222.0 735.9,1222.2 738.0,1221.6 740.2,1222.0 742.3,1222.0 744.4,1221.6 746.5,1222.0 748.6,1221.6 750.7,1222.0 752.9,1221.6 755.0,1221.9 757.1,1222.2 759.2,1222.0 761.3,1221.5 763.4,1222.0 765.6,1221.9 767.7,1222.1 769.8,1222.1 771.9,1221.8 774.0,1221.8 776.1,1222.0 778.2,1222.1 780.4,1221.9 782.5,1222.1 784.6,1221.7 786.7,1222.3 788.8,1222.2 790.9,1221.5 793.1,1222.2 795.2,1221.4 797.3,1221.6 799.4,1222.2 801.5,1221.8 803.6,1221.9 805.7,1221.8 807.9,1222.0 810.0,1222.0 812.1,1222.0 814.2,1222.2 816.3,1222.1 818.4,1221.9 820.6,1221.7 822.7,1221.8 824.8,1221.8 826.9,1221.6 829.0,1221.9 831.1,1222.0 833.3,1221.9 835.4,1221.5 837.5,1221.7 839.6,1221.7 841.7,1221.8 843.8,1221.7 845.9,1221.9 848.1,1222.1 850.2,1222.1 852.3,1222.0 854.4,1221.6 856.5,1221.8 858.6,1222.1 860.8,1221.9 862.9,1221.9 865.0,1221.5 867.1,1221.8 869.2,1222.0 871.3,1222.0 873.5,1222.4 875.6,1222.0 877.7,1221.7 879.8,1222.0 881.9,1222.0 884.0,1222.0 886.1,1222.0 888.3,1221.7 890.4,1222.0 892.5,1222.2 894.6,1221.6 896.7,1222.2 898.8,1221.8 901.0,1221.5 903.1,1221.9 905.2,1221.8 907.3,1221.9 909.4,1222.0 911.5,1221.9 913.6,1221.8 915.8,1221.2 917.9,1222.0 920.0,1221.9 922.1,1222.1 924.2,1221.8 926.3,1222.0 928.5,1222.0 930.6,1221.6 932.7,1222.2 934.8,1221.6 936.9,1221.4 939.0,1221.8 941.2,1221.7 943.3,1221.3 945.4,1222.0 947.5,1222.1 949.6,1222.0 951.7,1221.8 953.8,1221.5 956.0,1221.5 958.1,1222.0 960.2,1221.9 962.3,1222.1 964.4,1221.8 966.5,1221.7 968.7,1221.6 970.8,1221.7 972.9,1221.9 975.0,1221.9 977.1,1221.9 979.2,1221.7 981.4,1221.7 983.5,1221.3 985.6,1221.6 987.7,1221.8 989.8,1222.2 991.9,1221.6 994.0,1222.1 996.2,1222.2 998.3,1221.6 1000.4,1221.7 1002.5,1221.7 1004.6,1222.1 1006.7,1221.7 1008.9,1222.0 1011.0,1221.6 1013.1,1221.2 1015.2,1221.5 1017.3,1222.0 1019.4,1222.0 1021.6,1221.7 1023.7,1221.5 1025.8,1221.6 1027.9,1221.7 1030.0,1221.9 1032.1,1221.4 1034.2,1221.4 1036.4,1221.4 1038.5,1221.7 1040.6,1221.6 1042.7,1221.8 1044.8,1221.5 1046.9,1221.5 1049.1,1221.9 1051.2,1221.8 1053.3,1221.5 1055.4,1221.6 1057.5,1221.5 1059.6,1221.3 1061.7,1222.1 1063.9,1221.7 1066.0,1221.5 1068.1,1221.3 1070.2,1221.6 1072.3,1221.3 1074.4,1221.5 1076.6,1221.8 1078.7,1221.7 1080.8,1221.2 1082.9,1221.3 1085.0,1222.0 1087.1,1221.1 1089.3,1221.3 1091.4,1221.1 1093.5,1221.5 1095.6,1221.4 1097.7,1221.4 1099.8,1220.8 1101.9,1221.4 1104.1,1220.9 1106.2,1221.6 1108.3,1221.2 1110.4,1221.7 1112.5,1221.2 1114.6,1221.0 1116.8,1221.5 1118.9,1220.9 1121.0,1221.1 1123.1,1221.4 1125.2,1221.2 1127.3,1221.3 1129.5,1221.1 1131.6,1221.1 1133.7,1221.0 1135.8,1221.0 1137.9,1221.1 1140.0,1221.1 1142.1,1220.7 1144.3,1220.4 1146.4,1221.0 1148.5,1220.8 1150.6,1220.8 1152.7,1220.9 1154.8,1220.4 1157.0,1220.6 1159.1,1220.3 1161.2,1220.9 1163.3,1220.4 1165.4,1220.6 1167.5,1220.4 1169.6,1220.1 1171.8,1220.4 1173.9,1219.8 1176.0,1219.8 1178.1,1220.1 1180.2,1219.4 1182.3,1219.2 1184.5,1219.6 1186.6,1219.4 1188.7,1219.2 1190.8,1219.4 1192.9,1218.8 1195.0,1218.3 1197.2,1218.8 1199.3,1218.5 1201.4,1219.9 1203.5,1217.5 1205.6,1217.5 1207.7,1216.2 1209.8,1216.4 1212.0,1216.2 1214.1,1215.8 1216.2,1214.3 1218.3,1212.9 1220.4,1211.6 1222.5,1209.7 1224.7,1206.0 1226.8,1199.1 1228.9,1191.3 1231.0,1160.2 1233.1,854.3 1235.2,1160.2 1237.4,1195.7 1239.5,1202.9 1241.6,1206.7 1243.7,1210.3 1245.8,1211.9 1247.9,1213.4 1250.0,1214.1 1252.2,1215.7 1254.3,1216.4 1256.4,1216.7 1258.5,1216.6 1260.6,1217.6 1262.7,1217.4 1264.9,1219.7 1267.0,1218.9 1269.1,1219.0 1271.2,1219.2 1273.3,1219.3 1275.4,1219.2 1277.6,1219.4 1279.7,1219.5 1281.8,1220.0 1283.9,1219.3 1286.0,1219.7 1288.1,1219.6 1290.2,1220.3 1292.4,1220.7 1294.5,1220.2 1296.6,1220.2 1298.7,1220.3 1300.8,1220.7 1302.9,1220.6 1305.1,1220.2 1307.2,1220.8 1309.3,1220.2 1311.4,1220.3 1313.5,1220.4 1315.6,1220.8 1317.7,1220.8 1319.9,1220.8 1322.0,1220.9 1324.1,1220.9 1326.2,1221.0 1328.3,1220.9 1330.4,1221.2 1332.6,1220.7 1334.7,1221.1 1336.8,1221.2 1338.9,1221.2 1341.0,1221.2 1343.1,1221.3 1345.3,1221.0 1347.4,1221.2 1349.5,1221.4 1351.6,1221.1 1353.7,1221.5 1355.8,1221.3 1357.9,1221.3 1360.1,1221.8 1362.2,1221.2 1364.3,1221.4 1366.4,1221.3 1368.5,1221.4 1370.6,1221.5 1372.8,1221.6 1374.9,1221.4 1377.0,1221.6 1379.1,1221.4 1381.2,1221.7 1383.3,1221.5 1385.5,1221.3 1387.6,1221.5 1389.7,1221.6 1391.8,1221.3 1393.9,1221.8 1396.0,1221.5 1398.1,1221.5 1400.3,1221.5 1402.4,1221.5 1404.5,1221.7 1406.6,1221.6 1408.7,1221.4 1410.8,1221.5 1413.0,1221.5 1415.1,1221.9 1417.2,1221.5 1419.3,1221.4 1421.4,1221.5 1423.5,1221.5 1425.6,1221.8 1427.8,1221.6 1429.9,1221.6 1432.0,1222.2 1434.1,1221.6 1436.2,1222.1 1438.3,1221.9 1440.5,1221.8 1442.6,1221.5 1444.7,1221.7 1446.8,1221.6 1448.9,1221.4 1451.0,1221.4 1453.2,1221.8 1455.3,1221.8 1457.4,1221.9 1459.5,1221.9 1461.6,1221.7 1463.7,1221.7 1465.8,1221.8 1468.0,1221.6 1470.1,1221.9 1472.2,1221.8 1474.3,1221.8 1476.4,1221.8 1478.5,1221.5 1480.7,1221.8 1482.8,1221.9 1484.9,1221.8 1487.0,1221.9 1489.1,1222.2 1491.2,1221.8 1493.4,1221.9 1495.5,1221.8 1497.6,1222.2 1499.7,1221.9 1501.8,1221.9 1503.9,1221.9 1506.0,1222.2 1508.2,1222.0 1510.3,1221.7 1512.4,1221.8 1514.5,1222.0 1516.6,1222.0 1518.7,1221.7 1520.9,1222.0 1523.0,1222.0 1525.1,1221.8 1527.2,1221.8 1529.3,1221.6 1531.4,1221.7 1533.5,1221.9 1535.7,1221.9 1537.8,1221.8 1539.9,1222.0 1542.0,1221.9 1544.1,1221.8 1546.2,1221.6 1548.4,1222.0 1550.5,1221.9 1552.6,1221.9 1554.7,1221.7 1556.8,1222.0 1558.9,1221.7 1561.1,1222.1 1563.2,1222.1 1565.3,1221.9 1567.4,1221.8 1569.5,1221.8 1571.6,1222.2 1573.7,1222.1 1575.9,1221.9 1578.0,1221.9 1580.1,1222.3 1582.2,1221.9 1584.3,1221.9 1586.4,1221.9 1588.6,1222.1 1590.7,1221.8 1592.8,1221.9 1594.9,1221.8 1597.0,1222.0 1599.1,1222.1 1601.3,1222.0 1603.4,1222.0 1605.5,1221.9 1607.6,1222.0 1609.7,1222.2 1611.8,1221.9 1613.9,1222.0 1616.1,1221.8 1618.2,1222.1 1620.3,1222.1 1622.4,1221.8 1624.5,1221.6 1626.6,1221.7 1628.8,1222.0 1630.9,1222.0 1633.0,1221.8 1635.1,1222.1 1637.2,1222.2 1639.3,1222.0 1641.5,1222.0 1643.6,1222.1 1645.7,1222.2 1647.8,1222.1 1649.9,1222.0 1652.0,1222.2 1654.1,1222.1 1656.3,1222.0 1658.4,1221.9 1660.5,1222.1 1662.6,1222.0 1664.7,1222.2 1666.8,1222.2 1669.0,1222.3 1671.1,1221.8 1673.2,1222.1 1675.3,1222.1 1677.4,1222.1 1679.5,1222.1 1681.6,1221.9 1683.8,1222.2 1685.9,1222.2 1688.0,1222.1 1690.1,1221.7 1692.2,1222.0 1694.3,1222.1 1696.5,1222.0 1698.6,1221.8 1700.7,1222.1 1702.8,1222.0 1704.9,1221.9 1707.0,1222.0 1709.2,1222.0 1711.3,1222.2 1713.4,1221.8 1715.5,1221.8 1717.6,1222.0 1719.7,1222.0 1721.8,1222.2 1724.0,1222.0 1726.1,1222.1 1728.2,1222.0 1730.3,1222.0 1732.4,1222.2 1734.5,1222.3 1736.7,1222.1 1738.8,1222.2 1740.9,1222.1 1743.0,1222.2 1745.1,1222.2 1747.2,1222.3 1749.4,1221.8 1751.5,1222.1 1753.6,1222.0 1755.7,1221.8 1757.8,1222.1 1759.9,1222.0 1762.0,1222.3 1764.2,1222.3 1766.3,1222.2 1768.4,1222.0 1770.5,1222.3 1772.6,1222.1 1774.7,1222.3 1776.9,1222.0 1779.0,1222.1 1781.1,1222.0 1783.2,1222.1 1785.3,1222.2 1787.4,1222.2 1789.5,1222.2 1791.7,1222.1 1793.8,1221.8 1795.9,1221.8 1798.0,1221.9 1800.1,1222.0 1802.2,1222.2 1804.4,1221.9 1806.5,1222.1 1808.6,1222.1 1810.7,1222.2 1812.8,1222.1 1814.9,1222.1 1817.1,1222.1 1819.2,1222.3 1821.3,1222.0 1823.4,1221.8 1825.5,1222.2 1827.6,1222.2 1829.7,1222.0 1831.9,1222.0 1834.0,1222.2 1836.1,1222.2 1838.2,1222.0 1840.3,1222.1 1842.4,1222.1 1844.6,1221.9 1846.7,1222.3 1848.8,1222.1 1850.9,1222.3 1853.0,1221.9 1855.1,1222.3 1857.3,1222.3 1859.4,1222.2 1861.5,1222.0 1863.6,1222.0 1865.7,1222.0 1867.8,1222.3 1869.9,1222.1 1872.1,1222.2 1874.2,1222.2 1876.3,1222.1 1878.4,1222.2 1880.5,1222.2 1882.6,1222.0 1884.8,1222.2 1886.9,1222.2 1889.0,1222.1 1891.1,1222.1 1893.2,1221.9 1895.3,1222.2 1897.5,1222.3 1899.6,1222.3 1901.7,1222.0 1903.8,1222.3 1905.9,1222.1 1908.0,1222.2 1910.1,1222.3 1912.3,1222.1 1914.4,1222.1 1916.5,1222.0 1918.6,1222.2 1920.7,1222.1 1922.8,1222.2 1925.0,1221.9 1927.1,1222.1 1929.2,1222.1 1931.3,1222.1 1933.4,1222.2 1935.5,1222.2 1937.6,1222.2 1939.8,1222.0 1941.9,1222.3 1944.0,1222.0 1946.1,1222.0 1948.2,1222.3 1950.3,1222.3 1952.5,1222.2 1954.6,1222.1 1956.7,1222.2 1958.8,1222.1 1960.9,1222.3 1963.0,1222.1 1965.2,1222.3 1967.3,1222.2 1969.4,1222.0 1971.5,1221.8 1973.6,1222.1 1975.7,1222.3 1977.8,1222.3 1980.0,1222.1 1982.1,1222.4 1984.2,1222.2 1986.3,1222.2 1988.4,1222.3 1990.5,1222.3 1992.7,1222.2 1994.8,1222.2 1996.9,1222.3 1999.0,1222.2 2001.1,1222.2 2003.2,1222.2 2005.4,1222.2 2007.5,1222.1 2009.6,1222.1 2011.7,1222.1 2013.8,1222.2 2015.9,1222.3 2018.0,1222.1 2020.2,1222.3 2022.3,1222.2 2024.4,1222.3 2026.5,1222.0 2028.6,1222.2 2030.7,1222.0 2032.9,1222.3 2035.0,1222.1 2037.1,1222.2 2039.2,1222.2 2041.3,1221.8 2043.4,1222.1 2045.5,1222.2 2047.7,1222.3 2049.8,1222.2 2051.9,1222.0 2054.0,1222.3 2056.1,1222.2 2058.2,1222.2 2060.4,1222.2 2062.5,1222.0 2064.6,1222.0 2066.7,1222.1 2068.8,1222.1 2070.9,1222.3 2073.1,1222.1 2075.2,1221.8 2077.3,1222.1 2079.4,1222.2 2081.5,1222.2 2083.6,1221.9 2085.7,1222.4 2087.9,1222.2 2090.0,1222.0 2092.1,1222.1 2094.2,1222.3 2096.3,1222.2 2098.4,1222.2 2100.6,1222.1 2102.7,1222.3 2104.8,1222.2 2106.9,1222.1 2109.0,1222.1 2111.1,1222.3 2113.3,1222.3 2115.4,1222.1 2117.5,1222.4 2119.6,1222.2 2121.7,1222.2 2123.8,1222.1 2125.9,1221.9 2128.1,1221.9 2130.2,1222.3 2132.3,1222.1 2134.4,1222.2 2136.5,1222.2 2138.6,1222.0 2140.8,1222.4 2142.9,1222.1 2145.0,1222.1 2147.1,1222.0 2149.2,1222.2 2151.3,1222.3 2153.4,1222.0 2155.6,1222.1 2157.7,1222.2 2159.8,1222.2 2161.9,1222.3 2164.0,1222.1 2166.1,1222.1 2168.3,1222.0 2170.4,1222.2 2172.5,1222.2 2174.6,1222.1 2176.7,1222.1 2178.8,1222.3 2181.0,1222.3 2183.1,1222.0 2185.2,1222.2 2187.3,1222.0 2189.4,1222.3 2191.5,1222.2 2193.6,1222.1 2195.8,1222.3 2197.9,1222.3 2200.0,1222.3 2202.1,1222.1 2204.2,1222.1 2206.3,1222.3 2208.5,1222.1 2210.6,1222.0 2212.7,1222.4 2214.8,1222.2 2216.9,1222.2 2219.0,1222.3 2221.2,1222.3 2223.3,1222.2 2225.4,1222.2 2227.5,1222.3 2229.6,1222.3 2231.7,1222.1 2233.8,1222.2 2236.0,1222.1 2238.1,1222.1 2240.2,1222.2 2242.3,1221.9 2244.4,1222.3 2246.5,1222.1 2248.7,1222.2 2250.8,1222.0 2252.9,1222.0 2255.0,1222.1 2257.1,1222.3 2259.2,1222.1 2261.4,1222.1 2263.5,1222.2 2265.6,1222.1 2267.7,1222.2 2269.8,1222.1 2271.9,1222.2 2274.0,1222.1 2276.2,1222.2 2278.3,1222.2 2280.4,1222.3 2282.5,1222.1 2284.6,1222.3 2286.7,1222.4 2288.9,1222.2 2291.0,1222.1 2293.1,1222.3 2295.2,1222.2 2297.3,1222.3 2299.4,1222.2 2301.5,1222.1 2303.7,1222.1 2305.8,1222.1 2307.9,1222.2 2310.0,1222.3 2312.1,1222.1 2314.2,1222.1 2316.4,1222.3 2318.5,1222.0 2320.6,1222.3 2322.7,1222.1 2324.8,1222.3 2326.9,1222.1 2329.1,1222.2 2331.2,1222.2 2333.3,1222.3 2335.4,1222.2" fill="none" stroke="#0072bd" stroke-width="2.78" stroke-linejoin="round"/>
<g font-size="54.8" fill="#262626">
<text transform="translate(218.4 1302.9) scale(1 1.027)" text-anchor="middle">0</text>
<text transform="translate(430.4 1302.9) scale(1 1.027)" text-anchor="middle">10</text>
<text transform="translate(641.9 1302.9) scale(1 1.027)" text-anchor="middle">20</text>
<text transform="translate(853.5 1302.9) scale(1 1.027)" text-anchor="middle">30</text>
<text transform="translate(1065.1 1302.9) scale(1 1.027)" text-anchor="middle">40</text>
<text transform="translate(1276.7 1302.9) scale(1 1.027)" text-anchor="middle">50</text>
<text transform="translate(1488.2 1302.9) scale(1 1.027)" text-anchor="middle">60</text>
<text transform="translate(1699.8 1302.9) scale(1 1.027)" text-anchor="middle">70</text>
<text transform="translate(1911.4 1302.9) scale(1 1.027)" text-anchor="middle">80</text>
<text transform="translate(2122.9 1302.9) scale(1 1.027)" text-anchor="middle">90</text>
<text transform="translate(2333.3 1302.9) scale(1 1.027)" text-anchor="middle">100</text>
<text transform="translate(195.5 1244.9) scale(1 1.027)" text-anchor="end">0</text>
<text transform="translate(195.5 1120.5) scale(1 1.027)" text-anchor="end">1</text>
<text transform="translate(195.5 996.2) scale(1 1.027)" text-anchor="end">2</text>
<text transform="translate(195.5 871.8) scale(1 1.027)" text-anchor="end">3</text>
</g>
<g font-size="59.5" fill="#262626">
<text x="1279.8" y="1382.9" text-anchor="middle">Frequency [Hz]</text>
<text x="1279.5" y="1458.4" text-anchor="middle">(b)</text>
<text transform="translate(135.9 1003.1) rotate(-90)" text-anchor="middle">Amplitude [A]</text>
</g>
<g font-size="54.8" fill="#000"><text x="1276.6" y="835.7">47.9 Hz</text><text x="1276.6" y="907.4" textLength="155.3" lengthAdjust="spacing">2.96 A</text></g>
</g>
<g id="axes-c">
<path d="M572.32 1547.50V1983.20M924.93 1547.50V1983.20M1277.55 1547.50V1983.20M1630.17 1547.50V1983.20M1982.78 1547.50V1983.20" stroke="#262626" stroke-opacity="0.15" stroke-width="2.78" fill="none"/>
<path d="M219.70 1765.35H2335.40" stroke="#262626" stroke-opacity="0.15" stroke-width="2.78" fill="none"/>
<path d="M572.32 1983.20v-22.40M572.32 1547.50v22.40M924.93 1983.20v-22.40M924.93 1547.50v22.40M1277.55 1983.20v-22.40M1277.55 1547.50v22.40M1630.17 1983.20v-22.40M1630.17 1547.50v22.40M1982.78 1983.20v-22.40M1982.78 1547.50v22.40M219.70 1765.35h22.40M2335.40 1765.35h-22.40" stroke="#262626" stroke-width="2.78" fill="none"/>
<rect x="219.70" y="1547.50" width="2115.70" height="435.70" stroke="#262626" stroke-width="2.78" fill="none"/>
<polyline clip-path="url(#clip-c)" points="216.2,1966.4 219.7,1978.8 223.2,1971.9 226.8,1975.6 230.3,1967.6 233.8,1965.4 237.3,1969.4 240.9,1976.4 244.4,1973.6 247.9,1973.7 251.4,1981.0 255.0,1976.6 258.5,1972.9 262.0,1976.7 265.5,1972.9 269.1,1970.3 272.6,1978.3 276.1,1973.1 279.6,1975.9 283.2,1973.8 286.7,1973.6 290.2,1974.0 293.7,1981.5 297.3,1972.0 300.8,1974.2 304.3,1974.4 307.9,1975.8 311.4,1978.6 314.9,1981.1 318.4,1981.0 322.0,1979.1 325.5,1973.9 329.0,1975.7 332.5,1973.2 336.1,1972.4 339.6,1965.8 343.1,1973.0 346.6,1972.4 350.2,1978.9 353.7,1978.3 357.2,1976.3 360.7,1979.9 364.3,1971.7 367.8,1973.4 371.3,1976.7 374.9,1979.9 378.4,1969.8 381.9,1975.4 385.4,1975.4 389.0,1968.6 392.5,1975.5 396.0,1969.1 399.5,1977.0 403.1,1969.7 406.6,1974.6 410.1,1980.1 413.6,1976.6 417.2,1966.8 420.7,1976.5 424.2,1974.3 427.7,1978.4 431.3,1977.7 434.8,1972.9 438.3,1973.1 441.8,1975.4 445.4,1978.0 448.9,1974.4 452.4,1978.7 456.0,1971.1 459.5,1980.8 463.0,1978.9 466.5,1966.7 470.1,1978.9 473.6,1966.4 477.1,1969.9 480.6,1979.9 484.2,1972.6 487.7,1973.7 491.2,1972.2 494.7,1976.0 498.3,1976.8 501.8,1976.4 505.3,1980.4 508.8,1977.9 512.4,1974.0 515.9,1970.4 519.4,1973.2 523.0,1973.5 526.5,1969.2 530.0,1974.8 533.5,1975.7 537.1,1974.7 540.6,1966.7 544.1,1970.8 547.6,1970.4 551.2,1973.5 554.7,1971.6 558.2,1973.7 561.7,1978.4 565.3,1977.4 568.8,1976.8 572.3,1968.4 575.8,1973.6 579.4,1977.3 582.9,1974.3 586.4,1974.0 589.9,1968.2 593.5,1972.8 597.0,1976.1 600.5,1976.8 604.1,1982.3 607.6,1975.6 611.1,1970.1 614.6,1975.7 618.2,1976.2 621.7,1976.4 625.2,1975.8 628.7,1970.3 632.3,1976.2 635.8,1980.3 639.3,1969.6 642.8,1979.9 646.4,1972.4 649.9,1966.8 653.4,1973.7 656.9,1973.4 660.5,1974.7 664.0,1975.7 667.5,1974.8 671.0,1972.0 674.6,1961.4 678.1,1976.2 681.6,1974.4 685.2,1978.6 688.7,1972.8 692.2,1976.6 695.7,1976.3 699.3,1968.4 702.8,1978.8 706.3,1969.5 709.8,1966.3 713.4,1973.3 716.9,1971.4 720.4,1964.7 723.9,1976.5 727.5,1977.2 731.0,1976.6 734.5,1972.4 738.0,1967.6 741.6,1968.0 745.1,1976.0 748.6,1974.3 752.2,1977.4 755.7,1972.0 759.2,1970.4 762.7,1969.4 766.3,1971.5 769.8,1974.5 773.3,1974.4 776.8,1974.9 780.4,1971.5 783.9,1971.3 787.4,1963.6 790.9,1969.0 794.5,1972.5 798.0,1980.2 801.5,1969.4 805.0,1978.1 808.6,1979.1 812.1,1969.1 815.6,1970.3 819.1,1971.7 822.7,1978.4 826.2,1970.7 829.7,1976.1 833.3,1969.2 836.8,1962.3 840.3,1967.8 843.8,1975.3 847.4,1975.7 850.9,1970.3 854.4,1968.2 857.9,1969.9 861.5,1970.1 865.0,1975.1 868.5,1965.8 872.0,1965.2 875.6,1966.4 879.1,1971.3 882.6,1968.4 886.1,1971.9 889.7,1967.0 893.2,1967.1 896.7,1974.3 900.3,1972.3 903.8,1967.4 907.3,1969.7 910.8,1967.4 914.4,1964.6 917.9,1977.3 921.4,1970.3 924.9,1968.1 928.5,1964.1 932.0,1968.4 935.5,1963.4 939.0,1967.2 942.6,1972.6 946.1,1970.6 949.6,1962.3 953.1,1964.8 956.7,1975.7 960.2,1960.2 963.7,1963.1 967.2,1960.8 970.8,1967.8 974.3,1965.2 977.8,1966.5 981.4,1954.5 984.9,1964.8 988.4,1956.6 991.9,1969.7 995.5,1962.8 999.0,1970.4 1002.5,1962.0 1006.0,1958.5 1009.6,1967.2 1013.1,1956.2 1016.6,1959.7 1020.1,1965.8 1023.7,1962.4 1027.2,1964.1 1030.7,1960.0 1034.2,1959.9 1037.8,1958.5 1041.3,1957.9 1044.8,1960.9 1048.3,1959.8 1051.9,1953.8 1055.4,1949.0 1058.9,1958.2 1062.5,1954.6 1066.0,1955.3 1069.5,1956.2 1073.0,1948.0 1076.6,1952.2 1080.1,1946.1 1083.6,1957.0 1087.1,1948.3 1090.7,1952.4 1094.2,1948.5 1097.7,1942.4 1101.2,1948.2 1104.8,1937.3 1108.3,1937.7 1111.8,1942.5 1115.3,1930.9 1118.9,1927.7 1122.4,1933.3 1125.9,1930.2 1129.5,1926.7 1133.0,1930.2 1136.5,1920.0 1140.0,1912.2 1143.6,1920.0 1147.1,1915.2 1150.6,1940.3 1154.1,1898.2 1157.7,1898.2 1161.2,1874.3 1164.7,1878.6 1168.2,1875.4 1171.8,1867.7 1175.3,1841.6 1178.8,1817.6 1182.3,1794.8 1185.9,1761.0 1189.4,1695.6 1192.9,1575.8 1196.4,1438.6 1200.0,894.0 1203.5,-4465.2 1207.0,894.0 1210.6,1514.8 1214.1,1641.2 1217.6,1708.7 1221.1,1771.9 1224.7,1798.9 1228.2,1826.3 1231.7,1837.9 1235.2,1866.7 1238.8,1878.6 1242.3,1883.2 1245.8,1881.2 1249.3,1898.9 1252.9,1896.1 1256.4,1935.3 1259.9,1921.5 1263.4,1924.4 1267.0,1926.6 1270.5,1928.7 1274.0,1927.2 1277.6,1930.3 1281.1,1933.1 1284.6,1941.5 1288.1,1928.3 1291.7,1935.2 1295.2,1934.2 1298.7,1946.5 1302.2,1953.5 1305.8,1944.3 1309.3,1945.5 1312.8,1946.9 1316.3,1952.8 1319.9,1950.9 1323.4,1945.2 1326.9,1954.7 1330.4,1944.0 1334.0,1946.7 1337.5,1948.2 1341.0,1955.2 1344.5,1954.9 1348.1,1954.9 1351.6,1957.2 1355.1,1957.2 1358.7,1958.2 1362.2,1956.1 1365.7,1961.4 1369.2,1954.3 1372.8,1960.4 1376.3,1963.0 1379.8,1962.7 1383.3,1963.0 1386.9,1964.8 1390.4,1959.2 1393.9,1961.7 1397.4,1966.3 1401.0,1960.7 1404.5,1968.1 1408.0,1964.1 1411.5,1963.4 1415.1,1972.3 1418.6,1963.0 1422.1,1965.3 1425.6,1964.0 1429.2,1966.0 1432.7,1966.6 1436.2,1969.5 1439.8,1966.4 1443.3,1968.7 1446.8,1964.8 1450.3,1970.6 1453.9,1967.1 1457.4,1963.6 1460.9,1967.0 1464.4,1969.2 1468.0,1964.7 1471.5,1972.4 1475.0,1966.6 1478.5,1967.1 1482.1,1967.7 1485.6,1968.0 1489.1,1970.2 1492.6,1968.4 1496.2,1965.5 1499.7,1968.3 1503.2,1966.9 1506.8,1974.1 1510.3,1967.8 1513.8,1965.5 1517.3,1966.7 1520.9,1967.3 1524.4,1973.0 1527.9,1968.7 1531.4,1969.6 1535.0,1979.1 1538.5,1969.9 1542.0,1978.0 1545.5,1974.6 1549.1,1972.5 1552.6,1966.8 1556.1,1970.8 1559.6,1968.9 1563.2,1966.2 1566.7,1966.1 1570.2,1972.9 1573.7,1972.5 1577.3,1975.2 1580.8,1974.3 1584.3,1970.2 1587.9,1970.9 1591.4,1972.4 1594.9,1970.1 1598.4,1974.9 1602.0,1973.1 1605.5,1971.9 1609.0,1972.1 1612.5,1967.4 1616.1,1973.1 1619.6,1974.2 1623.1,1971.9 1626.6,1974.5 1630.2,1979.4 1633.7,1972.1 1637.2,1973.9 1640.7,1971.8 1644.3,1979.1 1647.8,1975.0 1651.3,1975.3 1654.8,1975.0 1658.4,1980.1 1661.9,1975.6 1665.4,1970.9 1669.0,1973.1 1672.5,1975.8 1676.0,1975.4 1679.5,1971.8 1683.1,1976.3 1686.6,1975.4 1690.1,1972.6 1693.6,1972.3 1697.2,1969.7 1700.7,1971.0 1704.2,1974.9 1707.7,1973.8 1711.3,1972.5 1714.8,1976.6 1718.3,1974.5 1721.8,1973.3 1725.4,1969.3 1728.9,1975.7 1732.4,1975.2 1736.0,1973.8 1739.5,1970.9 1743.0,1976.2 1746.5,1970.6 1750.1,1978.4 1753.6,1977.1 1757.1,1974.4 1760.6,1973.3 1764.2,1972.4 1767.7,1978.9 1771.2,1977.3 1774.7,1974.8 1778.3,1974.5 1781.8,1980.9 1785.3,1973.7 1788.8,1973.9 1792.4,1974.1 1795.9,1977.2 1799.4,1973.2 1802.9,1974.5 1806.5,1973.5 1810.0,1976.8 1813.5,1978.7 1817.1,1975.5 1820.6,1976.9 1824.1,1974.2 1827.6,1975.7 1831.2,1979.0 1834.7,1974.4 1838.2,1977.0 1841.7,1973.1 1845.3,1978.8 1848.8,1978.2 1852.3,1973.0 1855.8,1969.9 1859.4,1970.3 1862.9,1976.9 1866.4,1976.2 1869.9,1973.1 1873.5,1977.7 1877.0,1979.4 1880.5,1976.5 1884.1,1975.6 1887.6,1977.3 1891.1,1979.8 1894.6,1978.3 1898.2,1975.4 1901.7,1979.6 1905.2,1977.7 1908.7,1975.7 1912.3,1974.5 1915.8,1977.4 1919.3,1976.1 1922.8,1980.3 1926.4,1978.9 1929.9,1981.1 1933.4,1972.3 1936.9,1977.5 1940.5,1977.6 1944.0,1978.0 1947.5,1978.3 1951.0,1974.8 1954.6,1979.3 1958.1,1978.8 1961.6,1978.5 1965.2,1970.6 1968.7,1975.4 1972.2,1977.3 1975.7,1976.2 1979.3,1972.1 1982.8,1978.2 1986.3,1976.1 1989.8,1974.1 1993.4,1976.2 1996.9,1976.2 2000.4,1979.3 2003.9,1972.4 2007.5,1973.5 2011.0,1975.8 2014.5,1976.6 2018.0,1979.7 2021.6,1975.7 2025.1,1978.1 2028.6,1976.1 2032.1,1976.1 2035.7,1979.7 2039.2,1980.6 2042.7,1977.2 2046.3,1979.5 2049.8,1978.1 2053.3,1979.3 2056.8,1979.5 2060.4,1981.4 2063.9,1972.9 2067.4,1977.6 2070.9,1975.8 2074.5,1972.3 2078.0,1978.3 2081.5,1976.5 2085.0,1980.6 2088.6,1981.2 2092.1,1979.5 2095.6,1976.1 2099.1,1981.0 2102.7,1978.0 2106.2,1981.0 2109.7,1976.8 2113.3,1978.8 2116.8,1976.1 2120.3,1978.0 2123.8,1979.6 2127.4,1980.4 2130.9,1980.3 2134.4,1978.2 2137.9,1972.9 2141.5,1973.3 2145.0,1974.0 2148.5,1976.1 2152.0,1979.2 2155.6,1974.6 2159.1,1978.0 2162.6,1978.7 2166.1,1980.4 2169.7,1977.4 2173.2,1978.4 2176.7,1978.6 2180.2,1981.0 2183.8,1976.4 2187.3,1973.1 2190.8,1978.9 2194.4,1979.1 2197.9,1975.9 2201.4,1976.9 2204.9,1979.7 2208.5,1979.8 2212.0,1975.6 2215.5,1977.7 2219.0,1978.5 2222.6,1974.2 2226.1,1980.7 2229.6,1977.7 2233.1,1980.7 2236.7,1974.4 2240.2,1981.6 2243.7,1981.2 2247.2,1979.3 2250.8,1977.0 2254.3,1976.2 2257.8,1975.5 2261.4,1980.8 2264.9,1977.4 2268.4,1979.3 2271.9,1980.5 2275.5,1977.2 2279.0,1980.2 2282.5,1979.6 2286.0,1976.6 2289.6,1980.4 2293.1,1980.1 2296.6,1978.7 2300.1,1977.2 2303.7,1974.5 2307.2,1979.1 2310.7,1982.0 2314.2,1981.0 2317.8,1976.9 2321.3,1981.2 2324.8,1977.3 2328.3,1979.6 2331.9,1980.9 2335.4,1977.9 2338.9,1977.9" fill="none" stroke="#0072bd" stroke-width="2.78" stroke-linejoin="round"/>
<g font-size="54.8" fill="#262626">
<text transform="translate(218.8 2063.7) scale(1 1.027)" text-anchor="middle">20</text>
<text transform="translate(571.4 2063.7) scale(1 1.027)" text-anchor="middle">30</text>
<text transform="translate(924.0 2063.7) scale(1 1.027)" text-anchor="middle">40</text>
<text transform="translate(1276.7 2063.7) scale(1 1.027)" text-anchor="middle">50</text>
<text transform="translate(1629.3 2063.7) scale(1 1.027)" text-anchor="middle">60</text>
<text transform="translate(1981.9 2063.7) scale(1 1.027)" text-anchor="middle">70</text>
<text transform="translate(2334.5 2063.7) scale(1 1.027)" text-anchor="middle">80</text>
<text transform="translate(195.5 2005.7) scale(1 1.027)" text-anchor="end">0</text>
<text transform="translate(195.5 1787.8) scale(1 1.027)" text-anchor="end">0.1</text>
<text transform="translate(195.5 1570.0) scale(1 1.027)" text-anchor="end">0.2</text>
</g>
<g font-size="59.5" fill="#262626">
<text x="1279.8" y="2143.7" text-anchor="middle">Frequency [Hz]</text>
<text x="1279.5" y="2218.4" text-anchor="middle">(c)</text>
<text transform="translate(90.8 1763.8) rotate(-90)" text-anchor="middle">Amplitude [A]</text>
</g>
</g>
</svg>
</body></html>
